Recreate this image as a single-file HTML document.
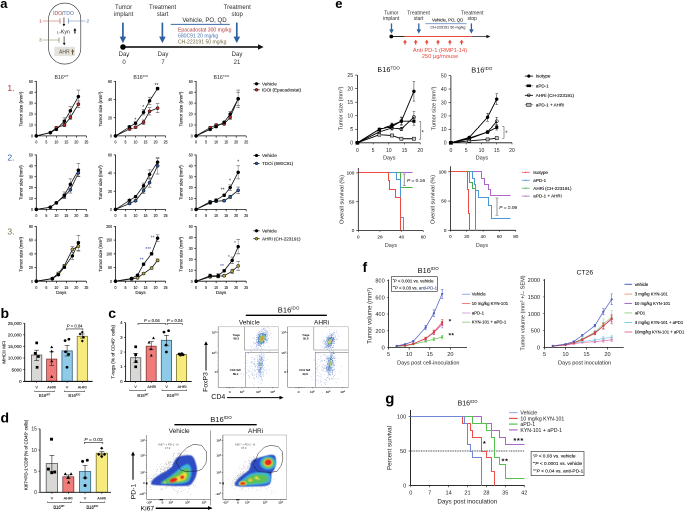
<!DOCTYPE html>
<html><head><meta charset="utf-8"><style>
html,body{margin:0;padding:0;background:#fff;}
body{width:685px;height:511px;overflow:hidden;position:relative;}
#w{position:absolute;left:0;top:0;width:1370px;height:1022px;transform:scale(0.5);transform-origin:0 0;will-change:transform;}
svg{display:block;font-family:"Liberation Sans",sans-serif;}
</style></head><body><div id="w">
<svg width="1370" height="1022" viewBox="0 0 685 511">
<text x="0.3" y="8.2" font-size="13" fill="#000" text-anchor="start" font-weight="bold" >a</text>
<text x="335.3" y="8" font-size="13" fill="#000" text-anchor="start" font-weight="bold" >e</text>
<text x="0.5" y="318" font-size="14" fill="#000" text-anchor="start" font-weight="bold" >b</text>
<text x="108.3" y="318" font-size="14" fill="#000" text-anchor="start" font-weight="bold" >c</text>
<text x="0.5" y="422.3" font-size="14" fill="#000" text-anchor="start" font-weight="bold" >d</text>
<text x="362.5" y="271.8" font-size="14" fill="#000" text-anchor="start" font-weight="bold" >f</text>
<text x="385.3" y="403.5" font-size="15" fill="#000" text-anchor="start" font-weight="bold" >g</text>
<rect x="48.6" y="3.1" width="32.2" height="61" fill="none" stroke="#222" stroke-width="0.6" rx="16" ry="16"/>
<text x="63.5" y="15.2" font-size="5" text-anchor="middle"><tspan fill="#b23a3a">IDO</tspan><tspan fill="#333">/</tspan><tspan fill="#4a6fa8">TDO</tspan></text>
<line x1="42.5" y1="21" x2="60" y2="21" stroke="#c0504d" stroke-width="0.5" />
<line x1="60" y1="18.2" x2="60" y2="23.6" stroke="#c0504d" stroke-width="0.7" />
<text x="40.4" y="22.5" font-size="4.2" fill="#c0504d" text-anchor="middle" font-weight="normal"  stroke="#c0504d" stroke-width="0.12">1</text>
<line x1="68.3" y1="21" x2="85.5" y2="21" stroke="#5b7fb5" stroke-width="0.5" />
<line x1="68.3" y1="18.2" x2="68.3" y2="23.6" stroke="#5b7fb5" stroke-width="0.7" />
<text x="87.8" y="22.5" font-size="4.2" fill="#5b7fb5" text-anchor="middle" font-weight="normal"  stroke="#5b7fb5" stroke-width="0.12">2</text>
<line x1="42.5" y1="40" x2="59" y2="40" stroke="#857a52" stroke-width="0.5" />
<line x1="59" y1="37.4" x2="59" y2="42.6" stroke="#857a52" stroke-width="0.7" />
<text x="40.4" y="41.5" font-size="4.2" fill="#857a52" text-anchor="middle" font-weight="normal"  stroke="#857a52" stroke-width="0.12">3</text>
<line x1="63.9" y1="17.4" x2="63.9" y2="24.4" stroke="#8a8a8a" stroke-width="1.3" />
<polygon points="62.5,24 65.3,24 63.9,26.5" fill="#111" stroke="none" stroke-width="1" />
<line x1="64.2" y1="36.3" x2="64.2" y2="43.3" stroke="#8a8a8a" stroke-width="1.3" />
<polygon points="62.8,42.9 65.6,42.9 64.2,45.4" fill="#111" stroke="none" stroke-width="1" />
<text x="57" y="33.4" font-size="5.2" fill="#222" text-anchor="start" font-weight="normal" ><tspan font-size="3.9">L</tspan>-Kyn</text>
<line x1="74.9" y1="30.3" x2="74.9" y2="33.6" stroke="#111" stroke-width="1.1" />
<polygon points="73.4,30.6 76.4,30.6 74.9,28" fill="#111" stroke="none" stroke-width="1" />
<rect x="54.2" y="46.8" width="20.8" height="9.3" fill="#e3e2de" stroke="none" stroke-width="1" />
<text x="59" y="53.6" font-size="5" fill="#5a5030" text-anchor="start" font-weight="normal" >AHR</text>
<line x1="72.6" y1="51.3" x2="72.6" y2="54.6" stroke="#6a5a30" stroke-width="1.1" />
<polygon points="71.1,51.6 74.1,51.6 72.6,49" fill="#6a5a30" stroke="none" stroke-width="1" />
<text x="123.6" y="9" font-size="6" fill="#2a2a2a" text-anchor="middle" font-weight="normal" >Tumor</text>
<text x="123.6" y="16.2" font-size="6" fill="#2a2a2a" text-anchor="middle" font-weight="normal" >implant</text>
<text x="162.6" y="9" font-size="6" fill="#2a2a2a" text-anchor="middle" font-weight="normal" >Treatment</text>
<text x="162.6" y="16.2" font-size="6" fill="#2a2a2a" text-anchor="middle" font-weight="normal" >start</text>
<text x="237.2" y="9" font-size="6" fill="#2a2a2a" text-anchor="middle" font-weight="normal" >Treatment</text>
<text x="237.2" y="16.2" font-size="6" fill="#2a2a2a" text-anchor="middle" font-weight="normal" >stop</text>
<line x1="122.9" y1="22.6" x2="122.9" y2="37.1" stroke="#2e61a0" stroke-width="1.7" />
<polygon points="119.6,36.6 126.2,36.6 122.9,43.1" fill="#2e61a0" stroke="none" stroke-width="1" />
<line x1="162.4" y1="22.6" x2="162.4" y2="37.1" stroke="#2e61a0" stroke-width="1.7" />
<polygon points="159.1,36.6 165.7,36.6 162.4,43.1" fill="#2e61a0" stroke="none" stroke-width="1" />
<line x1="236.8" y1="22.6" x2="236.8" y2="37.1" stroke="#2e61a0" stroke-width="1.7" />
<polygon points="233.5,36.6 240.1,36.6 236.8,43.1" fill="#2e61a0" stroke="none" stroke-width="1" />
<line x1="123" y1="47" x2="259" y2="47" stroke="#000" stroke-width="1.5" />
<polygon points="258,44.3 258,49.7 263.6,47" fill="#111" stroke="none" stroke-width="1" />
<circle cx="123" cy="47" r="2.8" fill="#000" stroke="none" stroke-width="0.5"/>
<text x="124" y="56.2" font-size="6" fill="#2a2a2a" text-anchor="middle" font-weight="normal" >Day</text>
<text x="124" y="64.1" font-size="6" fill="#2a2a2a" text-anchor="middle" font-weight="normal" >0</text>
<text x="163" y="56.2" font-size="6" fill="#2a2a2a" text-anchor="middle" font-weight="normal" >Day</text>
<text x="163" y="64.1" font-size="6" fill="#2a2a2a" text-anchor="middle" font-weight="normal" >7</text>
<text x="237" y="56.2" font-size="6" fill="#2a2a2a" text-anchor="middle" font-weight="normal" >Day</text>
<text x="237" y="64.1" font-size="6" fill="#2a2a2a" text-anchor="middle" font-weight="normal" >21</text>
<text x="204.5" y="22" font-size="6.1" fill="#2a2a2a" text-anchor="middle" font-weight="normal" >Vehicle, PO, QD</text>
<line x1="170.7" y1="24.4" x2="229.8" y2="24.4" stroke="#3d6aa5" stroke-width="1" />
<text x="178" y="31.5" font-size="5.1" fill="#b03a3a" text-anchor="start" font-weight="normal" >Epacadostat 300 mg/kg</text>
<text x="178" y="37.6" font-size="5.1" fill="#4a70b0" text-anchor="start" font-weight="normal" >680C91 20 mg/kg</text>
<text x="178" y="43.7" font-size="5.1" fill="#6e6540" text-anchor="start" font-weight="normal" >CH-223191 50 mg/kg</text>
<line x1="36.3" y1="81" x2="36.3" y2="135.9" stroke="#111" stroke-width="0.8" />
<line x1="36.3" y1="135.9" x2="86.4" y2="135.9" stroke="#111" stroke-width="0.8" />
<line x1="34.5" y1="135.9" x2="36.3" y2="135.9" stroke="#111" stroke-width="0.7" />
<text transform="translate(32.9 137.45) scale(0.82 1)" font-size="4.3" fill="#1a1a1a" text-anchor="end" stroke="#1a1a1a" stroke-width="0.12">0</text>
<line x1="34.5" y1="124.98" x2="36.3" y2="124.98" stroke="#111" stroke-width="0.7" />
<text transform="translate(32.9 126.53) scale(0.82 1)" font-size="4.3" fill="#1a1a1a" text-anchor="end" stroke="#1a1a1a" stroke-width="0.12">10</text>
<line x1="34.5" y1="114.06" x2="36.3" y2="114.06" stroke="#111" stroke-width="0.7" />
<text transform="translate(32.9 115.61) scale(0.82 1)" font-size="4.3" fill="#1a1a1a" text-anchor="end" stroke="#1a1a1a" stroke-width="0.12">20</text>
<line x1="34.5" y1="103.14" x2="36.3" y2="103.14" stroke="#111" stroke-width="0.7" />
<text transform="translate(32.9 104.69) scale(0.82 1)" font-size="4.3" fill="#1a1a1a" text-anchor="end" stroke="#1a1a1a" stroke-width="0.12">30</text>
<line x1="34.5" y1="92.22" x2="36.3" y2="92.22" stroke="#111" stroke-width="0.7" />
<text transform="translate(32.9 93.77) scale(0.82 1)" font-size="4.3" fill="#1a1a1a" text-anchor="end" stroke="#1a1a1a" stroke-width="0.12">40</text>
<line x1="34.5" y1="81.3" x2="36.3" y2="81.3" stroke="#111" stroke-width="0.7" />
<text transform="translate(32.9 82.85) scale(0.82 1)" font-size="4.3" fill="#1a1a1a" text-anchor="end" stroke="#1a1a1a" stroke-width="0.12">50</text>
<line x1="36.3" y1="135.9" x2="36.3" y2="137.8" stroke="#111" stroke-width="0.7" />
<text transform="translate(36.3 143.6) scale(0.82 1)" font-size="4.3" fill="#1a1a1a" text-anchor="middle" stroke="#1a1a1a" stroke-width="0.12">0</text>
<line x1="46.32" y1="135.9" x2="46.32" y2="137.8" stroke="#111" stroke-width="0.7" />
<text transform="translate(46.32 143.6) scale(0.82 1)" font-size="4.3" fill="#1a1a1a" text-anchor="middle" stroke="#1a1a1a" stroke-width="0.12">5</text>
<line x1="56.34" y1="135.9" x2="56.34" y2="137.8" stroke="#111" stroke-width="0.7" />
<text transform="translate(56.34 143.6) scale(0.82 1)" font-size="4.3" fill="#1a1a1a" text-anchor="middle" stroke="#1a1a1a" stroke-width="0.12">10</text>
<line x1="66.36" y1="135.9" x2="66.36" y2="137.8" stroke="#111" stroke-width="0.7" />
<text transform="translate(66.36 143.6) scale(0.82 1)" font-size="4.3" fill="#1a1a1a" text-anchor="middle" stroke="#1a1a1a" stroke-width="0.12">15</text>
<line x1="76.38" y1="135.9" x2="76.38" y2="137.8" stroke="#111" stroke-width="0.7" />
<text transform="translate(76.38 143.6) scale(0.82 1)" font-size="4.3" fill="#1a1a1a" text-anchor="middle" stroke="#1a1a1a" stroke-width="0.12">20</text>
<line x1="86.4" y1="135.9" x2="86.4" y2="137.8" stroke="#111" stroke-width="0.7" />
<text transform="translate(86.4 143.6) scale(0.82 1)" font-size="4.3" fill="#1a1a1a" text-anchor="middle" stroke="#1a1a1a" stroke-width="0.12">25</text>
<text transform="translate(22.7 109.1) rotate(-90)" font-size="4.45" fill="#1a1a1a" text-anchor="middle"  stroke="#1a1a1a" stroke-width="0.12">Tumor size (mm<tspan font-size="2.6" dy="-1.4">3</tspan><tspan dy="1.4">)</tspan></text>
<text x="61.6" y="78.8" font-size="5.2" fill="#222" text-anchor="middle" font-weight="normal" >B16<tspan font-size="3.12" dy="-1.82">WT</tspan></text>
<polyline points="36.3,135.9 50.33,132.62 56.34,129.35 64.36,121.16 70.37,110.78 78.38,96.59" stroke="#111" stroke-width="0.8" fill="none" />
<polyline points="36.3,135.9 50.33,132.62 56.34,127.71 64.36,124.98 70.37,117.34 78.38,104.23" stroke="#111" stroke-width="0.8" fill="none" />
<line x1="50.33" y1="131.97" x2="50.33" y2="133.28" stroke="#8a8a8a" stroke-width="0.6" />
<line x1="48.53" y1="131.97" x2="52.13" y2="131.97" stroke="#555" stroke-width="0.6" />
<line x1="48.53" y1="133.28" x2="52.13" y2="133.28" stroke="#555" stroke-width="0.6" />
<line x1="56.34" y1="128.26" x2="56.34" y2="130.44" stroke="#8a8a8a" stroke-width="0.6" />
<line x1="54.54" y1="128.26" x2="58.14" y2="128.26" stroke="#555" stroke-width="0.6" />
<line x1="54.54" y1="130.44" x2="58.14" y2="130.44" stroke="#555" stroke-width="0.6" />
<line x1="64.36" y1="117.88" x2="64.36" y2="124.43" stroke="#8a8a8a" stroke-width="0.6" />
<line x1="62.56" y1="117.88" x2="66.16" y2="117.88" stroke="#555" stroke-width="0.6" />
<line x1="62.56" y1="124.43" x2="66.16" y2="124.43" stroke="#555" stroke-width="0.6" />
<line x1="70.37" y1="106.42" x2="70.37" y2="115.15" stroke="#8a8a8a" stroke-width="0.6" />
<line x1="68.57" y1="106.42" x2="72.17" y2="106.42" stroke="#555" stroke-width="0.6" />
<line x1="68.57" y1="115.15" x2="72.17" y2="115.15" stroke="#555" stroke-width="0.6" />
<line x1="78.38" y1="90.04" x2="78.38" y2="103.14" stroke="#8a8a8a" stroke-width="0.6" />
<line x1="76.58" y1="90.04" x2="80.18" y2="90.04" stroke="#555" stroke-width="0.6" />
<line x1="76.58" y1="103.14" x2="80.18" y2="103.14" stroke="#555" stroke-width="0.6" />
<line x1="50.33" y1="131.97" x2="50.33" y2="133.28" stroke="#8a8a8a" stroke-width="0.6" />
<line x1="48.53" y1="131.97" x2="52.13" y2="131.97" stroke="#555" stroke-width="0.6" />
<line x1="48.53" y1="133.28" x2="52.13" y2="133.28" stroke="#555" stroke-width="0.6" />
<line x1="56.34" y1="126.62" x2="56.34" y2="128.8" stroke="#8a8a8a" stroke-width="0.6" />
<line x1="54.54" y1="126.62" x2="58.14" y2="126.62" stroke="#555" stroke-width="0.6" />
<line x1="54.54" y1="128.8" x2="58.14" y2="128.8" stroke="#555" stroke-width="0.6" />
<line x1="64.36" y1="123.34" x2="64.36" y2="126.62" stroke="#8a8a8a" stroke-width="0.6" />
<line x1="62.56" y1="123.34" x2="66.16" y2="123.34" stroke="#555" stroke-width="0.6" />
<line x1="62.56" y1="126.62" x2="66.16" y2="126.62" stroke="#555" stroke-width="0.6" />
<line x1="70.37" y1="115.15" x2="70.37" y2="119.52" stroke="#8a8a8a" stroke-width="0.6" />
<line x1="68.57" y1="115.15" x2="72.17" y2="115.15" stroke="#555" stroke-width="0.6" />
<line x1="68.57" y1="119.52" x2="72.17" y2="119.52" stroke="#555" stroke-width="0.6" />
<line x1="78.38" y1="100.96" x2="78.38" y2="107.51" stroke="#8a8a8a" stroke-width="0.6" />
<line x1="76.58" y1="100.96" x2="80.18" y2="100.96" stroke="#555" stroke-width="0.6" />
<line x1="76.58" y1="107.51" x2="80.18" y2="107.51" stroke="#555" stroke-width="0.6" />
<circle cx="36.3" cy="135.9" r="1.55" fill="#c1272d" stroke="#000" stroke-width="0.5"/>
<circle cx="50.33" cy="132.62" r="1.55" fill="#c1272d" stroke="#000" stroke-width="0.5"/>
<circle cx="56.34" cy="127.71" r="1.55" fill="#c1272d" stroke="#000" stroke-width="0.5"/>
<circle cx="64.36" cy="124.98" r="1.55" fill="#c1272d" stroke="#000" stroke-width="0.5"/>
<circle cx="70.37" cy="117.34" r="1.55" fill="#c1272d" stroke="#000" stroke-width="0.5"/>
<circle cx="78.38" cy="104.23" r="1.55" fill="#c1272d" stroke="#000" stroke-width="0.5"/>
<circle cx="36.3" cy="135.9" r="1.55" fill="#000" stroke="#000" stroke-width="0.5"/>
<circle cx="50.33" cy="132.62" r="1.55" fill="#000" stroke="#000" stroke-width="0.5"/>
<circle cx="56.34" cy="129.35" r="1.55" fill="#000" stroke="#000" stroke-width="0.5"/>
<circle cx="64.36" cy="121.16" r="1.55" fill="#000" stroke="#000" stroke-width="0.5"/>
<circle cx="70.37" cy="110.78" r="1.55" fill="#000" stroke="#000" stroke-width="0.5"/>
<circle cx="78.38" cy="96.59" r="1.55" fill="#000" stroke="#000" stroke-width="0.5"/>
<line x1="115.5" y1="81" x2="115.5" y2="135.9" stroke="#111" stroke-width="0.8" />
<line x1="115.5" y1="135.9" x2="165.6" y2="135.9" stroke="#111" stroke-width="0.8" />
<line x1="113.7" y1="135.9" x2="115.5" y2="135.9" stroke="#111" stroke-width="0.7" />
<text transform="translate(112.1 137.45) scale(0.82 1)" font-size="4.3" fill="#1a1a1a" text-anchor="end" stroke="#1a1a1a" stroke-width="0.12">0</text>
<line x1="113.7" y1="117.7" x2="115.5" y2="117.7" stroke="#111" stroke-width="0.7" />
<text transform="translate(112.1 119.25) scale(0.82 1)" font-size="4.3" fill="#1a1a1a" text-anchor="end" stroke="#1a1a1a" stroke-width="0.12">20</text>
<line x1="113.7" y1="99.5" x2="115.5" y2="99.5" stroke="#111" stroke-width="0.7" />
<text transform="translate(112.1 101.05) scale(0.82 1)" font-size="4.3" fill="#1a1a1a" text-anchor="end" stroke="#1a1a1a" stroke-width="0.12">40</text>
<line x1="113.7" y1="81.3" x2="115.5" y2="81.3" stroke="#111" stroke-width="0.7" />
<text transform="translate(112.1 82.85) scale(0.82 1)" font-size="4.3" fill="#1a1a1a" text-anchor="end" stroke="#1a1a1a" stroke-width="0.12">60</text>
<line x1="115.5" y1="135.9" x2="115.5" y2="137.8" stroke="#111" stroke-width="0.7" />
<text transform="translate(115.5 143.6) scale(0.82 1)" font-size="4.3" fill="#1a1a1a" text-anchor="middle" stroke="#1a1a1a" stroke-width="0.12">0</text>
<line x1="125.52" y1="135.9" x2="125.52" y2="137.8" stroke="#111" stroke-width="0.7" />
<text transform="translate(125.52 143.6) scale(0.82 1)" font-size="4.3" fill="#1a1a1a" text-anchor="middle" stroke="#1a1a1a" stroke-width="0.12">5</text>
<line x1="135.54" y1="135.9" x2="135.54" y2="137.8" stroke="#111" stroke-width="0.7" />
<text transform="translate(135.54 143.6) scale(0.82 1)" font-size="4.3" fill="#1a1a1a" text-anchor="middle" stroke="#1a1a1a" stroke-width="0.12">10</text>
<line x1="145.56" y1="135.9" x2="145.56" y2="137.8" stroke="#111" stroke-width="0.7" />
<text transform="translate(145.56 143.6) scale(0.82 1)" font-size="4.3" fill="#1a1a1a" text-anchor="middle" stroke="#1a1a1a" stroke-width="0.12">15</text>
<line x1="155.58" y1="135.9" x2="155.58" y2="137.8" stroke="#111" stroke-width="0.7" />
<text transform="translate(155.58 143.6) scale(0.82 1)" font-size="4.3" fill="#1a1a1a" text-anchor="middle" stroke="#1a1a1a" stroke-width="0.12">20</text>
<line x1="165.6" y1="135.9" x2="165.6" y2="137.8" stroke="#111" stroke-width="0.7" />
<text transform="translate(165.6 143.6) scale(0.82 1)" font-size="4.3" fill="#1a1a1a" text-anchor="middle" stroke="#1a1a1a" stroke-width="0.12">25</text>
<text transform="translate(101.9 109.1) rotate(-90)" font-size="4.45" fill="#1a1a1a" text-anchor="middle"  stroke="#1a1a1a" stroke-width="0.12">Tumor size (mm<tspan font-size="2.6" dy="-1.4">3</tspan><tspan dy="1.4">)</tspan></text>
<text x="140.8" y="78.8" font-size="5.2" fill="#222" text-anchor="middle" font-weight="normal" >B16<tspan font-size="3.12" dy="-1.82">IDO</tspan></text>
<polyline points="115.5,135.9 129.53,126.8 135.54,123.16 143.56,112.24 149.57,100.87 157.58,88.58" stroke="#111" stroke-width="0.8" fill="none" />
<polyline points="115.5,135.9 129.53,129.08 135.54,127.26 143.56,122.25 149.57,111.33 157.58,108.15" stroke="#111" stroke-width="0.8" fill="none" />
<line x1="129.53" y1="125.89" x2="129.53" y2="127.71" stroke="#8a8a8a" stroke-width="0.6" />
<line x1="127.73" y1="125.89" x2="131.33" y2="125.89" stroke="#555" stroke-width="0.6" />
<line x1="127.73" y1="127.71" x2="131.33" y2="127.71" stroke="#555" stroke-width="0.6" />
<line x1="135.54" y1="121.8" x2="135.54" y2="124.52" stroke="#8a8a8a" stroke-width="0.6" />
<line x1="133.74" y1="121.8" x2="137.34" y2="121.8" stroke="#555" stroke-width="0.6" />
<line x1="133.74" y1="124.52" x2="137.34" y2="124.52" stroke="#555" stroke-width="0.6" />
<line x1="143.56" y1="109.51" x2="143.56" y2="114.97" stroke="#8a8a8a" stroke-width="0.6" />
<line x1="141.76" y1="109.51" x2="145.36" y2="109.51" stroke="#555" stroke-width="0.6" />
<line x1="141.76" y1="114.97" x2="145.36" y2="114.97" stroke="#555" stroke-width="0.6" />
<line x1="149.57" y1="97.23" x2="149.57" y2="104.51" stroke="#8a8a8a" stroke-width="0.6" />
<line x1="147.77" y1="97.23" x2="151.37" y2="97.23" stroke="#555" stroke-width="0.6" />
<line x1="147.77" y1="104.51" x2="151.37" y2="104.51" stroke="#555" stroke-width="0.6" />
<line x1="157.58" y1="87.22" x2="157.58" y2="89.94" stroke="#8a8a8a" stroke-width="0.6" />
<line x1="155.78" y1="87.22" x2="159.38" y2="87.22" stroke="#555" stroke-width="0.6" />
<line x1="155.78" y1="89.94" x2="159.38" y2="89.94" stroke="#555" stroke-width="0.6" />
<line x1="129.53" y1="128.17" x2="129.53" y2="129.99" stroke="#8a8a8a" stroke-width="0.6" />
<line x1="127.73" y1="128.17" x2="131.33" y2="128.17" stroke="#555" stroke-width="0.6" />
<line x1="127.73" y1="129.99" x2="131.33" y2="129.99" stroke="#555" stroke-width="0.6" />
<line x1="135.54" y1="126.35" x2="135.54" y2="128.17" stroke="#8a8a8a" stroke-width="0.6" />
<line x1="133.74" y1="126.35" x2="137.34" y2="126.35" stroke="#555" stroke-width="0.6" />
<line x1="133.74" y1="128.17" x2="137.34" y2="128.17" stroke="#555" stroke-width="0.6" />
<line x1="143.56" y1="119.97" x2="143.56" y2="124.53" stroke="#8a8a8a" stroke-width="0.6" />
<line x1="141.76" y1="119.97" x2="145.36" y2="119.97" stroke="#555" stroke-width="0.6" />
<line x1="141.76" y1="124.53" x2="145.36" y2="124.53" stroke="#555" stroke-width="0.6" />
<line x1="149.57" y1="107.69" x2="149.57" y2="114.97" stroke="#8a8a8a" stroke-width="0.6" />
<line x1="147.77" y1="107.69" x2="151.37" y2="107.69" stroke="#555" stroke-width="0.6" />
<line x1="147.77" y1="114.97" x2="151.37" y2="114.97" stroke="#555" stroke-width="0.6" />
<line x1="157.58" y1="103.6" x2="157.58" y2="112.7" stroke="#8a8a8a" stroke-width="0.6" />
<line x1="155.78" y1="103.6" x2="159.38" y2="103.6" stroke="#555" stroke-width="0.6" />
<line x1="155.78" y1="112.7" x2="159.38" y2="112.7" stroke="#555" stroke-width="0.6" />
<circle cx="115.5" cy="135.9" r="1.55" fill="#c1272d" stroke="#000" stroke-width="0.5"/>
<circle cx="129.53" cy="129.08" r="1.55" fill="#c1272d" stroke="#000" stroke-width="0.5"/>
<circle cx="135.54" cy="127.26" r="1.55" fill="#c1272d" stroke="#000" stroke-width="0.5"/>
<circle cx="143.56" cy="122.25" r="1.55" fill="#c1272d" stroke="#000" stroke-width="0.5"/>
<circle cx="149.57" cy="111.33" r="1.55" fill="#c1272d" stroke="#000" stroke-width="0.5"/>
<circle cx="157.58" cy="108.15" r="1.55" fill="#c1272d" stroke="#000" stroke-width="0.5"/>
<circle cx="115.5" cy="135.9" r="1.55" fill="#000" stroke="#000" stroke-width="0.5"/>
<circle cx="129.53" cy="126.8" r="1.55" fill="#000" stroke="#000" stroke-width="0.5"/>
<circle cx="135.54" cy="123.16" r="1.55" fill="#000" stroke="#000" stroke-width="0.5"/>
<circle cx="143.56" cy="112.24" r="1.55" fill="#000" stroke="#000" stroke-width="0.5"/>
<circle cx="149.57" cy="100.87" r="1.55" fill="#000" stroke="#000" stroke-width="0.5"/>
<circle cx="157.58" cy="88.58" r="1.55" fill="#000" stroke="#000" stroke-width="0.5"/>
<text x="135.4" y="121.7" font-size="5" fill="#222" text-anchor="middle" font-weight="normal" >*</text>
<text x="143.2" y="109.2" font-size="5" fill="#222" text-anchor="middle" font-weight="normal" >*</text>
<text x="156.5" y="86.9" font-size="5" fill="#222" text-anchor="middle" font-weight="normal" >**</text>
<line x1="196.1" y1="81" x2="196.1" y2="135.9" stroke="#111" stroke-width="0.8" />
<line x1="196.1" y1="135.9" x2="246.2" y2="135.9" stroke="#111" stroke-width="0.8" />
<line x1="194.3" y1="135.9" x2="196.1" y2="135.9" stroke="#111" stroke-width="0.7" />
<text transform="translate(192.7 137.45) scale(0.82 1)" font-size="4.3" fill="#1a1a1a" text-anchor="end" stroke="#1a1a1a" stroke-width="0.12">0</text>
<line x1="194.3" y1="124.98" x2="196.1" y2="124.98" stroke="#111" stroke-width="0.7" />
<text transform="translate(192.7 126.53) scale(0.82 1)" font-size="4.3" fill="#1a1a1a" text-anchor="end" stroke="#1a1a1a" stroke-width="0.12">10</text>
<line x1="194.3" y1="114.06" x2="196.1" y2="114.06" stroke="#111" stroke-width="0.7" />
<text transform="translate(192.7 115.61) scale(0.82 1)" font-size="4.3" fill="#1a1a1a" text-anchor="end" stroke="#1a1a1a" stroke-width="0.12">20</text>
<line x1="194.3" y1="103.14" x2="196.1" y2="103.14" stroke="#111" stroke-width="0.7" />
<text transform="translate(192.7 104.69) scale(0.82 1)" font-size="4.3" fill="#1a1a1a" text-anchor="end" stroke="#1a1a1a" stroke-width="0.12">30</text>
<line x1="194.3" y1="92.22" x2="196.1" y2="92.22" stroke="#111" stroke-width="0.7" />
<text transform="translate(192.7 93.77) scale(0.82 1)" font-size="4.3" fill="#1a1a1a" text-anchor="end" stroke="#1a1a1a" stroke-width="0.12">40</text>
<line x1="194.3" y1="81.3" x2="196.1" y2="81.3" stroke="#111" stroke-width="0.7" />
<text transform="translate(192.7 82.85) scale(0.82 1)" font-size="4.3" fill="#1a1a1a" text-anchor="end" stroke="#1a1a1a" stroke-width="0.12">50</text>
<line x1="196.1" y1="135.9" x2="196.1" y2="137.8" stroke="#111" stroke-width="0.7" />
<text transform="translate(196.1 143.6) scale(0.82 1)" font-size="4.3" fill="#1a1a1a" text-anchor="middle" stroke="#1a1a1a" stroke-width="0.12">0</text>
<line x1="206.12" y1="135.9" x2="206.12" y2="137.8" stroke="#111" stroke-width="0.7" />
<text transform="translate(206.12 143.6) scale(0.82 1)" font-size="4.3" fill="#1a1a1a" text-anchor="middle" stroke="#1a1a1a" stroke-width="0.12">5</text>
<line x1="216.14" y1="135.9" x2="216.14" y2="137.8" stroke="#111" stroke-width="0.7" />
<text transform="translate(216.14 143.6) scale(0.82 1)" font-size="4.3" fill="#1a1a1a" text-anchor="middle" stroke="#1a1a1a" stroke-width="0.12">10</text>
<line x1="226.16" y1="135.9" x2="226.16" y2="137.8" stroke="#111" stroke-width="0.7" />
<text transform="translate(226.16 143.6) scale(0.82 1)" font-size="4.3" fill="#1a1a1a" text-anchor="middle" stroke="#1a1a1a" stroke-width="0.12">15</text>
<line x1="236.18" y1="135.9" x2="236.18" y2="137.8" stroke="#111" stroke-width="0.7" />
<text transform="translate(236.18 143.6) scale(0.82 1)" font-size="4.3" fill="#1a1a1a" text-anchor="middle" stroke="#1a1a1a" stroke-width="0.12">20</text>
<line x1="246.2" y1="135.9" x2="246.2" y2="137.8" stroke="#111" stroke-width="0.7" />
<text transform="translate(246.2 143.6) scale(0.82 1)" font-size="4.3" fill="#1a1a1a" text-anchor="middle" stroke="#1a1a1a" stroke-width="0.12">25</text>
<text transform="translate(182.5 109.1) rotate(-90)" font-size="4.45" fill="#1a1a1a" text-anchor="middle"  stroke="#1a1a1a" stroke-width="0.12">Tumor size (mm<tspan font-size="2.6" dy="-1.4">3</tspan><tspan dy="1.4">)</tspan></text>
<text x="221.4" y="78.8" font-size="5.2" fill="#222" text-anchor="middle" font-weight="normal" >B16<tspan font-size="3.12" dy="-1.82">TDO</tspan></text>
<polyline points="196.1,135.9 210.13,129.35 216.14,126.62 224.16,122.25 230.17,114.06 238.18,98.77" stroke="#111" stroke-width="0.8" fill="none" />
<polyline points="196.1,135.9 210.13,127.71 216.14,124.98 224.16,123.89 230.17,117.34 238.18,98.77" stroke="#111" stroke-width="0.8" fill="none" />
<line x1="210.13" y1="128.26" x2="210.13" y2="130.44" stroke="#8a8a8a" stroke-width="0.6" />
<line x1="208.33" y1="128.26" x2="211.93" y2="128.26" stroke="#555" stroke-width="0.6" />
<line x1="208.33" y1="130.44" x2="211.93" y2="130.44" stroke="#555" stroke-width="0.6" />
<line x1="216.14" y1="125.53" x2="216.14" y2="127.71" stroke="#8a8a8a" stroke-width="0.6" />
<line x1="214.34" y1="125.53" x2="217.94" y2="125.53" stroke="#555" stroke-width="0.6" />
<line x1="214.34" y1="127.71" x2="217.94" y2="127.71" stroke="#555" stroke-width="0.6" />
<line x1="224.16" y1="121.16" x2="224.16" y2="123.34" stroke="#8a8a8a" stroke-width="0.6" />
<line x1="222.36" y1="121.16" x2="225.96" y2="121.16" stroke="#555" stroke-width="0.6" />
<line x1="222.36" y1="123.34" x2="225.96" y2="123.34" stroke="#555" stroke-width="0.6" />
<line x1="230.17" y1="111.33" x2="230.17" y2="116.79" stroke="#8a8a8a" stroke-width="0.6" />
<line x1="228.37" y1="111.33" x2="231.97" y2="111.33" stroke="#555" stroke-width="0.6" />
<line x1="228.37" y1="116.79" x2="231.97" y2="116.79" stroke="#555" stroke-width="0.6" />
<line x1="238.18" y1="90.04" x2="238.18" y2="107.51" stroke="#8a8a8a" stroke-width="0.6" />
<line x1="236.38" y1="90.04" x2="239.98" y2="90.04" stroke="#555" stroke-width="0.6" />
<line x1="236.38" y1="107.51" x2="239.98" y2="107.51" stroke="#555" stroke-width="0.6" />
<line x1="210.13" y1="126.62" x2="210.13" y2="128.8" stroke="#8a8a8a" stroke-width="0.6" />
<line x1="208.33" y1="126.62" x2="211.93" y2="126.62" stroke="#555" stroke-width="0.6" />
<line x1="208.33" y1="128.8" x2="211.93" y2="128.8" stroke="#555" stroke-width="0.6" />
<line x1="216.14" y1="123.89" x2="216.14" y2="126.07" stroke="#8a8a8a" stroke-width="0.6" />
<line x1="214.34" y1="123.89" x2="217.94" y2="123.89" stroke="#555" stroke-width="0.6" />
<line x1="214.34" y1="126.07" x2="217.94" y2="126.07" stroke="#555" stroke-width="0.6" />
<line x1="224.16" y1="122.8" x2="224.16" y2="124.98" stroke="#8a8a8a" stroke-width="0.6" />
<line x1="222.36" y1="122.8" x2="225.96" y2="122.8" stroke="#555" stroke-width="0.6" />
<line x1="222.36" y1="124.98" x2="225.96" y2="124.98" stroke="#555" stroke-width="0.6" />
<line x1="230.17" y1="115.15" x2="230.17" y2="119.52" stroke="#8a8a8a" stroke-width="0.6" />
<line x1="228.37" y1="115.15" x2="231.97" y2="115.15" stroke="#555" stroke-width="0.6" />
<line x1="228.37" y1="119.52" x2="231.97" y2="119.52" stroke="#555" stroke-width="0.6" />
<line x1="238.18" y1="92.22" x2="238.18" y2="105.32" stroke="#8a8a8a" stroke-width="0.6" />
<line x1="236.38" y1="92.22" x2="239.98" y2="92.22" stroke="#555" stroke-width="0.6" />
<line x1="236.38" y1="105.32" x2="239.98" y2="105.32" stroke="#555" stroke-width="0.6" />
<circle cx="196.1" cy="135.9" r="1.55" fill="#c1272d" stroke="#000" stroke-width="0.5"/>
<circle cx="210.13" cy="127.71" r="1.55" fill="#c1272d" stroke="#000" stroke-width="0.5"/>
<circle cx="216.14" cy="124.98" r="1.55" fill="#c1272d" stroke="#000" stroke-width="0.5"/>
<circle cx="224.16" cy="123.89" r="1.55" fill="#c1272d" stroke="#000" stroke-width="0.5"/>
<circle cx="230.17" cy="117.34" r="1.55" fill="#c1272d" stroke="#000" stroke-width="0.5"/>
<circle cx="238.18" cy="98.77" r="1.55" fill="#c1272d" stroke="#000" stroke-width="0.5"/>
<circle cx="196.1" cy="135.9" r="1.55" fill="#000" stroke="#000" stroke-width="0.5"/>
<circle cx="210.13" cy="129.35" r="1.55" fill="#000" stroke="#000" stroke-width="0.5"/>
<circle cx="216.14" cy="126.62" r="1.55" fill="#000" stroke="#000" stroke-width="0.5"/>
<circle cx="224.16" cy="122.25" r="1.55" fill="#000" stroke="#000" stroke-width="0.5"/>
<circle cx="230.17" cy="114.06" r="1.55" fill="#000" stroke="#000" stroke-width="0.5"/>
<circle cx="238.18" cy="98.77" r="1.55" fill="#000" stroke="#000" stroke-width="0.5"/>
<line x1="36.3" y1="154.6" x2="36.3" y2="209.4" stroke="#111" stroke-width="0.8" />
<line x1="36.3" y1="209.4" x2="86.4" y2="209.4" stroke="#111" stroke-width="0.8" />
<line x1="34.5" y1="209.4" x2="36.3" y2="209.4" stroke="#111" stroke-width="0.7" />
<text transform="translate(32.9 210.95) scale(0.82 1)" font-size="4.3" fill="#1a1a1a" text-anchor="end" stroke="#1a1a1a" stroke-width="0.12">0</text>
<line x1="34.5" y1="198.5" x2="36.3" y2="198.5" stroke="#111" stroke-width="0.7" />
<text transform="translate(32.9 200.05) scale(0.82 1)" font-size="4.3" fill="#1a1a1a" text-anchor="end" stroke="#1a1a1a" stroke-width="0.12">10</text>
<line x1="34.5" y1="187.6" x2="36.3" y2="187.6" stroke="#111" stroke-width="0.7" />
<text transform="translate(32.9 189.15) scale(0.82 1)" font-size="4.3" fill="#1a1a1a" text-anchor="end" stroke="#1a1a1a" stroke-width="0.12">20</text>
<line x1="34.5" y1="176.7" x2="36.3" y2="176.7" stroke="#111" stroke-width="0.7" />
<text transform="translate(32.9 178.25) scale(0.82 1)" font-size="4.3" fill="#1a1a1a" text-anchor="end" stroke="#1a1a1a" stroke-width="0.12">30</text>
<line x1="34.5" y1="165.8" x2="36.3" y2="165.8" stroke="#111" stroke-width="0.7" />
<text transform="translate(32.9 167.35) scale(0.82 1)" font-size="4.3" fill="#1a1a1a" text-anchor="end" stroke="#1a1a1a" stroke-width="0.12">40</text>
<line x1="34.5" y1="154.9" x2="36.3" y2="154.9" stroke="#111" stroke-width="0.7" />
<text transform="translate(32.9 156.45) scale(0.82 1)" font-size="4.3" fill="#1a1a1a" text-anchor="end" stroke="#1a1a1a" stroke-width="0.12">50</text>
<line x1="36.3" y1="209.4" x2="36.3" y2="211.3" stroke="#111" stroke-width="0.7" />
<text transform="translate(36.3 217.1) scale(0.82 1)" font-size="4.3" fill="#1a1a1a" text-anchor="middle" stroke="#1a1a1a" stroke-width="0.12">0</text>
<line x1="46.32" y1="209.4" x2="46.32" y2="211.3" stroke="#111" stroke-width="0.7" />
<text transform="translate(46.32 217.1) scale(0.82 1)" font-size="4.3" fill="#1a1a1a" text-anchor="middle" stroke="#1a1a1a" stroke-width="0.12">5</text>
<line x1="56.34" y1="209.4" x2="56.34" y2="211.3" stroke="#111" stroke-width="0.7" />
<text transform="translate(56.34 217.1) scale(0.82 1)" font-size="4.3" fill="#1a1a1a" text-anchor="middle" stroke="#1a1a1a" stroke-width="0.12">10</text>
<line x1="66.36" y1="209.4" x2="66.36" y2="211.3" stroke="#111" stroke-width="0.7" />
<text transform="translate(66.36 217.1) scale(0.82 1)" font-size="4.3" fill="#1a1a1a" text-anchor="middle" stroke="#1a1a1a" stroke-width="0.12">15</text>
<line x1="76.38" y1="209.4" x2="76.38" y2="211.3" stroke="#111" stroke-width="0.7" />
<text transform="translate(76.38 217.1) scale(0.82 1)" font-size="4.3" fill="#1a1a1a" text-anchor="middle" stroke="#1a1a1a" stroke-width="0.12">20</text>
<line x1="86.4" y1="209.4" x2="86.4" y2="211.3" stroke="#111" stroke-width="0.7" />
<text transform="translate(86.4 217.1) scale(0.82 1)" font-size="4.3" fill="#1a1a1a" text-anchor="middle" stroke="#1a1a1a" stroke-width="0.12">25</text>
<text transform="translate(22.7 182.65) rotate(-90)" font-size="4.45" fill="#1a1a1a" text-anchor="middle"  stroke="#1a1a1a" stroke-width="0.12">Tumor size (mm<tspan font-size="2.6" dy="-1.4">3</tspan><tspan dy="1.4">)</tspan></text>
<polyline points="36.3,209.4 50.33,207.22 56.34,202.86 64.36,195.23 70.37,184.33 78.38,170.16" stroke="#111" stroke-width="0.8" fill="none" />
<polyline points="36.3,209.4 50.33,207.22 56.34,202.86 64.36,196.32 70.37,189.78 78.38,172.88" stroke="#111" stroke-width="0.8" fill="none" />
<line x1="50.33" y1="206.57" x2="50.33" y2="207.87" stroke="#8a8a8a" stroke-width="0.6" />
<line x1="48.53" y1="206.57" x2="52.13" y2="206.57" stroke="#555" stroke-width="0.6" />
<line x1="48.53" y1="207.87" x2="52.13" y2="207.87" stroke="#555" stroke-width="0.6" />
<line x1="56.34" y1="201.77" x2="56.34" y2="203.95" stroke="#8a8a8a" stroke-width="0.6" />
<line x1="54.54" y1="201.77" x2="58.14" y2="201.77" stroke="#555" stroke-width="0.6" />
<line x1="54.54" y1="203.95" x2="58.14" y2="203.95" stroke="#555" stroke-width="0.6" />
<line x1="64.36" y1="191.96" x2="64.36" y2="198.5" stroke="#8a8a8a" stroke-width="0.6" />
<line x1="62.56" y1="191.96" x2="66.16" y2="191.96" stroke="#555" stroke-width="0.6" />
<line x1="62.56" y1="198.5" x2="66.16" y2="198.5" stroke="#555" stroke-width="0.6" />
<line x1="70.37" y1="178.88" x2="70.37" y2="189.78" stroke="#8a8a8a" stroke-width="0.6" />
<line x1="68.57" y1="178.88" x2="72.17" y2="178.88" stroke="#555" stroke-width="0.6" />
<line x1="68.57" y1="189.78" x2="72.17" y2="189.78" stroke="#555" stroke-width="0.6" />
<line x1="78.38" y1="163.62" x2="78.38" y2="176.7" stroke="#8a8a8a" stroke-width="0.6" />
<line x1="76.58" y1="163.62" x2="80.18" y2="163.62" stroke="#555" stroke-width="0.6" />
<line x1="76.58" y1="176.7" x2="80.18" y2="176.7" stroke="#555" stroke-width="0.6" />
<line x1="50.33" y1="206.57" x2="50.33" y2="207.87" stroke="#8a8a8a" stroke-width="0.6" />
<line x1="48.53" y1="206.57" x2="52.13" y2="206.57" stroke="#555" stroke-width="0.6" />
<line x1="48.53" y1="207.87" x2="52.13" y2="207.87" stroke="#555" stroke-width="0.6" />
<line x1="56.34" y1="201.77" x2="56.34" y2="203.95" stroke="#8a8a8a" stroke-width="0.6" />
<line x1="54.54" y1="201.77" x2="58.14" y2="201.77" stroke="#555" stroke-width="0.6" />
<line x1="54.54" y1="203.95" x2="58.14" y2="203.95" stroke="#555" stroke-width="0.6" />
<line x1="64.36" y1="194.14" x2="64.36" y2="198.5" stroke="#8a8a8a" stroke-width="0.6" />
<line x1="62.56" y1="194.14" x2="66.16" y2="194.14" stroke="#555" stroke-width="0.6" />
<line x1="62.56" y1="198.5" x2="66.16" y2="198.5" stroke="#555" stroke-width="0.6" />
<line x1="70.37" y1="186.51" x2="70.37" y2="193.05" stroke="#8a8a8a" stroke-width="0.6" />
<line x1="68.57" y1="186.51" x2="72.17" y2="186.51" stroke="#555" stroke-width="0.6" />
<line x1="68.57" y1="193.05" x2="72.17" y2="193.05" stroke="#555" stroke-width="0.6" />
<line x1="78.38" y1="169.61" x2="78.38" y2="176.16" stroke="#8a8a8a" stroke-width="0.6" />
<line x1="76.58" y1="169.61" x2="80.18" y2="169.61" stroke="#555" stroke-width="0.6" />
<line x1="76.58" y1="176.16" x2="80.18" y2="176.16" stroke="#555" stroke-width="0.6" />
<circle cx="36.3" cy="209.4" r="1.55" fill="#2f5da6" stroke="#000" stroke-width="0.5"/>
<circle cx="50.33" cy="207.22" r="1.55" fill="#2f5da6" stroke="#000" stroke-width="0.5"/>
<circle cx="56.34" cy="202.86" r="1.55" fill="#2f5da6" stroke="#000" stroke-width="0.5"/>
<circle cx="64.36" cy="196.32" r="1.55" fill="#2f5da6" stroke="#000" stroke-width="0.5"/>
<circle cx="70.37" cy="189.78" r="1.55" fill="#2f5da6" stroke="#000" stroke-width="0.5"/>
<circle cx="78.38" cy="172.88" r="1.55" fill="#2f5da6" stroke="#000" stroke-width="0.5"/>
<circle cx="36.3" cy="209.4" r="1.55" fill="#000" stroke="#000" stroke-width="0.5"/>
<circle cx="50.33" cy="207.22" r="1.55" fill="#000" stroke="#000" stroke-width="0.5"/>
<circle cx="56.34" cy="202.86" r="1.55" fill="#000" stroke="#000" stroke-width="0.5"/>
<circle cx="64.36" cy="195.23" r="1.55" fill="#000" stroke="#000" stroke-width="0.5"/>
<circle cx="70.37" cy="184.33" r="1.55" fill="#000" stroke="#000" stroke-width="0.5"/>
<circle cx="78.38" cy="170.16" r="1.55" fill="#000" stroke="#000" stroke-width="0.5"/>
<line x1="115.5" y1="154.6" x2="115.5" y2="209.4" stroke="#111" stroke-width="0.8" />
<line x1="115.5" y1="209.4" x2="165.6" y2="209.4" stroke="#111" stroke-width="0.8" />
<line x1="113.7" y1="209.4" x2="115.5" y2="209.4" stroke="#111" stroke-width="0.7" />
<text transform="translate(112.1 210.95) scale(0.82 1)" font-size="4.3" fill="#1a1a1a" text-anchor="end" stroke="#1a1a1a" stroke-width="0.12">0</text>
<line x1="113.7" y1="191.23" x2="115.5" y2="191.23" stroke="#111" stroke-width="0.7" />
<text transform="translate(112.1 192.78) scale(0.82 1)" font-size="4.3" fill="#1a1a1a" text-anchor="end" stroke="#1a1a1a" stroke-width="0.12">20</text>
<line x1="113.7" y1="173.07" x2="115.5" y2="173.07" stroke="#111" stroke-width="0.7" />
<text transform="translate(112.1 174.62) scale(0.82 1)" font-size="4.3" fill="#1a1a1a" text-anchor="end" stroke="#1a1a1a" stroke-width="0.12">40</text>
<line x1="113.7" y1="154.9" x2="115.5" y2="154.9" stroke="#111" stroke-width="0.7" />
<text transform="translate(112.1 156.45) scale(0.82 1)" font-size="4.3" fill="#1a1a1a" text-anchor="end" stroke="#1a1a1a" stroke-width="0.12">60</text>
<line x1="115.5" y1="209.4" x2="115.5" y2="211.3" stroke="#111" stroke-width="0.7" />
<text transform="translate(115.5 217.1) scale(0.82 1)" font-size="4.3" fill="#1a1a1a" text-anchor="middle" stroke="#1a1a1a" stroke-width="0.12">0</text>
<line x1="125.52" y1="209.4" x2="125.52" y2="211.3" stroke="#111" stroke-width="0.7" />
<text transform="translate(125.52 217.1) scale(0.82 1)" font-size="4.3" fill="#1a1a1a" text-anchor="middle" stroke="#1a1a1a" stroke-width="0.12">5</text>
<line x1="135.54" y1="209.4" x2="135.54" y2="211.3" stroke="#111" stroke-width="0.7" />
<text transform="translate(135.54 217.1) scale(0.82 1)" font-size="4.3" fill="#1a1a1a" text-anchor="middle" stroke="#1a1a1a" stroke-width="0.12">10</text>
<line x1="145.56" y1="209.4" x2="145.56" y2="211.3" stroke="#111" stroke-width="0.7" />
<text transform="translate(145.56 217.1) scale(0.82 1)" font-size="4.3" fill="#1a1a1a" text-anchor="middle" stroke="#1a1a1a" stroke-width="0.12">15</text>
<line x1="155.58" y1="209.4" x2="155.58" y2="211.3" stroke="#111" stroke-width="0.7" />
<text transform="translate(155.58 217.1) scale(0.82 1)" font-size="4.3" fill="#1a1a1a" text-anchor="middle" stroke="#1a1a1a" stroke-width="0.12">20</text>
<line x1="165.6" y1="209.4" x2="165.6" y2="211.3" stroke="#111" stroke-width="0.7" />
<text transform="translate(165.6 217.1) scale(0.82 1)" font-size="4.3" fill="#1a1a1a" text-anchor="middle" stroke="#1a1a1a" stroke-width="0.12">25</text>
<text transform="translate(101.9 182.65) rotate(-90)" font-size="4.45" fill="#1a1a1a" text-anchor="middle"  stroke="#1a1a1a" stroke-width="0.12">Tumor size (mm<tspan font-size="2.6" dy="-1.4">3</tspan><tspan dy="1.4">)</tspan></text>
<polyline points="115.5,209.4 129.53,200.32 135.54,196.68 143.56,185.78 149.57,174.43 157.58,162.17" stroke="#111" stroke-width="0.8" fill="none" />
<polyline points="115.5,209.4 129.53,203.5 135.54,200.77 143.56,190.78 149.57,182.6 157.58,165.8" stroke="#111" stroke-width="0.8" fill="none" />
<line x1="129.53" y1="199.41" x2="129.53" y2="201.22" stroke="#8a8a8a" stroke-width="0.6" />
<line x1="127.73" y1="199.41" x2="131.33" y2="199.41" stroke="#555" stroke-width="0.6" />
<line x1="127.73" y1="201.22" x2="131.33" y2="201.22" stroke="#555" stroke-width="0.6" />
<line x1="135.54" y1="195.78" x2="135.54" y2="197.59" stroke="#8a8a8a" stroke-width="0.6" />
<line x1="133.74" y1="195.78" x2="137.34" y2="195.78" stroke="#555" stroke-width="0.6" />
<line x1="133.74" y1="197.59" x2="137.34" y2="197.59" stroke="#555" stroke-width="0.6" />
<line x1="143.56" y1="183.06" x2="143.56" y2="188.51" stroke="#8a8a8a" stroke-width="0.6" />
<line x1="141.76" y1="183.06" x2="145.36" y2="183.06" stroke="#555" stroke-width="0.6" />
<line x1="141.76" y1="188.51" x2="145.36" y2="188.51" stroke="#555" stroke-width="0.6" />
<line x1="149.57" y1="169.89" x2="149.57" y2="178.97" stroke="#8a8a8a" stroke-width="0.6" />
<line x1="147.77" y1="169.89" x2="151.37" y2="169.89" stroke="#555" stroke-width="0.6" />
<line x1="147.77" y1="178.97" x2="151.37" y2="178.97" stroke="#555" stroke-width="0.6" />
<line x1="157.58" y1="158.53" x2="157.58" y2="165.8" stroke="#8a8a8a" stroke-width="0.6" />
<line x1="155.78" y1="158.53" x2="159.38" y2="158.53" stroke="#555" stroke-width="0.6" />
<line x1="155.78" y1="165.8" x2="159.38" y2="165.8" stroke="#555" stroke-width="0.6" />
<line x1="129.53" y1="202.59" x2="129.53" y2="204.4" stroke="#8a8a8a" stroke-width="0.6" />
<line x1="127.73" y1="202.59" x2="131.33" y2="202.59" stroke="#555" stroke-width="0.6" />
<line x1="127.73" y1="204.4" x2="131.33" y2="204.4" stroke="#555" stroke-width="0.6" />
<line x1="135.54" y1="199.86" x2="135.54" y2="201.68" stroke="#8a8a8a" stroke-width="0.6" />
<line x1="133.74" y1="199.86" x2="137.34" y2="199.86" stroke="#555" stroke-width="0.6" />
<line x1="133.74" y1="201.68" x2="137.34" y2="201.68" stroke="#555" stroke-width="0.6" />
<line x1="143.56" y1="188.05" x2="143.56" y2="193.5" stroke="#8a8a8a" stroke-width="0.6" />
<line x1="141.76" y1="188.05" x2="145.36" y2="188.05" stroke="#555" stroke-width="0.6" />
<line x1="141.76" y1="193.5" x2="145.36" y2="193.5" stroke="#555" stroke-width="0.6" />
<line x1="149.57" y1="178.06" x2="149.57" y2="187.15" stroke="#8a8a8a" stroke-width="0.6" />
<line x1="147.77" y1="178.06" x2="151.37" y2="178.06" stroke="#555" stroke-width="0.6" />
<line x1="147.77" y1="187.15" x2="151.37" y2="187.15" stroke="#555" stroke-width="0.6" />
<line x1="157.58" y1="157.62" x2="157.58" y2="173.98" stroke="#8a8a8a" stroke-width="0.6" />
<line x1="155.78" y1="157.62" x2="159.38" y2="157.62" stroke="#555" stroke-width="0.6" />
<line x1="155.78" y1="173.98" x2="159.38" y2="173.98" stroke="#555" stroke-width="0.6" />
<circle cx="115.5" cy="209.4" r="1.55" fill="#2f5da6" stroke="#000" stroke-width="0.5"/>
<circle cx="129.53" cy="203.5" r="1.55" fill="#2f5da6" stroke="#000" stroke-width="0.5"/>
<circle cx="135.54" cy="200.77" r="1.55" fill="#2f5da6" stroke="#000" stroke-width="0.5"/>
<circle cx="143.56" cy="190.78" r="1.55" fill="#2f5da6" stroke="#000" stroke-width="0.5"/>
<circle cx="149.57" cy="182.6" r="1.55" fill="#2f5da6" stroke="#000" stroke-width="0.5"/>
<circle cx="157.58" cy="165.8" r="1.55" fill="#2f5da6" stroke="#000" stroke-width="0.5"/>
<circle cx="115.5" cy="209.4" r="1.55" fill="#000" stroke="#000" stroke-width="0.5"/>
<circle cx="129.53" cy="200.32" r="1.55" fill="#000" stroke="#000" stroke-width="0.5"/>
<circle cx="135.54" cy="196.68" r="1.55" fill="#000" stroke="#000" stroke-width="0.5"/>
<circle cx="143.56" cy="185.78" r="1.55" fill="#000" stroke="#000" stroke-width="0.5"/>
<circle cx="149.57" cy="174.43" r="1.55" fill="#000" stroke="#000" stroke-width="0.5"/>
<circle cx="157.58" cy="162.17" r="1.55" fill="#000" stroke="#000" stroke-width="0.5"/>
<line x1="196.1" y1="154.6" x2="196.1" y2="209.4" stroke="#111" stroke-width="0.8" />
<line x1="196.1" y1="209.4" x2="246.2" y2="209.4" stroke="#111" stroke-width="0.8" />
<line x1="194.3" y1="209.4" x2="196.1" y2="209.4" stroke="#111" stroke-width="0.7" />
<text transform="translate(192.7 210.95) scale(0.82 1)" font-size="4.3" fill="#1a1a1a" text-anchor="end" stroke="#1a1a1a" stroke-width="0.12">0</text>
<line x1="194.3" y1="198.5" x2="196.1" y2="198.5" stroke="#111" stroke-width="0.7" />
<text transform="translate(192.7 200.05) scale(0.82 1)" font-size="4.3" fill="#1a1a1a" text-anchor="end" stroke="#1a1a1a" stroke-width="0.12">10</text>
<line x1="194.3" y1="187.6" x2="196.1" y2="187.6" stroke="#111" stroke-width="0.7" />
<text transform="translate(192.7 189.15) scale(0.82 1)" font-size="4.3" fill="#1a1a1a" text-anchor="end" stroke="#1a1a1a" stroke-width="0.12">20</text>
<line x1="194.3" y1="176.7" x2="196.1" y2="176.7" stroke="#111" stroke-width="0.7" />
<text transform="translate(192.7 178.25) scale(0.82 1)" font-size="4.3" fill="#1a1a1a" text-anchor="end" stroke="#1a1a1a" stroke-width="0.12">30</text>
<line x1="194.3" y1="165.8" x2="196.1" y2="165.8" stroke="#111" stroke-width="0.7" />
<text transform="translate(192.7 167.35) scale(0.82 1)" font-size="4.3" fill="#1a1a1a" text-anchor="end" stroke="#1a1a1a" stroke-width="0.12">40</text>
<line x1="194.3" y1="154.9" x2="196.1" y2="154.9" stroke="#111" stroke-width="0.7" />
<text transform="translate(192.7 156.45) scale(0.82 1)" font-size="4.3" fill="#1a1a1a" text-anchor="end" stroke="#1a1a1a" stroke-width="0.12">50</text>
<line x1="196.1" y1="209.4" x2="196.1" y2="211.3" stroke="#111" stroke-width="0.7" />
<text transform="translate(196.1 217.1) scale(0.82 1)" font-size="4.3" fill="#1a1a1a" text-anchor="middle" stroke="#1a1a1a" stroke-width="0.12">0</text>
<line x1="206.12" y1="209.4" x2="206.12" y2="211.3" stroke="#111" stroke-width="0.7" />
<text transform="translate(206.12 217.1) scale(0.82 1)" font-size="4.3" fill="#1a1a1a" text-anchor="middle" stroke="#1a1a1a" stroke-width="0.12">5</text>
<line x1="216.14" y1="209.4" x2="216.14" y2="211.3" stroke="#111" stroke-width="0.7" />
<text transform="translate(216.14 217.1) scale(0.82 1)" font-size="4.3" fill="#1a1a1a" text-anchor="middle" stroke="#1a1a1a" stroke-width="0.12">10</text>
<line x1="226.16" y1="209.4" x2="226.16" y2="211.3" stroke="#111" stroke-width="0.7" />
<text transform="translate(226.16 217.1) scale(0.82 1)" font-size="4.3" fill="#1a1a1a" text-anchor="middle" stroke="#1a1a1a" stroke-width="0.12">15</text>
<line x1="236.18" y1="209.4" x2="236.18" y2="211.3" stroke="#111" stroke-width="0.7" />
<text transform="translate(236.18 217.1) scale(0.82 1)" font-size="4.3" fill="#1a1a1a" text-anchor="middle" stroke="#1a1a1a" stroke-width="0.12">20</text>
<line x1="246.2" y1="209.4" x2="246.2" y2="211.3" stroke="#111" stroke-width="0.7" />
<text transform="translate(246.2 217.1) scale(0.82 1)" font-size="4.3" fill="#1a1a1a" text-anchor="middle" stroke="#1a1a1a" stroke-width="0.12">25</text>
<text transform="translate(182.5 182.65) rotate(-90)" font-size="4.45" fill="#1a1a1a" text-anchor="middle"  stroke="#1a1a1a" stroke-width="0.12">Tumor size (mm<tspan font-size="2.6" dy="-1.4">3</tspan><tspan dy="1.4">)</tspan></text>
<polyline points="196.1,209.4 210.13,202.86 216.14,200.13 224.16,195.23 230.17,187.6 238.18,172.34" stroke="#111" stroke-width="0.8" fill="none" />
<polyline points="196.1,209.4 210.13,201.77 216.14,201.22 224.16,200.68 230.17,196.87 238.18,190.33" stroke="#111" stroke-width="0.8" fill="none" />
<line x1="210.13" y1="201.77" x2="210.13" y2="203.95" stroke="#8a8a8a" stroke-width="0.6" />
<line x1="208.33" y1="201.77" x2="211.93" y2="201.77" stroke="#555" stroke-width="0.6" />
<line x1="208.33" y1="203.95" x2="211.93" y2="203.95" stroke="#555" stroke-width="0.6" />
<line x1="216.14" y1="199.04" x2="216.14" y2="201.22" stroke="#8a8a8a" stroke-width="0.6" />
<line x1="214.34" y1="199.04" x2="217.94" y2="199.04" stroke="#555" stroke-width="0.6" />
<line x1="214.34" y1="201.22" x2="217.94" y2="201.22" stroke="#555" stroke-width="0.6" />
<line x1="224.16" y1="194.14" x2="224.16" y2="196.32" stroke="#8a8a8a" stroke-width="0.6" />
<line x1="222.36" y1="194.14" x2="225.96" y2="194.14" stroke="#555" stroke-width="0.6" />
<line x1="222.36" y1="196.32" x2="225.96" y2="196.32" stroke="#555" stroke-width="0.6" />
<line x1="230.17" y1="184.88" x2="230.17" y2="190.32" stroke="#8a8a8a" stroke-width="0.6" />
<line x1="228.37" y1="184.88" x2="231.97" y2="184.88" stroke="#555" stroke-width="0.6" />
<line x1="228.37" y1="190.32" x2="231.97" y2="190.32" stroke="#555" stroke-width="0.6" />
<line x1="238.18" y1="165.8" x2="238.18" y2="178.88" stroke="#8a8a8a" stroke-width="0.6" />
<line x1="236.38" y1="165.8" x2="239.98" y2="165.8" stroke="#555" stroke-width="0.6" />
<line x1="236.38" y1="178.88" x2="239.98" y2="178.88" stroke="#555" stroke-width="0.6" />
<line x1="210.13" y1="200.68" x2="210.13" y2="202.86" stroke="#8a8a8a" stroke-width="0.6" />
<line x1="208.33" y1="200.68" x2="211.93" y2="200.68" stroke="#555" stroke-width="0.6" />
<line x1="208.33" y1="202.86" x2="211.93" y2="202.86" stroke="#555" stroke-width="0.6" />
<line x1="216.14" y1="200.13" x2="216.14" y2="202.31" stroke="#8a8a8a" stroke-width="0.6" />
<line x1="214.34" y1="200.13" x2="217.94" y2="200.13" stroke="#555" stroke-width="0.6" />
<line x1="214.34" y1="202.31" x2="217.94" y2="202.31" stroke="#555" stroke-width="0.6" />
<line x1="224.16" y1="199.59" x2="224.16" y2="201.77" stroke="#8a8a8a" stroke-width="0.6" />
<line x1="222.36" y1="199.59" x2="225.96" y2="199.59" stroke="#555" stroke-width="0.6" />
<line x1="222.36" y1="201.77" x2="225.96" y2="201.77" stroke="#555" stroke-width="0.6" />
<line x1="230.17" y1="195.23" x2="230.17" y2="198.5" stroke="#8a8a8a" stroke-width="0.6" />
<line x1="228.37" y1="195.23" x2="231.97" y2="195.23" stroke="#555" stroke-width="0.6" />
<line x1="228.37" y1="198.5" x2="231.97" y2="198.5" stroke="#555" stroke-width="0.6" />
<line x1="238.18" y1="187.06" x2="238.18" y2="193.6" stroke="#8a8a8a" stroke-width="0.6" />
<line x1="236.38" y1="187.06" x2="239.98" y2="187.06" stroke="#555" stroke-width="0.6" />
<line x1="236.38" y1="193.6" x2="239.98" y2="193.6" stroke="#555" stroke-width="0.6" />
<circle cx="196.1" cy="209.4" r="1.55" fill="#2f5da6" stroke="#000" stroke-width="0.5"/>
<circle cx="210.13" cy="201.77" r="1.55" fill="#2f5da6" stroke="#000" stroke-width="0.5"/>
<circle cx="216.14" cy="201.22" r="1.55" fill="#2f5da6" stroke="#000" stroke-width="0.5"/>
<circle cx="224.16" cy="200.68" r="1.55" fill="#2f5da6" stroke="#000" stroke-width="0.5"/>
<circle cx="230.17" cy="196.87" r="1.55" fill="#2f5da6" stroke="#000" stroke-width="0.5"/>
<circle cx="238.18" cy="190.33" r="1.55" fill="#2f5da6" stroke="#000" stroke-width="0.5"/>
<circle cx="196.1" cy="209.4" r="1.55" fill="#000" stroke="#000" stroke-width="0.5"/>
<circle cx="210.13" cy="202.86" r="1.55" fill="#000" stroke="#000" stroke-width="0.5"/>
<circle cx="216.14" cy="200.13" r="1.55" fill="#000" stroke="#000" stroke-width="0.5"/>
<circle cx="224.16" cy="195.23" r="1.55" fill="#000" stroke="#000" stroke-width="0.5"/>
<circle cx="230.17" cy="187.6" r="1.55" fill="#000" stroke="#000" stroke-width="0.5"/>
<circle cx="238.18" cy="172.34" r="1.55" fill="#000" stroke="#000" stroke-width="0.5"/>
<text x="222.6" y="191.7" font-size="5" fill="#222" text-anchor="middle" font-weight="normal" >**</text>
<text x="230" y="182.3" font-size="5" fill="#222" text-anchor="middle" font-weight="normal" >*</text>
<text x="238.2" y="163.5" font-size="5" fill="#222" text-anchor="middle" font-weight="normal" >*</text>
<line x1="36.3" y1="226.1" x2="36.3" y2="281.2" stroke="#111" stroke-width="0.8" />
<line x1="36.3" y1="281.2" x2="86.4" y2="281.2" stroke="#111" stroke-width="0.8" />
<line x1="34.5" y1="281.2" x2="36.3" y2="281.2" stroke="#111" stroke-width="0.7" />
<text transform="translate(32.9 282.75) scale(0.82 1)" font-size="4.3" fill="#1a1a1a" text-anchor="end" stroke="#1a1a1a" stroke-width="0.12">0</text>
<line x1="34.5" y1="267.5" x2="36.3" y2="267.5" stroke="#111" stroke-width="0.7" />
<text transform="translate(32.9 269.05) scale(0.82 1)" font-size="4.3" fill="#1a1a1a" text-anchor="end" stroke="#1a1a1a" stroke-width="0.12">20</text>
<line x1="34.5" y1="253.8" x2="36.3" y2="253.8" stroke="#111" stroke-width="0.7" />
<text transform="translate(32.9 255.35) scale(0.82 1)" font-size="4.3" fill="#1a1a1a" text-anchor="end" stroke="#1a1a1a" stroke-width="0.12">40</text>
<line x1="34.5" y1="240.1" x2="36.3" y2="240.1" stroke="#111" stroke-width="0.7" />
<text transform="translate(32.9 241.65) scale(0.82 1)" font-size="4.3" fill="#1a1a1a" text-anchor="end" stroke="#1a1a1a" stroke-width="0.12">60</text>
<line x1="34.5" y1="226.4" x2="36.3" y2="226.4" stroke="#111" stroke-width="0.7" />
<text transform="translate(32.9 227.95) scale(0.82 1)" font-size="4.3" fill="#1a1a1a" text-anchor="end" stroke="#1a1a1a" stroke-width="0.12">80</text>
<line x1="36.3" y1="281.2" x2="36.3" y2="283.1" stroke="#111" stroke-width="0.7" />
<text transform="translate(36.3 288.9) scale(0.82 1)" font-size="4.3" fill="#1a1a1a" text-anchor="middle" stroke="#1a1a1a" stroke-width="0.12">0</text>
<line x1="46.32" y1="281.2" x2="46.32" y2="283.1" stroke="#111" stroke-width="0.7" />
<text transform="translate(46.32 288.9) scale(0.82 1)" font-size="4.3" fill="#1a1a1a" text-anchor="middle" stroke="#1a1a1a" stroke-width="0.12">5</text>
<line x1="56.34" y1="281.2" x2="56.34" y2="283.1" stroke="#111" stroke-width="0.7" />
<text transform="translate(56.34 288.9) scale(0.82 1)" font-size="4.3" fill="#1a1a1a" text-anchor="middle" stroke="#1a1a1a" stroke-width="0.12">10</text>
<line x1="66.36" y1="281.2" x2="66.36" y2="283.1" stroke="#111" stroke-width="0.7" />
<text transform="translate(66.36 288.9) scale(0.82 1)" font-size="4.3" fill="#1a1a1a" text-anchor="middle" stroke="#1a1a1a" stroke-width="0.12">15</text>
<line x1="76.38" y1="281.2" x2="76.38" y2="283.1" stroke="#111" stroke-width="0.7" />
<text transform="translate(76.38 288.9) scale(0.82 1)" font-size="4.3" fill="#1a1a1a" text-anchor="middle" stroke="#1a1a1a" stroke-width="0.12">20</text>
<line x1="86.4" y1="281.2" x2="86.4" y2="283.1" stroke="#111" stroke-width="0.7" />
<text transform="translate(86.4 288.9) scale(0.82 1)" font-size="4.3" fill="#1a1a1a" text-anchor="middle" stroke="#1a1a1a" stroke-width="0.12">25</text>
<text transform="translate(22.7 254.3) rotate(-90)" font-size="4.45" fill="#1a1a1a" text-anchor="middle"  stroke="#1a1a1a" stroke-width="0.12">Tumor size (mm<tspan font-size="2.6" dy="-1.4">3</tspan><tspan dy="1.4">)</tspan></text>
<text x="61.3" y="294" font-size="4.5" fill="#222" text-anchor="middle" font-weight="normal"  stroke="#222" stroke-width="0.12">Days</text>
<polyline points="36.3,281.2 52.33,278.8 58.34,274.69 64.36,267.16 72.37,255.85 78.38,242.84" stroke="#111" stroke-width="0.8" fill="none" />
<polyline points="36.3,281.2 52.33,278.46 58.34,273.32 64.36,265.79 72.37,249.35 78.38,246.26" stroke="#111" stroke-width="0.8" fill="none" />
<line x1="52.33" y1="278.12" x2="52.33" y2="279.49" stroke="#8a8a8a" stroke-width="0.6" />
<line x1="50.53" y1="278.12" x2="54.13" y2="278.12" stroke="#555" stroke-width="0.6" />
<line x1="50.53" y1="279.49" x2="54.13" y2="279.49" stroke="#555" stroke-width="0.6" />
<line x1="58.34" y1="273.67" x2="58.34" y2="275.72" stroke="#8a8a8a" stroke-width="0.6" />
<line x1="56.54" y1="273.67" x2="60.14" y2="273.67" stroke="#555" stroke-width="0.6" />
<line x1="56.54" y1="275.72" x2="60.14" y2="275.72" stroke="#555" stroke-width="0.6" />
<line x1="64.36" y1="265.79" x2="64.36" y2="268.53" stroke="#8a8a8a" stroke-width="0.6" />
<line x1="62.56" y1="265.79" x2="66.16" y2="265.79" stroke="#555" stroke-width="0.6" />
<line x1="62.56" y1="268.53" x2="66.16" y2="268.53" stroke="#555" stroke-width="0.6" />
<line x1="72.37" y1="252.43" x2="72.37" y2="259.28" stroke="#8a8a8a" stroke-width="0.6" />
<line x1="70.57" y1="252.43" x2="74.17" y2="252.43" stroke="#555" stroke-width="0.6" />
<line x1="70.57" y1="259.28" x2="74.17" y2="259.28" stroke="#555" stroke-width="0.6" />
<line x1="78.38" y1="235.31" x2="78.38" y2="250.38" stroke="#8a8a8a" stroke-width="0.6" />
<line x1="76.58" y1="235.31" x2="80.18" y2="235.31" stroke="#555" stroke-width="0.6" />
<line x1="76.58" y1="250.38" x2="80.18" y2="250.38" stroke="#555" stroke-width="0.6" />
<line x1="52.33" y1="277.77" x2="52.33" y2="279.14" stroke="#8a8a8a" stroke-width="0.6" />
<line x1="50.53" y1="277.77" x2="54.13" y2="277.77" stroke="#555" stroke-width="0.6" />
<line x1="50.53" y1="279.14" x2="54.13" y2="279.14" stroke="#555" stroke-width="0.6" />
<line x1="58.34" y1="272.3" x2="58.34" y2="274.35" stroke="#8a8a8a" stroke-width="0.6" />
<line x1="56.54" y1="272.3" x2="60.14" y2="272.3" stroke="#555" stroke-width="0.6" />
<line x1="56.54" y1="274.35" x2="60.14" y2="274.35" stroke="#555" stroke-width="0.6" />
<line x1="64.36" y1="264.42" x2="64.36" y2="267.16" stroke="#8a8a8a" stroke-width="0.6" />
<line x1="62.56" y1="264.42" x2="66.16" y2="264.42" stroke="#555" stroke-width="0.6" />
<line x1="62.56" y1="267.16" x2="66.16" y2="267.16" stroke="#555" stroke-width="0.6" />
<line x1="72.37" y1="246.61" x2="72.37" y2="252.09" stroke="#8a8a8a" stroke-width="0.6" />
<line x1="70.57" y1="246.61" x2="74.17" y2="246.61" stroke="#555" stroke-width="0.6" />
<line x1="70.57" y1="252.09" x2="74.17" y2="252.09" stroke="#555" stroke-width="0.6" />
<line x1="78.38" y1="241.47" x2="78.38" y2="251.06" stroke="#8a8a8a" stroke-width="0.6" />
<line x1="76.58" y1="241.47" x2="80.18" y2="241.47" stroke="#555" stroke-width="0.6" />
<line x1="76.58" y1="251.06" x2="80.18" y2="251.06" stroke="#555" stroke-width="0.6" />
<circle cx="36.3" cy="281.2" r="1.55" fill="#b0a83a" stroke="#000" stroke-width="0.5"/>
<circle cx="52.33" cy="278.46" r="1.55" fill="#b0a83a" stroke="#000" stroke-width="0.5"/>
<circle cx="58.34" cy="273.32" r="1.55" fill="#b0a83a" stroke="#000" stroke-width="0.5"/>
<circle cx="64.36" cy="265.79" r="1.55" fill="#b0a83a" stroke="#000" stroke-width="0.5"/>
<circle cx="72.37" cy="249.35" r="1.55" fill="#b0a83a" stroke="#000" stroke-width="0.5"/>
<circle cx="78.38" cy="246.26" r="1.55" fill="#b0a83a" stroke="#000" stroke-width="0.5"/>
<circle cx="36.3" cy="281.2" r="1.55" fill="#000" stroke="#000" stroke-width="0.5"/>
<circle cx="52.33" cy="278.8" r="1.55" fill="#000" stroke="#000" stroke-width="0.5"/>
<circle cx="58.34" cy="274.69" r="1.55" fill="#000" stroke="#000" stroke-width="0.5"/>
<circle cx="64.36" cy="267.16" r="1.55" fill="#000" stroke="#000" stroke-width="0.5"/>
<circle cx="72.37" cy="255.85" r="1.55" fill="#000" stroke="#000" stroke-width="0.5"/>
<circle cx="78.38" cy="242.84" r="1.55" fill="#000" stroke="#000" stroke-width="0.5"/>
<line x1="115.5" y1="226.1" x2="115.5" y2="281.2" stroke="#111" stroke-width="0.8" />
<line x1="115.5" y1="281.2" x2="165.6" y2="281.2" stroke="#111" stroke-width="0.8" />
<line x1="113.7" y1="281.2" x2="115.5" y2="281.2" stroke="#111" stroke-width="0.7" />
<text transform="translate(112.1 282.75) scale(0.82 1)" font-size="4.3" fill="#1a1a1a" text-anchor="end" stroke="#1a1a1a" stroke-width="0.12">0</text>
<line x1="113.7" y1="267.5" x2="115.5" y2="267.5" stroke="#111" stroke-width="0.7" />
<text transform="translate(112.1 269.05) scale(0.82 1)" font-size="4.3" fill="#1a1a1a" text-anchor="end" stroke="#1a1a1a" stroke-width="0.12">50</text>
<line x1="113.7" y1="253.8" x2="115.5" y2="253.8" stroke="#111" stroke-width="0.7" />
<text transform="translate(112.1 255.35) scale(0.82 1)" font-size="4.3" fill="#1a1a1a" text-anchor="end" stroke="#1a1a1a" stroke-width="0.12">100</text>
<line x1="113.7" y1="240.1" x2="115.5" y2="240.1" stroke="#111" stroke-width="0.7" />
<text transform="translate(112.1 241.65) scale(0.82 1)" font-size="4.3" fill="#1a1a1a" text-anchor="end" stroke="#1a1a1a" stroke-width="0.12">150</text>
<line x1="113.7" y1="226.4" x2="115.5" y2="226.4" stroke="#111" stroke-width="0.7" />
<text transform="translate(112.1 227.95) scale(0.82 1)" font-size="4.3" fill="#1a1a1a" text-anchor="end" stroke="#1a1a1a" stroke-width="0.12">200</text>
<line x1="115.5" y1="281.2" x2="115.5" y2="283.1" stroke="#111" stroke-width="0.7" />
<text transform="translate(115.5 288.9) scale(0.82 1)" font-size="4.3" fill="#1a1a1a" text-anchor="middle" stroke="#1a1a1a" stroke-width="0.12">0</text>
<line x1="125.52" y1="281.2" x2="125.52" y2="283.1" stroke="#111" stroke-width="0.7" />
<text transform="translate(125.52 288.9) scale(0.82 1)" font-size="4.3" fill="#1a1a1a" text-anchor="middle" stroke="#1a1a1a" stroke-width="0.12">5</text>
<line x1="135.54" y1="281.2" x2="135.54" y2="283.1" stroke="#111" stroke-width="0.7" />
<text transform="translate(135.54 288.9) scale(0.82 1)" font-size="4.3" fill="#1a1a1a" text-anchor="middle" stroke="#1a1a1a" stroke-width="0.12">10</text>
<line x1="145.56" y1="281.2" x2="145.56" y2="283.1" stroke="#111" stroke-width="0.7" />
<text transform="translate(145.56 288.9) scale(0.82 1)" font-size="4.3" fill="#1a1a1a" text-anchor="middle" stroke="#1a1a1a" stroke-width="0.12">15</text>
<line x1="155.58" y1="281.2" x2="155.58" y2="283.1" stroke="#111" stroke-width="0.7" />
<text transform="translate(155.58 288.9) scale(0.82 1)" font-size="4.3" fill="#1a1a1a" text-anchor="middle" stroke="#1a1a1a" stroke-width="0.12">20</text>
<line x1="165.6" y1="281.2" x2="165.6" y2="283.1" stroke="#111" stroke-width="0.7" />
<text transform="translate(165.6 288.9) scale(0.82 1)" font-size="4.3" fill="#1a1a1a" text-anchor="middle" stroke="#1a1a1a" stroke-width="0.12">25</text>
<text transform="translate(101.9 254.3) rotate(-90)" font-size="4.45" fill="#1a1a1a" text-anchor="middle"  stroke="#1a1a1a" stroke-width="0.12">Tumor size (mm<tspan font-size="2.6" dy="-1.4">3</tspan><tspan dy="1.4">)</tspan></text>
<text x="140.5" y="294" font-size="4.5" fill="#222" text-anchor="middle" font-weight="normal"  stroke="#222" stroke-width="0.12">Days</text>
<polyline points="115.5,281.2 131.53,278.46 137.54,275.17 143.56,264.21 151.57,253.8 157.58,238.18" stroke="#111" stroke-width="0.8" fill="none" />
<polyline points="115.5,281.2 131.53,279.01 137.54,277.91 143.56,273.53 151.57,268.05 157.58,260.38" stroke="#111" stroke-width="0.8" fill="none" />
<line x1="131.53" y1="277.91" x2="131.53" y2="279.01" stroke="#8a8a8a" stroke-width="0.6" />
<line x1="129.73" y1="277.91" x2="133.33" y2="277.91" stroke="#555" stroke-width="0.6" />
<line x1="129.73" y1="279.01" x2="133.33" y2="279.01" stroke="#555" stroke-width="0.6" />
<line x1="137.54" y1="274.35" x2="137.54" y2="275.99" stroke="#8a8a8a" stroke-width="0.6" />
<line x1="135.74" y1="274.35" x2="139.34" y2="274.35" stroke="#555" stroke-width="0.6" />
<line x1="135.74" y1="275.99" x2="139.34" y2="275.99" stroke="#555" stroke-width="0.6" />
<line x1="143.56" y1="263.12" x2="143.56" y2="265.31" stroke="#8a8a8a" stroke-width="0.6" />
<line x1="141.76" y1="263.12" x2="145.36" y2="263.12" stroke="#555" stroke-width="0.6" />
<line x1="141.76" y1="265.31" x2="145.36" y2="265.31" stroke="#555" stroke-width="0.6" />
<line x1="151.57" y1="252.43" x2="151.57" y2="255.17" stroke="#8a8a8a" stroke-width="0.6" />
<line x1="149.77" y1="252.43" x2="153.37" y2="252.43" stroke="#555" stroke-width="0.6" />
<line x1="149.77" y1="255.17" x2="153.37" y2="255.17" stroke="#555" stroke-width="0.6" />
<line x1="157.58" y1="234.89" x2="157.58" y2="241.47" stroke="#8a8a8a" stroke-width="0.6" />
<line x1="155.78" y1="234.89" x2="159.38" y2="234.89" stroke="#555" stroke-width="0.6" />
<line x1="155.78" y1="241.47" x2="159.38" y2="241.47" stroke="#555" stroke-width="0.6" />
<line x1="131.53" y1="278.46" x2="131.53" y2="279.56" stroke="#8a8a8a" stroke-width="0.6" />
<line x1="129.73" y1="278.46" x2="133.33" y2="278.46" stroke="#555" stroke-width="0.6" />
<line x1="129.73" y1="279.56" x2="133.33" y2="279.56" stroke="#555" stroke-width="0.6" />
<line x1="137.54" y1="277.36" x2="137.54" y2="278.46" stroke="#8a8a8a" stroke-width="0.6" />
<line x1="135.74" y1="277.36" x2="139.34" y2="277.36" stroke="#555" stroke-width="0.6" />
<line x1="135.74" y1="278.46" x2="139.34" y2="278.46" stroke="#555" stroke-width="0.6" />
<line x1="143.56" y1="272.71" x2="143.56" y2="274.35" stroke="#8a8a8a" stroke-width="0.6" />
<line x1="141.76" y1="272.71" x2="145.36" y2="272.71" stroke="#555" stroke-width="0.6" />
<line x1="141.76" y1="274.35" x2="145.36" y2="274.35" stroke="#555" stroke-width="0.6" />
<line x1="151.57" y1="266.95" x2="151.57" y2="269.14" stroke="#8a8a8a" stroke-width="0.6" />
<line x1="149.77" y1="266.95" x2="153.37" y2="266.95" stroke="#555" stroke-width="0.6" />
<line x1="149.77" y1="269.14" x2="153.37" y2="269.14" stroke="#555" stroke-width="0.6" />
<line x1="157.58" y1="259.01" x2="157.58" y2="261.75" stroke="#8a8a8a" stroke-width="0.6" />
<line x1="155.78" y1="259.01" x2="159.38" y2="259.01" stroke="#555" stroke-width="0.6" />
<line x1="155.78" y1="261.75" x2="159.38" y2="261.75" stroke="#555" stroke-width="0.6" />
<circle cx="115.5" cy="281.2" r="1.55" fill="#b0a83a" stroke="#000" stroke-width="0.5"/>
<circle cx="131.53" cy="279.01" r="1.55" fill="#b0a83a" stroke="#000" stroke-width="0.5"/>
<circle cx="137.54" cy="277.91" r="1.55" fill="#b0a83a" stroke="#000" stroke-width="0.5"/>
<circle cx="143.56" cy="273.53" r="1.55" fill="#b0a83a" stroke="#000" stroke-width="0.5"/>
<circle cx="151.57" cy="268.05" r="1.55" fill="#b0a83a" stroke="#000" stroke-width="0.5"/>
<circle cx="157.58" cy="260.38" r="1.55" fill="#b0a83a" stroke="#000" stroke-width="0.5"/>
<circle cx="115.5" cy="281.2" r="1.55" fill="#000" stroke="#000" stroke-width="0.5"/>
<circle cx="131.53" cy="278.46" r="1.55" fill="#000" stroke="#000" stroke-width="0.5"/>
<circle cx="137.54" cy="275.17" r="1.55" fill="#000" stroke="#000" stroke-width="0.5"/>
<circle cx="143.56" cy="264.21" r="1.55" fill="#000" stroke="#000" stroke-width="0.5"/>
<circle cx="151.57" cy="253.8" r="1.55" fill="#000" stroke="#000" stroke-width="0.5"/>
<circle cx="157.58" cy="238.18" r="1.55" fill="#000" stroke="#000" stroke-width="0.5"/>
<text x="141.6" y="261.4" font-size="5" fill="#3a4fa0" text-anchor="middle" font-weight="normal" >**</text>
<text x="148.2" y="251.2" font-size="5" fill="#3a4fa0" text-anchor="middle" font-weight="normal" >***</text>
<text x="152.6" y="239.3" font-size="5" fill="#3a4fa0" text-anchor="middle" font-weight="normal" >**</text>
<line x1="196.1" y1="226.1" x2="196.1" y2="281.2" stroke="#111" stroke-width="0.8" />
<line x1="196.1" y1="281.2" x2="246.2" y2="281.2" stroke="#111" stroke-width="0.8" />
<line x1="194.3" y1="281.2" x2="196.1" y2="281.2" stroke="#111" stroke-width="0.7" />
<text transform="translate(192.7 282.75) scale(0.82 1)" font-size="4.3" fill="#1a1a1a" text-anchor="end" stroke="#1a1a1a" stroke-width="0.12">0</text>
<line x1="194.3" y1="270.24" x2="196.1" y2="270.24" stroke="#111" stroke-width="0.7" />
<text transform="translate(192.7 271.79) scale(0.82 1)" font-size="4.3" fill="#1a1a1a" text-anchor="end" stroke="#1a1a1a" stroke-width="0.12">10</text>
<line x1="194.3" y1="259.28" x2="196.1" y2="259.28" stroke="#111" stroke-width="0.7" />
<text transform="translate(192.7 260.83) scale(0.82 1)" font-size="4.3" fill="#1a1a1a" text-anchor="end" stroke="#1a1a1a" stroke-width="0.12">20</text>
<line x1="194.3" y1="248.32" x2="196.1" y2="248.32" stroke="#111" stroke-width="0.7" />
<text transform="translate(192.7 249.87) scale(0.82 1)" font-size="4.3" fill="#1a1a1a" text-anchor="end" stroke="#1a1a1a" stroke-width="0.12">30</text>
<line x1="194.3" y1="237.36" x2="196.1" y2="237.36" stroke="#111" stroke-width="0.7" />
<text transform="translate(192.7 238.91) scale(0.82 1)" font-size="4.3" fill="#1a1a1a" text-anchor="end" stroke="#1a1a1a" stroke-width="0.12">40</text>
<line x1="194.3" y1="226.4" x2="196.1" y2="226.4" stroke="#111" stroke-width="0.7" />
<text transform="translate(192.7 227.95) scale(0.82 1)" font-size="4.3" fill="#1a1a1a" text-anchor="end" stroke="#1a1a1a" stroke-width="0.12">50</text>
<line x1="196.1" y1="281.2" x2="196.1" y2="283.1" stroke="#111" stroke-width="0.7" />
<text transform="translate(196.1 288.9) scale(0.82 1)" font-size="4.3" fill="#1a1a1a" text-anchor="middle" stroke="#1a1a1a" stroke-width="0.12">0</text>
<line x1="206.12" y1="281.2" x2="206.12" y2="283.1" stroke="#111" stroke-width="0.7" />
<text transform="translate(206.12 288.9) scale(0.82 1)" font-size="4.3" fill="#1a1a1a" text-anchor="middle" stroke="#1a1a1a" stroke-width="0.12">5</text>
<line x1="216.14" y1="281.2" x2="216.14" y2="283.1" stroke="#111" stroke-width="0.7" />
<text transform="translate(216.14 288.9) scale(0.82 1)" font-size="4.3" fill="#1a1a1a" text-anchor="middle" stroke="#1a1a1a" stroke-width="0.12">10</text>
<line x1="226.16" y1="281.2" x2="226.16" y2="283.1" stroke="#111" stroke-width="0.7" />
<text transform="translate(226.16 288.9) scale(0.82 1)" font-size="4.3" fill="#1a1a1a" text-anchor="middle" stroke="#1a1a1a" stroke-width="0.12">15</text>
<line x1="236.18" y1="281.2" x2="236.18" y2="283.1" stroke="#111" stroke-width="0.7" />
<text transform="translate(236.18 288.9) scale(0.82 1)" font-size="4.3" fill="#1a1a1a" text-anchor="middle" stroke="#1a1a1a" stroke-width="0.12">20</text>
<line x1="246.2" y1="281.2" x2="246.2" y2="283.1" stroke="#111" stroke-width="0.7" />
<text transform="translate(246.2 288.9) scale(0.82 1)" font-size="4.3" fill="#1a1a1a" text-anchor="middle" stroke="#1a1a1a" stroke-width="0.12">25</text>
<text transform="translate(182.5 254.3) rotate(-90)" font-size="4.45" fill="#1a1a1a" text-anchor="middle"  stroke="#1a1a1a" stroke-width="0.12">Tumor size (mm<tspan font-size="2.6" dy="-1.4">3</tspan><tspan dy="1.4">)</tspan></text>
<text x="221.1" y="294" font-size="4.5" fill="#222" text-anchor="middle" font-weight="normal"  stroke="#222" stroke-width="0.12">Days</text>
<polyline points="196.1,281.2 210.13,275.72 218.14,275.72 224.16,270.79 232.17,260.38 238.18,246.68" stroke="#111" stroke-width="0.8" fill="none" />
<polyline points="196.1,281.2 210.13,276.82 218.14,276.27 224.16,275.72 232.17,271.34 238.18,265.86" stroke="#111" stroke-width="0.8" fill="none" />
<line x1="210.13" y1="274.08" x2="210.13" y2="277.36" stroke="#8a8a8a" stroke-width="0.6" />
<line x1="208.33" y1="274.08" x2="211.93" y2="274.08" stroke="#555" stroke-width="0.6" />
<line x1="208.33" y1="277.36" x2="211.93" y2="277.36" stroke="#555" stroke-width="0.6" />
<line x1="218.14" y1="273.53" x2="218.14" y2="277.91" stroke="#8a8a8a" stroke-width="0.6" />
<line x1="216.34" y1="273.53" x2="219.94" y2="273.53" stroke="#555" stroke-width="0.6" />
<line x1="216.34" y1="277.91" x2="219.94" y2="277.91" stroke="#555" stroke-width="0.6" />
<line x1="224.16" y1="269.69" x2="224.16" y2="271.88" stroke="#8a8a8a" stroke-width="0.6" />
<line x1="222.36" y1="269.69" x2="225.96" y2="269.69" stroke="#555" stroke-width="0.6" />
<line x1="222.36" y1="271.88" x2="225.96" y2="271.88" stroke="#555" stroke-width="0.6" />
<line x1="232.17" y1="257.09" x2="232.17" y2="263.66" stroke="#8a8a8a" stroke-width="0.6" />
<line x1="230.37" y1="257.09" x2="233.97" y2="257.09" stroke="#555" stroke-width="0.6" />
<line x1="230.37" y1="263.66" x2="233.97" y2="263.66" stroke="#555" stroke-width="0.6" />
<line x1="238.18" y1="239.55" x2="238.18" y2="253.8" stroke="#8a8a8a" stroke-width="0.6" />
<line x1="236.38" y1="239.55" x2="239.98" y2="239.55" stroke="#555" stroke-width="0.6" />
<line x1="236.38" y1="253.8" x2="239.98" y2="253.8" stroke="#555" stroke-width="0.6" />
<line x1="210.13" y1="275.72" x2="210.13" y2="277.91" stroke="#8a8a8a" stroke-width="0.6" />
<line x1="208.33" y1="275.72" x2="211.93" y2="275.72" stroke="#555" stroke-width="0.6" />
<line x1="208.33" y1="277.91" x2="211.93" y2="277.91" stroke="#555" stroke-width="0.6" />
<line x1="218.14" y1="275.17" x2="218.14" y2="277.36" stroke="#8a8a8a" stroke-width="0.6" />
<line x1="216.34" y1="275.17" x2="219.94" y2="275.17" stroke="#555" stroke-width="0.6" />
<line x1="216.34" y1="277.36" x2="219.94" y2="277.36" stroke="#555" stroke-width="0.6" />
<line x1="224.16" y1="274.62" x2="224.16" y2="276.82" stroke="#8a8a8a" stroke-width="0.6" />
<line x1="222.36" y1="274.62" x2="225.96" y2="274.62" stroke="#555" stroke-width="0.6" />
<line x1="222.36" y1="276.82" x2="225.96" y2="276.82" stroke="#555" stroke-width="0.6" />
<line x1="232.17" y1="269.14" x2="232.17" y2="273.53" stroke="#8a8a8a" stroke-width="0.6" />
<line x1="230.37" y1="269.14" x2="233.97" y2="269.14" stroke="#555" stroke-width="0.6" />
<line x1="230.37" y1="273.53" x2="233.97" y2="273.53" stroke="#555" stroke-width="0.6" />
<line x1="238.18" y1="261.47" x2="238.18" y2="270.24" stroke="#8a8a8a" stroke-width="0.6" />
<line x1="236.38" y1="261.47" x2="239.98" y2="261.47" stroke="#555" stroke-width="0.6" />
<line x1="236.38" y1="270.24" x2="239.98" y2="270.24" stroke="#555" stroke-width="0.6" />
<circle cx="196.1" cy="281.2" r="1.55" fill="#b0a83a" stroke="#000" stroke-width="0.5"/>
<circle cx="210.13" cy="276.82" r="1.55" fill="#b0a83a" stroke="#000" stroke-width="0.5"/>
<circle cx="218.14" cy="276.27" r="1.55" fill="#b0a83a" stroke="#000" stroke-width="0.5"/>
<circle cx="224.16" cy="275.72" r="1.55" fill="#b0a83a" stroke="#000" stroke-width="0.5"/>
<circle cx="232.17" cy="271.34" r="1.55" fill="#b0a83a" stroke="#000" stroke-width="0.5"/>
<circle cx="238.18" cy="265.86" r="1.55" fill="#b0a83a" stroke="#000" stroke-width="0.5"/>
<circle cx="196.1" cy="281.2" r="1.55" fill="#000" stroke="#000" stroke-width="0.5"/>
<circle cx="210.13" cy="275.72" r="1.55" fill="#000" stroke="#000" stroke-width="0.5"/>
<circle cx="218.14" cy="275.72" r="1.55" fill="#000" stroke="#000" stroke-width="0.5"/>
<circle cx="224.16" cy="270.79" r="1.55" fill="#000" stroke="#000" stroke-width="0.5"/>
<circle cx="232.17" cy="260.38" r="1.55" fill="#000" stroke="#000" stroke-width="0.5"/>
<circle cx="238.18" cy="246.68" r="1.55" fill="#000" stroke="#000" stroke-width="0.5"/>
<text x="222" y="267.9" font-size="5" fill="#3a4fa0" text-anchor="middle" font-weight="normal" >**</text>
<text x="228.8" y="258.8" font-size="5" fill="#3a4fa0" text-anchor="middle" font-weight="normal" >*</text>
<text x="235" y="245.2" font-size="5" fill="#3a4fa0" text-anchor="middle" font-weight="normal" >*</text>
<text x="7.4" y="90.8" font-size="8.6" fill="#a63a3a" text-anchor="start" font-weight="normal" >1.</text>
<text x="7.4" y="160.4" font-size="8.6" fill="#3c62a6" text-anchor="start" font-weight="normal" >2.</text>
<text x="7.4" y="234.3" font-size="8.6" fill="#7b6e45" text-anchor="start" font-weight="normal" >3.</text>
<line x1="253.4" y1="83.8" x2="259.6" y2="83.8" stroke="#111" stroke-width="0.8" />
<circle cx="256.5" cy="83.8" r="1.4" fill="#000" stroke="#000" stroke-width="0.5"/>
<text x="262" y="85.4" font-size="4.6" fill="#222" text-anchor="start" font-weight="normal"  stroke="#222" stroke-width="0.11">Vehicle</text>
<line x1="253.4" y1="89.8" x2="259.6" y2="89.8" stroke="#111" stroke-width="0.8" />
<circle cx="256.5" cy="89.8" r="1.4" fill="#c1272d" stroke="#000" stroke-width="0.5"/>
<text x="262" y="91.4" font-size="4.6" fill="#222" text-anchor="start" font-weight="normal"  stroke="#222" stroke-width="0.11">IDOi (Epacadostat)</text>
<line x1="253.4" y1="155.5" x2="259.6" y2="155.5" stroke="#111" stroke-width="0.8" />
<circle cx="256.5" cy="155.5" r="1.4" fill="#000" stroke="#000" stroke-width="0.5"/>
<text x="262" y="157.1" font-size="4.6" fill="#222" text-anchor="start" font-weight="normal"  stroke="#222" stroke-width="0.11">Vehicle</text>
<line x1="253.4" y1="163.4" x2="259.6" y2="163.4" stroke="#111" stroke-width="0.8" />
<circle cx="256.5" cy="163.4" r="1.4" fill="#2f5da6" stroke="#000" stroke-width="0.5"/>
<text x="262" y="165" font-size="4.6" fill="#222" text-anchor="start" font-weight="normal"  stroke="#222" stroke-width="0.11">TDOi (680C91)</text>
<line x1="253.4" y1="230.8" x2="259.6" y2="230.8" stroke="#111" stroke-width="0.8" />
<circle cx="256.5" cy="230.8" r="1.4" fill="#000" stroke="#000" stroke-width="0.5"/>
<text x="262" y="232.4" font-size="4.6" fill="#222" text-anchor="start" font-weight="normal"  stroke="#222" stroke-width="0.11">Vehicle</text>
<line x1="253.4" y1="238.7" x2="259.6" y2="238.7" stroke="#111" stroke-width="0.8" />
<circle cx="256.5" cy="238.7" r="1.4" fill="#b0a83a" stroke="#000" stroke-width="0.5"/>
<text x="262" y="240.3" font-size="4.6" fill="#222" text-anchor="start" font-weight="normal"  stroke="#222" stroke-width="0.11">AHRi (CH-223191)</text>
<rect x="31.4" y="355" width="10.4" height="26.3" fill="#d8d8d6" stroke="#5a5a5a" stroke-width="0.8" />
<rect x="46.6" y="359.1" width="10.2" height="22.2" fill="#f07c79" stroke="#823838" stroke-width="0.8" />
<rect x="61.9" y="350.9" width="10.4" height="30.4" fill="#8ecbe8" stroke="#35627f" stroke-width="0.8" />
<rect x="77.2" y="336.3" width="10.2" height="45" fill="#f8eb7e" stroke="#7a7236" stroke-width="0.8" />
<line x1="24.7" y1="323.2" x2="24.7" y2="381.3" stroke="#111" stroke-width="0.9" />
<line x1="24.7" y1="381.3" x2="92.6" y2="381.3" stroke="#111" stroke-width="0.9" />
<line x1="23.1" y1="381.3" x2="24.7" y2="381.3" stroke="#111" stroke-width="0.6" />
<text x="21.6" y="382.92" font-size="4.5" fill="#1a1a1a" text-anchor="end" font-weight="normal"  stroke="#1a1a1a" stroke-width="0.12">0</text>
<line x1="23.1" y1="369.68" x2="24.7" y2="369.68" stroke="#111" stroke-width="0.6" />
<text x="21.6" y="371.3" font-size="4.5" fill="#1a1a1a" text-anchor="end" font-weight="normal"  stroke="#1a1a1a" stroke-width="0.12">5000</text>
<line x1="23.1" y1="358.06" x2="24.7" y2="358.06" stroke="#111" stroke-width="0.6" />
<text x="21.6" y="359.68" font-size="4.5" fill="#1a1a1a" text-anchor="end" font-weight="normal"  stroke="#1a1a1a" stroke-width="0.12">10,000</text>
<line x1="23.1" y1="346.44" x2="24.7" y2="346.44" stroke="#111" stroke-width="0.6" />
<text x="21.6" y="348.06" font-size="4.5" fill="#1a1a1a" text-anchor="end" font-weight="normal"  stroke="#1a1a1a" stroke-width="0.12">15,000</text>
<line x1="23.1" y1="334.82" x2="24.7" y2="334.82" stroke="#111" stroke-width="0.6" />
<text x="21.6" y="336.44" font-size="4.5" fill="#1a1a1a" text-anchor="end" font-weight="normal"  stroke="#1a1a1a" stroke-width="0.12">20,000</text>
<line x1="23.1" y1="323.2" x2="24.7" y2="323.2" stroke="#111" stroke-width="0.6" />
<text x="21.6" y="324.82" font-size="4.5" fill="#1a1a1a" text-anchor="end" font-weight="normal"  stroke="#1a1a1a" stroke-width="0.12">25,000</text>
<line x1="36.6" y1="350.2" x2="36.6" y2="360.5" stroke="#222" stroke-width="0.6" />
<line x1="34.2" y1="350.2" x2="39" y2="350.2" stroke="#222" stroke-width="0.6" />
<line x1="34.2" y1="360.5" x2="39" y2="360.5" stroke="#222" stroke-width="0.6" />
<rect x="35.35" y="341.55" width="2.7" height="2.7" fill="#000" stroke="none" stroke-width="1" />
<rect x="33.85" y="351.95" width="2.7" height="2.7" fill="#000" stroke="none" stroke-width="1" />
<rect x="37.05" y="355.15" width="2.7" height="2.7" fill="#000" stroke="none" stroke-width="1" />
<rect x="35.75" y="365.95" width="2.7" height="2.7" fill="#000" stroke="none" stroke-width="1" />
<line x1="36.6" y1="381.3" x2="36.6" y2="382.9" stroke="#111" stroke-width="0.6" />
<line x1="51.7" y1="351.8" x2="51.7" y2="365.4" stroke="#222" stroke-width="0.6" />
<line x1="49.3" y1="351.8" x2="54.1" y2="351.8" stroke="#222" stroke-width="0.6" />
<line x1="49.3" y1="365.4" x2="54.1" y2="365.4" stroke="#222" stroke-width="0.6" />
<polygon points="50.22,348.15 53.19,348.15 51.7,345.45" fill="#000" stroke="none" stroke-width="1" />
<polygon points="50.22,352.35 53.19,352.35 51.7,349.65" fill="#000" stroke="none" stroke-width="1" />
<polygon points="50.22,362.25 53.19,362.25 51.7,359.55" fill="#000" stroke="none" stroke-width="1" />
<polygon points="50.22,377.75 53.19,377.75 51.7,375.05" fill="#000" stroke="none" stroke-width="1" />
<line x1="51.7" y1="381.3" x2="51.7" y2="382.9" stroke="#111" stroke-width="0.6" />
<line x1="67.1" y1="345.5" x2="67.1" y2="356" stroke="#222" stroke-width="0.6" />
<line x1="64.7" y1="345.5" x2="69.5" y2="345.5" stroke="#222" stroke-width="0.6" />
<line x1="64.7" y1="356" x2="69.5" y2="356" stroke="#222" stroke-width="0.6" />
<circle cx="65.1" cy="340.6" r="1.38" fill="#000" stroke="none" stroke-width="0.5"/>
<circle cx="68.9" cy="339.3" r="1.38" fill="#000" stroke="none" stroke-width="0.5"/>
<circle cx="65.5" cy="351.8" r="1.38" fill="#000" stroke="none" stroke-width="0.5"/>
<circle cx="68.7" cy="354.4" r="1.38" fill="#000" stroke="none" stroke-width="0.5"/>
<circle cx="67" cy="367.3" r="1.38" fill="#000" stroke="none" stroke-width="0.5"/>
<line x1="67.1" y1="381.3" x2="67.1" y2="382.9" stroke="#111" stroke-width="0.6" />
<line x1="82.3" y1="334" x2="82.3" y2="338.1" stroke="#222" stroke-width="0.6" />
<line x1="79.9" y1="334" x2="84.7" y2="334" stroke="#222" stroke-width="0.6" />
<line x1="79.9" y1="338.1" x2="84.7" y2="338.1" stroke="#222" stroke-width="0.6" />
<polygon points="80.81,332.1 82.3,330.62 83.78,332.1 82.3,333.59" fill="#000" stroke="none" stroke-width="1" />
<polygon points="78.61,334 80.1,332.51 81.58,334 80.1,335.49" fill="#000" stroke="none" stroke-width="1" />
<polygon points="82.02,337.2 83.5,335.71 84.98,337.2 83.5,338.69" fill="#000" stroke="none" stroke-width="1" />
<polygon points="80.81,341 82.3,339.51 83.78,341 82.3,342.49" fill="#000" stroke="none" stroke-width="1" />
<line x1="82.3" y1="381.3" x2="82.3" y2="382.9" stroke="#111" stroke-width="0.6" />
<line x1="66.4" y1="328.9" x2="82.9" y2="328.9" stroke="#222" stroke-width="0.6" />
<line x1="66.4" y1="328.6" x2="66.4" y2="330.3" stroke="#222" stroke-width="0.6" />
<line x1="82.9" y1="328.6" x2="82.9" y2="330.3" stroke="#222" stroke-width="0.6" />
<text x="74.65" y="327.3" font-size="4.2" fill="#222" text-anchor="middle" font-weight="normal"  stroke="#222" stroke-width="0.12"><tspan font-style="italic">P</tspan> = 0.04</text>
<text transform="translate(5.3 352.2) rotate(-90)" font-size="4.8" fill="#1a1a1a" text-anchor="middle"  stroke="#1a1a1a" stroke-width="0.11">MHCII MFI</text>
<text x="36.6" y="388.3" font-size="3.8" fill="#222" text-anchor="middle" font-weight="normal"  stroke="#222" stroke-width="0.12">V</text>
<text x="51.7" y="388.3" font-size="3.8" fill="#222" text-anchor="middle" font-weight="normal"  stroke="#222" stroke-width="0.12">AHRi</text>
<text x="67" y="388.3" font-size="3.8" fill="#222" text-anchor="middle" font-weight="normal"  stroke="#222" stroke-width="0.12">V</text>
<text x="82.2" y="388.3" font-size="3.8" fill="#222" text-anchor="middle" font-weight="normal"  stroke="#222" stroke-width="0.12">AHRi</text>
<line x1="34.4" y1="391.5" x2="54.8" y2="391.5" stroke="#111" stroke-width="0.6" />
<line x1="34.7" y1="390.5" x2="34.7" y2="391.5" stroke="#111" stroke-width="0.5" />
<line x1="54.5" y1="390.5" x2="54.5" y2="391.5" stroke="#111" stroke-width="0.5" />
<line x1="64.1" y1="391.5" x2="84.9" y2="391.5" stroke="#111" stroke-width="0.6" />
<line x1="64.4" y1="390.5" x2="64.4" y2="391.5" stroke="#111" stroke-width="0.5" />
<line x1="84.6" y1="390.5" x2="84.6" y2="391.5" stroke="#111" stroke-width="0.5" />
<text x="44.5" y="397.2" font-size="4.2" fill="#222" text-anchor="middle" font-weight="normal"  stroke="#222" stroke-width="0.12">B16<tspan font-size="2.52" dy="-1.47">WT</tspan></text>
<text x="74.3" y="397.2" font-size="4.2" fill="#222" text-anchor="middle" font-weight="normal"  stroke="#222" stroke-width="0.12">B16<tspan font-size="2.52" dy="-1.47">IDO</tspan></text>
<rect x="130.5" y="357.7" width="10.3" height="23.7" fill="#d8d8d6" stroke="#5a5a5a" stroke-width="0.8" />
<rect x="146.2" y="346.2" width="10" height="35.2" fill="#f07c79" stroke="#823838" stroke-width="0.8" />
<rect x="161.3" y="340.3" width="10.3" height="41.1" fill="#8ecbe8" stroke="#35627f" stroke-width="0.8" />
<rect x="176.4" y="354.5" width="10.2" height="26.9" fill="#f8eb7e" stroke="#7a7236" stroke-width="0.8" />
<line x1="125.6" y1="322.7" x2="125.6" y2="381.4" stroke="#111" stroke-width="0.9" />
<line x1="125.6" y1="381.4" x2="191.7" y2="381.4" stroke="#111" stroke-width="0.9" />
<line x1="124" y1="381.4" x2="125.6" y2="381.4" stroke="#111" stroke-width="0.6" />
<text x="122.5" y="382.88" font-size="4.1" fill="#1a1a1a" text-anchor="end" font-weight="normal"  stroke="#1a1a1a" stroke-width="0.12">0</text>
<line x1="124" y1="366.72" x2="125.6" y2="366.72" stroke="#111" stroke-width="0.6" />
<text x="122.5" y="368.2" font-size="4.1" fill="#1a1a1a" text-anchor="end" font-weight="normal"  stroke="#1a1a1a" stroke-width="0.12">1</text>
<line x1="124" y1="352.05" x2="125.6" y2="352.05" stroke="#111" stroke-width="0.6" />
<text x="122.5" y="353.53" font-size="4.1" fill="#1a1a1a" text-anchor="end" font-weight="normal"  stroke="#1a1a1a" stroke-width="0.12">2</text>
<line x1="124" y1="337.38" x2="125.6" y2="337.38" stroke="#111" stroke-width="0.6" />
<text x="122.5" y="338.85" font-size="4.1" fill="#1a1a1a" text-anchor="end" font-weight="normal"  stroke="#1a1a1a" stroke-width="0.12">3</text>
<line x1="124" y1="322.7" x2="125.6" y2="322.7" stroke="#111" stroke-width="0.6" />
<text x="122.5" y="324.18" font-size="4.1" fill="#1a1a1a" text-anchor="end" font-weight="normal"  stroke="#1a1a1a" stroke-width="0.12">4</text>
<line x1="135.65" y1="353.4" x2="135.65" y2="362.3" stroke="#222" stroke-width="0.6" />
<line x1="133.25" y1="353.4" x2="138.05" y2="353.4" stroke="#222" stroke-width="0.6" />
<line x1="133.25" y1="362.3" x2="138.05" y2="362.3" stroke="#222" stroke-width="0.6" />
<rect x="134.35" y="345.45" width="2.7" height="2.7" fill="#000" stroke="none" stroke-width="1" />
<rect x="134.35" y="353.35" width="2.7" height="2.7" fill="#000" stroke="none" stroke-width="1" />
<rect x="134.65" y="360.25" width="2.7" height="2.7" fill="#000" stroke="none" stroke-width="1" />
<rect x="134.35" y="365.45" width="2.7" height="2.7" fill="#000" stroke="none" stroke-width="1" />
<line x1="135.65" y1="381.4" x2="135.65" y2="383" stroke="#111" stroke-width="0.6" />
<line x1="151.2" y1="341.7" x2="151.2" y2="349.2" stroke="#222" stroke-width="0.6" />
<line x1="148.8" y1="341.7" x2="153.6" y2="341.7" stroke="#222" stroke-width="0.6" />
<line x1="148.8" y1="349.2" x2="153.6" y2="349.2" stroke="#222" stroke-width="0.6" />
<polygon points="152.01,339.15 154.99,339.15 153.5,336.45" fill="#000" stroke="none" stroke-width="1" />
<polygon points="147.51,343.55 150.49,343.55 149,340.85" fill="#000" stroke="none" stroke-width="1" />
<polygon points="149.51,350.15 152.49,350.15 151,347.45" fill="#000" stroke="none" stroke-width="1" />
<polygon points="149.81,356.55 152.79,356.55 151.3,353.85" fill="#000" stroke="none" stroke-width="1" />
<line x1="151.2" y1="381.4" x2="151.2" y2="383" stroke="#111" stroke-width="0.6" />
<line x1="166.45" y1="335.3" x2="166.45" y2="345.8" stroke="#222" stroke-width="0.6" />
<line x1="164.05" y1="335.3" x2="168.85" y2="335.3" stroke="#222" stroke-width="0.6" />
<line x1="164.05" y1="345.8" x2="168.85" y2="345.8" stroke="#222" stroke-width="0.6" />
<circle cx="164" cy="332.1" r="1.38" fill="#000" stroke="none" stroke-width="0.5"/>
<circle cx="168.6" cy="330.8" r="1.38" fill="#000" stroke="none" stroke-width="0.5"/>
<circle cx="166.1" cy="345.1" r="1.38" fill="#000" stroke="none" stroke-width="0.5"/>
<circle cx="166.4" cy="352" r="1.38" fill="#000" stroke="none" stroke-width="0.5"/>
<line x1="166.45" y1="381.4" x2="166.45" y2="383" stroke="#111" stroke-width="0.6" />
<line x1="181.5" y1="354" x2="181.5" y2="355" stroke="#222" stroke-width="0.6" />
<line x1="179.1" y1="354" x2="183.9" y2="354" stroke="#222" stroke-width="0.6" />
<line x1="179.1" y1="355" x2="183.9" y2="355" stroke="#222" stroke-width="0.6" />
<circle cx="179.1" cy="354" r="1.38" fill="#000" stroke="none" stroke-width="0.5"/>
<circle cx="181.8" cy="353.6" r="1.38" fill="#000" stroke="none" stroke-width="0.5"/>
<circle cx="183.2" cy="354.7" r="1.38" fill="#000" stroke="none" stroke-width="0.5"/>
<circle cx="180.5" cy="355.1" r="1.38" fill="#000" stroke="none" stroke-width="0.5"/>
<line x1="181.5" y1="381.4" x2="181.5" y2="383" stroke="#111" stroke-width="0.6" />
<line x1="138" y1="323.6" x2="165.8" y2="323.6" stroke="#222" stroke-width="0.6" />
<line x1="138" y1="323.3" x2="138" y2="325" stroke="#222" stroke-width="0.6" />
<line x1="165.8" y1="323.3" x2="165.8" y2="325" stroke="#222" stroke-width="0.6" />
<text x="151.9" y="322" font-size="4.2" fill="#222" text-anchor="middle" font-weight="normal"  stroke="#222" stroke-width="0.12"><tspan font-style="italic">P</tspan> = 0.04</text>
<line x1="167.2" y1="323.6" x2="182.3" y2="323.6" stroke="#222" stroke-width="0.6" />
<line x1="167.2" y1="323.3" x2="167.2" y2="325" stroke="#222" stroke-width="0.6" />
<line x1="182.3" y1="323.3" x2="182.3" y2="325" stroke="#222" stroke-width="0.6" />
<text x="174.75" y="322" font-size="4.2" fill="#222" text-anchor="middle" font-weight="normal"  stroke="#222" stroke-width="0.12"><tspan font-style="italic">P</tspan> = 0.04</text>
<text transform="translate(114.5 351.8) rotate(-90)" font-size="4.8" fill="#1a1a1a" text-anchor="middle"  stroke="#1a1a1a" stroke-width="0.11">T-regs (% of CD45<tspan font-size="2.8" dy="-1.5">+</tspan><tspan dy="1.5"> cells)</tspan></text>
<text x="135.5" y="388.2" font-size="3.8" fill="#222" text-anchor="middle" font-weight="normal"  stroke="#222" stroke-width="0.12">V</text>
<text x="151.8" y="388.2" font-size="3.8" fill="#222" text-anchor="middle" font-weight="normal"  stroke="#222" stroke-width="0.12">AHRi</text>
<text x="166.6" y="388.2" font-size="3.8" fill="#222" text-anchor="middle" font-weight="normal"  stroke="#222" stroke-width="0.12">V</text>
<text x="182" y="388.2" font-size="3.8" fill="#222" text-anchor="middle" font-weight="normal"  stroke="#222" stroke-width="0.12">AHRi</text>
<line x1="129.5" y1="390.5" x2="146" y2="390.5" stroke="#111" stroke-width="0.6" />
<line x1="129.8" y1="389.5" x2="129.8" y2="390.5" stroke="#111" stroke-width="0.5" />
<line x1="145.7" y1="389.5" x2="145.7" y2="390.5" stroke="#111" stroke-width="0.5" />
<line x1="161.8" y1="390.5" x2="187" y2="390.5" stroke="#111" stroke-width="0.6" />
<line x1="162.1" y1="389.5" x2="162.1" y2="390.5" stroke="#111" stroke-width="0.5" />
<line x1="186.7" y1="389.5" x2="186.7" y2="390.5" stroke="#111" stroke-width="0.5" />
<text x="143" y="396.8" font-size="4.2" fill="#222" text-anchor="middle" font-weight="normal"  stroke="#222" stroke-width="0.12">B16<tspan font-size="2.52" dy="-1.47">WT</tspan></text>
<text x="172.8" y="396.8" font-size="4.2" fill="#222" text-anchor="middle" font-weight="normal"  stroke="#222" stroke-width="0.12">B16<tspan font-size="2.52" dy="-1.47">IDO</tspan></text>
<rect x="46.2" y="463.5" width="11.4" height="28.8" fill="#d8d8d6" stroke="#5a5a5a" stroke-width="0.8" />
<rect x="62.8" y="476.8" width="11" height="15.5" fill="#f07c79" stroke="#823838" stroke-width="0.8" />
<rect x="79.4" y="471.5" width="11.3" height="20.8" fill="#8ecbe8" stroke="#35627f" stroke-width="0.8" />
<rect x="96.2" y="453.2" width="11.3" height="39.1" fill="#f8eb7e" stroke="#7a7236" stroke-width="0.8" />
<line x1="40" y1="428.9" x2="40" y2="492.3" stroke="#111" stroke-width="0.9" />
<line x1="40" y1="492.3" x2="111" y2="492.3" stroke="#111" stroke-width="0.9" />
<line x1="38.4" y1="492.3" x2="40" y2="492.3" stroke="#111" stroke-width="0.6" />
<text x="36.9" y="494.1" font-size="5" fill="#1a1a1a" text-anchor="end" font-weight="normal" >0</text>
<line x1="38.4" y1="471.17" x2="40" y2="471.17" stroke="#111" stroke-width="0.6" />
<text x="36.9" y="472.97" font-size="5" fill="#1a1a1a" text-anchor="end" font-weight="normal" >5</text>
<line x1="38.4" y1="450.03" x2="40" y2="450.03" stroke="#111" stroke-width="0.6" />
<text x="36.9" y="451.83" font-size="5" fill="#1a1a1a" text-anchor="end" font-weight="normal" >10</text>
<line x1="38.4" y1="428.9" x2="40" y2="428.9" stroke="#111" stroke-width="0.6" />
<text x="36.9" y="430.7" font-size="5" fill="#1a1a1a" text-anchor="end" font-weight="normal" >15</text>
<line x1="51.9" y1="455.4" x2="51.9" y2="471.6" stroke="#222" stroke-width="0.6" />
<line x1="49.5" y1="455.4" x2="54.3" y2="455.4" stroke="#222" stroke-width="0.6" />
<line x1="49.5" y1="471.6" x2="54.3" y2="471.6" stroke="#222" stroke-width="0.6" />
<rect x="50.05" y="437.75" width="2.9" height="2.9" fill="#000" stroke="none" stroke-width="1" />
<rect x="46.95" y="467.65" width="2.9" height="2.9" fill="#000" stroke="none" stroke-width="1" />
<rect x="50.25" y="471.25" width="2.9" height="2.9" fill="#000" stroke="none" stroke-width="1" />
<rect x="53.25" y="470.55" width="2.9" height="2.9" fill="#000" stroke="none" stroke-width="1" />
<line x1="51.9" y1="492.3" x2="51.9" y2="493.9" stroke="#111" stroke-width="0.6" />
<line x1="68.3" y1="474.9" x2="68.3" y2="478.7" stroke="#222" stroke-width="0.6" />
<line x1="65.9" y1="474.9" x2="70.7" y2="474.9" stroke="#222" stroke-width="0.6" />
<line x1="65.9" y1="478.7" x2="70.7" y2="478.7" stroke="#222" stroke-width="0.6" />
<polygon points="63.7,475.13 66.89,475.13 65.3,472.23" fill="#000" stroke="none" stroke-width="1" />
<polygon points="69.5,475.13 72.69,475.13 71.1,472.23" fill="#000" stroke="none" stroke-width="1" />
<polygon points="66.61,478.33 69.8,478.33 68.2,475.43" fill="#000" stroke="none" stroke-width="1" />
<polygon points="67,483.53 70.19,483.53 68.6,480.63" fill="#000" stroke="none" stroke-width="1" />
<line x1="68.3" y1="492.3" x2="68.3" y2="493.9" stroke="#111" stroke-width="0.6" />
<line x1="85.05" y1="465.4" x2="85.05" y2="477.9" stroke="#222" stroke-width="0.6" />
<line x1="82.65" y1="465.4" x2="87.45" y2="465.4" stroke="#222" stroke-width="0.6" />
<line x1="82.65" y1="477.9" x2="87.45" y2="477.9" stroke="#222" stroke-width="0.6" />
<circle cx="82.6" cy="461.4" r="1.48" fill="#000" stroke="none" stroke-width="0.5"/>
<circle cx="87.3" cy="460.2" r="1.48" fill="#000" stroke="none" stroke-width="0.5"/>
<circle cx="85.1" cy="477.9" r="1.48" fill="#000" stroke="none" stroke-width="0.5"/>
<circle cx="85.1" cy="485.5" r="1.48" fill="#000" stroke="none" stroke-width="0.5"/>
<line x1="85.05" y1="492.3" x2="85.05" y2="493.9" stroke="#111" stroke-width="0.6" />
<line x1="101.85" y1="451.4" x2="101.85" y2="455" stroke="#222" stroke-width="0.6" />
<line x1="99.45" y1="451.4" x2="104.25" y2="451.4" stroke="#222" stroke-width="0.6" />
<line x1="99.45" y1="455" x2="104.25" y2="455" stroke="#222" stroke-width="0.6" />
<polygon points="100.11,448.2 101.7,446.6 103.3,448.2 101.7,449.8" fill="#000" stroke="none" stroke-width="1" />
<polygon points="97.11,454.4 98.7,452.8 100.3,454.4 98.7,456" fill="#000" stroke="none" stroke-width="1" />
<polygon points="103,454.4 104.6,452.8 106.19,454.4 104.6,456" fill="#000" stroke="none" stroke-width="1" />
<polygon points="100.11,456.6 101.7,455 103.3,456.6 101.7,458.2" fill="#000" stroke="none" stroke-width="1" />
<line x1="101.85" y1="492.3" x2="101.85" y2="493.9" stroke="#111" stroke-width="0.6" />
<line x1="84.3" y1="442.6" x2="102.8" y2="442.6" stroke="#222" stroke-width="0.6" />
<line x1="84.3" y1="442.3" x2="84.3" y2="444" stroke="#222" stroke-width="0.6" />
<line x1="102.8" y1="442.3" x2="102.8" y2="444" stroke="#222" stroke-width="0.6" />
<text x="93.55" y="441" font-size="4.9" fill="#222" text-anchor="middle" font-weight="normal"  stroke="#222" stroke-width="0.1"><tspan font-style="italic">P</tspan> = 0.03</text>
<text transform="translate(27.6 455) rotate(-90)" font-size="4.5" fill="#1a1a1a" text-anchor="middle"  stroke="#1a1a1a" stroke-width="0.12">Ki67+PD-1<tspan font-size="2.6" dy="-1.4">+</tspan><tspan dy="1.4">CD8</tspan><tspan font-size="2.6" dy="-1.4">+</tspan><tspan dy="1.4">(% of CD45</tspan><tspan font-size="2.6" dy="-1.4">+</tspan><tspan dy="1.4"> cells)</tspan></text>
<text x="51.9" y="499.6" font-size="3.8" fill="#222" text-anchor="middle" font-weight="normal"  stroke="#222" stroke-width="0.12">V</text>
<text x="68" y="499.6" font-size="3.8" fill="#222" text-anchor="middle" font-weight="normal"  stroke="#222" stroke-width="0.12">AHRi</text>
<text x="85" y="499.6" font-size="3.8" fill="#222" text-anchor="middle" font-weight="normal"  stroke="#222" stroke-width="0.12">V</text>
<text x="101.7" y="499.6" font-size="3.8" fill="#222" text-anchor="middle" font-weight="normal"  stroke="#222" stroke-width="0.12">AHRi</text>
<line x1="47.3" y1="502.5" x2="71.6" y2="502.5" stroke="#111" stroke-width="0.6" />
<line x1="47.6" y1="501.5" x2="47.6" y2="502.5" stroke="#111" stroke-width="0.5" />
<line x1="71.3" y1="501.5" x2="71.3" y2="502.5" stroke="#111" stroke-width="0.5" />
<line x1="79.9" y1="502.5" x2="104.8" y2="502.5" stroke="#111" stroke-width="0.6" />
<line x1="80.2" y1="501.5" x2="80.2" y2="502.5" stroke="#111" stroke-width="0.5" />
<line x1="104.5" y1="501.5" x2="104.5" y2="502.5" stroke="#111" stroke-width="0.5" />
<text x="59" y="508.6" font-size="4.2" fill="#222" text-anchor="middle" font-weight="normal"  stroke="#222" stroke-width="0.12">B16<tspan font-size="2.52" dy="-1.47">WT</tspan></text>
<text x="92.3" y="508.6" font-size="4.2" fill="#222" text-anchor="middle" font-weight="normal"  stroke="#222" stroke-width="0.12">B16<tspan font-size="2.52" dy="-1.47">IDO</tspan></text>
<rect x="218.2" y="326.8" width="60.2" height="60.5" fill="none" stroke="#a0a0a0" stroke-width="0.5" />
<line x1="218.2" y1="326.8" x2="218.2" y2="387.3" stroke="#666" stroke-width="0.5" />
<line x1="218.2" y1="387.3" x2="278.4" y2="387.3" stroke="#666" stroke-width="0.5" />
<polyline points="244.4,326.8 244.4,350 278.4,350" stroke="#808080" stroke-width="0.6" fill="none" />
<polyline points="245.6,387.3 245.6,352.3 278.4,352.3" stroke="#808080" stroke-width="0.6" fill="none" />
<line x1="216.9" y1="332.5" x2="218.2" y2="332.5" stroke="#444" stroke-width="0.5" />
<text x="216.4" y="333.5" font-size="3" fill="#222" text-anchor="end" font-weight="normal"  stroke="#222" stroke-width="0.12">10<tspan font-size="2.1" dy="-1.1">3</tspan></text>
<line x1="216.9" y1="353.1" x2="218.2" y2="353.1" stroke="#444" stroke-width="0.5" />
<text x="216.4" y="354.1" font-size="3" fill="#222" text-anchor="end" font-weight="normal"  stroke="#222" stroke-width="0.12">10<tspan font-size="2.1" dy="-1.1">2</tspan></text>
<line x1="216.9" y1="371.8" x2="218.2" y2="371.8" stroke="#444" stroke-width="0.5" />
<text x="216.4" y="372.8" font-size="3" fill="#222" text-anchor="end" font-weight="normal"  stroke="#222" stroke-width="0.12">0</text>
<line x1="217.4" y1="369.5" x2="218.2" y2="369.5" stroke="#222" stroke-width="0.4" />
<line x1="217.4" y1="371" x2="218.2" y2="371" stroke="#222" stroke-width="0.4" />
<line x1="217.4" y1="372.5" x2="218.2" y2="372.5" stroke="#222" stroke-width="0.4" />
<line x1="217.4" y1="336" x2="218.2" y2="336" stroke="#777" stroke-width="0.3" />
<line x1="217.4" y1="339.5" x2="218.2" y2="339.5" stroke="#777" stroke-width="0.3" />
<line x1="217.4" y1="342" x2="218.2" y2="342" stroke="#777" stroke-width="0.3" />
<line x1="217.4" y1="344" x2="218.2" y2="344" stroke="#777" stroke-width="0.3" />
<line x1="217.4" y1="345.5" x2="218.2" y2="345.5" stroke="#777" stroke-width="0.3" />
<line x1="217.4" y1="357" x2="218.2" y2="357" stroke="#777" stroke-width="0.3" />
<line x1="217.4" y1="360.5" x2="218.2" y2="360.5" stroke="#777" stroke-width="0.3" />
<line x1="217.4" y1="363" x2="218.2" y2="363" stroke="#777" stroke-width="0.3" />
<line x1="217.4" y1="365" x2="218.2" y2="365" stroke="#777" stroke-width="0.3" />
<line x1="217.4" y1="366.5" x2="218.2" y2="366.5" stroke="#777" stroke-width="0.3" />
<text x="229.7" y="393" font-size="3" fill="#222" text-anchor="middle" font-weight="normal"  stroke="#222" stroke-width="0.12">0</text>
<line x1="229.7" y1="387.3" x2="229.7" y2="388.3" stroke="#444" stroke-width="0.4" />
<text x="242" y="393" font-size="3" fill="#222" text-anchor="middle" font-weight="normal"  stroke="#222" stroke-width="0.12">10<tspan font-size="2.1" dy="-1.1">2</tspan></text>
<line x1="242" y1="387.3" x2="242" y2="388.3" stroke="#444" stroke-width="0.4" />
<text x="258.4" y="393" font-size="3" fill="#222" text-anchor="middle" font-weight="normal"  stroke="#222" stroke-width="0.12">10<tspan font-size="2.1" dy="-1.1">3</tspan></text>
<line x1="258.4" y1="387.3" x2="258.4" y2="388.3" stroke="#444" stroke-width="0.4" />
<text x="272.5" y="393" font-size="3" fill="#222" text-anchor="middle" font-weight="normal"  stroke="#222" stroke-width="0.12">10<tspan font-size="2.1" dy="-1.1">4</tspan></text>
<line x1="272.5" y1="387.3" x2="272.5" y2="388.3" stroke="#444" stroke-width="0.4" />
<line x1="226.2" y1="387.3" x2="226.2" y2="388.1" stroke="#444" stroke-width="0.3" />
<line x1="227.4" y1="387.3" x2="227.4" y2="388.1" stroke="#444" stroke-width="0.3" />
<line x1="228.6" y1="387.3" x2="228.6" y2="388.1" stroke="#444" stroke-width="0.3" />
<line x1="229.8" y1="387.3" x2="229.8" y2="388.1" stroke="#444" stroke-width="0.3" />
<line x1="231" y1="387.3" x2="231" y2="388.1" stroke="#444" stroke-width="0.3" />
<line x1="232.2" y1="387.3" x2="232.2" y2="388.1" stroke="#444" stroke-width="0.3" />
<line x1="233.4" y1="387.3" x2="233.4" y2="388.1" stroke="#444" stroke-width="0.3" />
<line x1="234.6" y1="387.3" x2="234.6" y2="388.1" stroke="#444" stroke-width="0.3" />
<text x="236.2" y="336.2" font-size="2.8" fill="#222" text-anchor="middle" font-weight="normal"  stroke="#222" stroke-width="0.12">Tregs</text>
<text x="236.2" y="339.6" font-size="2.8" fill="#222" text-anchor="middle" font-weight="normal"  stroke="#222" stroke-width="0.12">88.3</text>
<text x="235.2" y="371" font-size="2.8" fill="#222" text-anchor="middle" font-weight="normal"  stroke="#222" stroke-width="0.12">CD4 Teff</text>
<text x="235.6" y="374.9" font-size="2.8" fill="#222" text-anchor="middle" font-weight="normal"  stroke="#222" stroke-width="0.12">89.2</text>
<text x="249.3" y="324.7" font-size="6.5" fill="#111" text-anchor="middle" font-weight="normal" >Vehicle</text>
<path d="M254.44 378.25h0.6v0.6h-0.6zM248.55 375.33h0.6v0.6h-0.6zM253.69 364.5h0.6v0.6h-0.6zM266.2 369.55h0.6v0.6h-0.6zM254.09 373.51h0.6v0.6h-0.6zM261.76 367.4h0.6v0.6h-0.6zM259.39 358.63h0.6v0.6h-0.6zM253.2 362.86h0.6v0.6h-0.6zM248.4 352.69h0.6v0.6h-0.6zM245.5 363.89h0.6v0.6h-0.6zM254.26 364.03h0.6v0.6h-0.6zM256.61 355.08h0.6v0.6h-0.6zM254.31 369.08h0.6v0.6h-0.6zM260.24 359.87h0.6v0.6h-0.6zM254.42 348.71h0.6v0.6h-0.6zM253.97 347.03h0.6v0.6h-0.6zM245.54 376.01h0.6v0.6h-0.6zM241.14 372.83h0.6v0.6h-0.6zM257.24 364.4h0.6v0.6h-0.6zM257.27 372h0.6v0.6h-0.6zM261.45 365.56h0.6v0.6h-0.6zM252.01 361.23h0.6v0.6h-0.6zM249.15 366.01h0.6v0.6h-0.6zM249.35 376.1h0.6v0.6h-0.6zM244.82 356.09h0.6v0.6h-0.6zM251.19 347.69h0.6v0.6h-0.6zM268.52 346.57h0.6v0.6h-0.6zM253.78 362.13h0.6v0.6h-0.6zM266.67 350.21h0.6v0.6h-0.6zM262.06 361.09h0.6v0.6h-0.6zM254.68 360.9h0.6v0.6h-0.6zM259.85 357.2h0.6v0.6h-0.6zM254.21 370.12h0.6v0.6h-0.6zM268.15 346.56h0.6v0.6h-0.6zM263.25 376.4h0.6v0.6h-0.6zM251.84 369.44h0.6v0.6h-0.6zM250.74 381.47h0.6v0.6h-0.6zM256.44 365.2h0.6v0.6h-0.6zM253.82 365.07h0.6v0.6h-0.6zM254.74 359.02h0.6v0.6h-0.6zM269.01 351.12h0.6v0.6h-0.6zM233.58 363.74h0.6v0.6h-0.6zM253.79 370.25h0.6v0.6h-0.6zM253.91 365.55h0.6v0.6h-0.6zM256.11 375.87h0.6v0.6h-0.6zM252.66 363.39h0.6v0.6h-0.6zM266.11 372.91h0.6v0.6h-0.6zM247.03 387.22h0.6v0.6h-0.6zM260.16 362.19h0.6v0.6h-0.6zM247.72 368.97h0.6v0.6h-0.6zM250.98 357.03h0.6v0.6h-0.6zM247.72 361.69h0.6v0.6h-0.6zM262 363.78h0.6v0.6h-0.6zM245.75 372.12h0.6v0.6h-0.6zM254.63 374.6h0.6v0.6h-0.6zM262.33 366.21h0.6v0.6h-0.6zM254.18 366.51h0.6v0.6h-0.6zM247.63 372.31h0.6v0.6h-0.6zM263.04 369.38h0.6v0.6h-0.6zM253.82 364.53h0.6v0.6h-0.6zM251.06 359.33h0.6v0.6h-0.6zM253.36 359.22h0.6v0.6h-0.6zM253.81 352.61h0.6v0.6h-0.6zM257.05 367.65h0.6v0.6h-0.6zM250.18 345.73h0.6v0.6h-0.6zM253.96 376.88h0.6v0.6h-0.6zM251.05 362.24h0.6v0.6h-0.6zM251.02 372.51h0.6v0.6h-0.6zM248.65 375.28h0.6v0.6h-0.6zM252.36 375.1h0.6v0.6h-0.6zM255.4 364.95h0.6v0.6h-0.6zM246.79 359.96h0.6v0.6h-0.6zM252.85 372.75h0.6v0.6h-0.6zM257.09 360.91h0.6v0.6h-0.6zM256.56 376.09h0.6v0.6h-0.6zM254.51 362.98h0.6v0.6h-0.6zM251.92 374.02h0.6v0.6h-0.6zM259.05 359h0.6v0.6h-0.6zM257.67 362.93h0.6v0.6h-0.6zM249.4 377.65h0.6v0.6h-0.6zM260.55 361h0.6v0.6h-0.6zM255.02 371.54h0.6v0.6h-0.6zM251.29 365.54h0.6v0.6h-0.6zM260.59 351.38h0.6v0.6h-0.6zM256.29 373.81h0.6v0.6h-0.6zM259.22 355.29h0.6v0.6h-0.6zM257.68 359.46h0.6v0.6h-0.6zM257.86 372.76h0.6v0.6h-0.6zM256.98 360.28h0.6v0.6h-0.6zM250.7 374.29h0.6v0.6h-0.6zM249.19 370.9h0.6v0.6h-0.6zM258.3 364.81h0.6v0.6h-0.6zM269.23 369.06h0.6v0.6h-0.6zM269.63 350.23h0.6v0.6h-0.6zM240.72 374.45h0.6v0.6h-0.6zM259.08 364.58h0.6v0.6h-0.6zM256.39 349.93h0.6v0.6h-0.6zM252.17 357.37h0.6v0.6h-0.6zM252.88 374.8h0.6v0.6h-0.6zM254.98 370.36h0.6v0.6h-0.6zM251.22 362.69h0.6v0.6h-0.6zM255.92 364.54h0.6v0.6h-0.6zM263.34 359.92h0.6v0.6h-0.6zM267.17 359.35h0.6v0.6h-0.6zM262.02 360.71h0.6v0.6h-0.6zM264.72 369.21h0.6v0.6h-0.6zM256.71 373.91h0.6v0.6h-0.6zM252.15 357.29h0.6v0.6h-0.6zM241.81 376.71h0.6v0.6h-0.6zM251.38 361.28h0.6v0.6h-0.6zM253.03 384.79h0.6v0.6h-0.6zM244.46 368.2h0.6v0.6h-0.6zM252.16 371.53h0.6v0.6h-0.6zM244.62 362.36h0.6v0.6h-0.6zM258.62 381.47h0.6v0.6h-0.6zM265.3 360.3h0.6v0.6h-0.6zM255.43 366.05h0.6v0.6h-0.6zM248.08 353.28h0.6v0.6h-0.6zM259.3 369.65h0.6v0.6h-0.6zM253.06 377.8h0.6v0.6h-0.6zM248.55 371.11h0.6v0.6h-0.6zM255.11 366.47h0.6v0.6h-0.6zM257.77 368.87h0.6v0.6h-0.6zM256.35 369.54h0.6v0.6h-0.6zM266.85 365.38h0.6v0.6h-0.6zM260.5 373.05h0.6v0.6h-0.6zM252.2 373.92h0.6v0.6h-0.6zM248.84 376.88h0.6v0.6h-0.6zM250.61 362.13h0.6v0.6h-0.6zM256.18 374.65h0.6v0.6h-0.6zM259.62 375.54h0.6v0.6h-0.6zM254.62 358.31h0.6v0.6h-0.6zM258.01 370.03h0.6v0.6h-0.6zM248.44 375.15h0.6v0.6h-0.6zM257.05 358.54h0.6v0.6h-0.6zM258.82 355.4h0.6v0.6h-0.6zM249.4 370.08h0.6v0.6h-0.6zM245.67 366.4h0.6v0.6h-0.6zM246.27 372.79h0.6v0.6h-0.6zM250.49 368.2h0.6v0.6h-0.6zM246.34 363.02h0.6v0.6h-0.6zM260.24 371.66h0.6v0.6h-0.6zM243.19 374.18h0.6v0.6h-0.6zM260.66 364.17h0.6v0.6h-0.6zM264.41 358.36h0.6v0.6h-0.6zM253.49 376.92h0.6v0.6h-0.6zM261.67 379.25h0.6v0.6h-0.6zM250.07 350.4h0.6v0.6h-0.6zM258.62 354.41h0.6v0.6h-0.6zM255.37 355.45h0.6v0.6h-0.6zM260.61 374.83h0.6v0.6h-0.6zM258.31 367.49h0.6v0.6h-0.6zM255.54 364.36h0.6v0.6h-0.6zM257.06 369.46h0.6v0.6h-0.6zM258.13 363.44h0.6v0.6h-0.6zM266.08 370.66h0.6v0.6h-0.6zM262.13 379.75h0.6v0.6h-0.6zM251.27 351.37h0.6v0.6h-0.6zM262.85 364.28h0.6v0.6h-0.6zM255.72 364.73h0.6v0.6h-0.6z" fill="#9ab0dc"/>
<path d="M265.63 329.77h0.6v0.6h-0.6zM258.83 333.6h0.6v0.6h-0.6zM262.89 331.87h0.6v0.6h-0.6zM263.17 343.14h0.6v0.6h-0.6zM257.14 338.52h0.6v0.6h-0.6zM263.52 328.87h0.6v0.6h-0.6zM257.95 343.1h0.6v0.6h-0.6zM255.91 339.97h0.6v0.6h-0.6zM257.13 342.93h0.6v0.6h-0.6zM261.86 349.06h0.6v0.6h-0.6zM256.59 337.46h0.6v0.6h-0.6zM257.56 337.08h0.6v0.6h-0.6zM265.38 328.81h0.6v0.6h-0.6zM259.2 344.07h0.6v0.6h-0.6zM262.85 328.8h0.6v0.6h-0.6zM260.5 344.07h0.6v0.6h-0.6zM267.66 333.73h0.6v0.6h-0.6zM257.97 345.33h0.6v0.6h-0.6zM263.49 343.74h0.6v0.6h-0.6zM259.79 334.1h0.6v0.6h-0.6zM262.96 344.88h0.6v0.6h-0.6zM265.05 332.47h0.6v0.6h-0.6zM258.1 342.91h0.6v0.6h-0.6zM261.79 331.66h0.6v0.6h-0.6zM258.32 344.02h0.6v0.6h-0.6zM263.47 332.54h0.6v0.6h-0.6zM260.42 346.05h0.6v0.6h-0.6zM257.35 342.33h0.6v0.6h-0.6zM263.82 342.22h0.6v0.6h-0.6zM258.48 334.73h0.6v0.6h-0.6zM256.18 342.45h0.6v0.6h-0.6zM265.04 332.82h0.6v0.6h-0.6zM256.82 339.56h0.6v0.6h-0.6zM265.81 333.47h0.6v0.6h-0.6zM266.68 331.81h0.6v0.6h-0.6zM260.86 328.76h0.6v0.6h-0.6zM260.23 333.28h0.6v0.6h-0.6zM265.57 340.23h0.6v0.6h-0.6zM257.96 331.92h0.6v0.6h-0.6zM257.33 333.66h0.6v0.6h-0.6zM256.35 343.71h0.6v0.6h-0.6zM266.15 337.28h0.6v0.6h-0.6zM267.27 331.29h0.6v0.6h-0.6zM260.34 346.22h0.6v0.6h-0.6zM266.84 342.65h0.6v0.6h-0.6zM263.24 328.31h0.6v0.6h-0.6zM266.99 331.44h0.6v0.6h-0.6zM257.11 344.36h0.6v0.6h-0.6zM257.55 342.03h0.6v0.6h-0.6zM264.18 332.23h0.6v0.6h-0.6zM257.13 337.59h0.6v0.6h-0.6zM258.62 345.29h0.6v0.6h-0.6zM261.38 330.98h0.6v0.6h-0.6zM266.34 336.13h0.6v0.6h-0.6zM257.86 347.92h0.6v0.6h-0.6zM256.56 339.51h0.6v0.6h-0.6zM260.2 332.75h0.6v0.6h-0.6zM266.95 342.52h0.6v0.6h-0.6zM259.66 346.19h0.6v0.6h-0.6zM259.13 345.24h0.6v0.6h-0.6zM265.46 331.08h0.6v0.6h-0.6zM266.2 337.41h0.6v0.6h-0.6zM270.07 333.05h0.6v0.6h-0.6zM260.08 330.81h0.6v0.6h-0.6zM267.6 338.02h0.6v0.6h-0.6zM266.93 340.61h0.6v0.6h-0.6zM256.26 345.62h0.6v0.6h-0.6zM264.62 341.51h0.6v0.6h-0.6zM257.07 342.06h0.6v0.6h-0.6zM261.45 344.31h0.6v0.6h-0.6zM264.17 327.87h0.6v0.6h-0.6zM266.8 339.55h0.6v0.6h-0.6zM256.06 342.23h0.6v0.6h-0.6zM266.88 335.49h0.6v0.6h-0.6zM266.07 339.35h0.6v0.6h-0.6zM258.54 344.72h0.6v0.6h-0.6zM266.88 336.53h0.6v0.6h-0.6zM264.88 331.95h0.6v0.6h-0.6zM257.37 335.69h0.6v0.6h-0.6zM261.4 330.69h0.6v0.6h-0.6zM262.32 329.75h0.6v0.6h-0.6zM263.61 326.52h0.6v0.6h-0.6zM255.93 340.02h0.6v0.6h-0.6zM267.7 332.06h0.6v0.6h-0.6zM264.01 329.89h0.6v0.6h-0.6zM269.01 334.9h0.6v0.6h-0.6zM256.15 341.15h0.6v0.6h-0.6zM268.23 338.11h0.6v0.6h-0.6zM256.72 348.28h0.6v0.6h-0.6zM258.26 335.39h0.6v0.6h-0.6zM256.06 346.61h0.6v0.6h-0.6zM257.76 347.47h0.6v0.6h-0.6zM261.76 345.87h0.6v0.6h-0.6zM259.9 349.93h0.6v0.6h-0.6zM260.21 345.2h0.6v0.6h-0.6zM252.98 342.43h0.6v0.6h-0.6zM255.39 343.09h0.6v0.6h-0.6zM271.19 337.21h0.6v0.6h-0.6zM254.71 343.51h0.6v0.6h-0.6zM257.71 336.97h0.6v0.6h-0.6zM257.02 342.08h0.6v0.6h-0.6zM259.35 331.35h0.6v0.6h-0.6zM266.72 338.74h0.6v0.6h-0.6zM266 341.11h0.6v0.6h-0.6zM268.75 328.45h0.6v0.6h-0.6zM267.55 339.8h0.6v0.6h-0.6zM267 334.38h0.6v0.6h-0.6zM255.48 347.1h0.6v0.6h-0.6zM257.81 336.33h0.6v0.6h-0.6zM255.91 346.81h0.6v0.6h-0.6zM257.62 334.5h0.6v0.6h-0.6zM266.4 334.22h0.6v0.6h-0.6zM264.64 342.84h0.6v0.6h-0.6zM253.41 342.59h0.6v0.6h-0.6zM258.06 333.71h0.6v0.6h-0.6zM255.86 339.17h0.6v0.6h-0.6zM261.73 330.87h0.6v0.6h-0.6zM257.42 333.77h0.6v0.6h-0.6zM258.47 335.13h0.6v0.6h-0.6zM266.63 333.17h0.6v0.6h-0.6zM256.17 337.02h0.6v0.6h-0.6zM265.51 339.2h0.6v0.6h-0.6zM267.15 327.12h0.6v0.6h-0.6zM267.06 335.72h0.6v0.6h-0.6zM259.18 332.44h0.6v0.6h-0.6zM266.32 342.21h0.6v0.6h-0.6zM256.4 337.4h0.6v0.6h-0.6zM256.53 344.84h0.6v0.6h-0.6zM265.99 330.64h0.6v0.6h-0.6zM266.22 334.76h0.6v0.6h-0.6zM259.93 345.84h0.6v0.6h-0.6zM259.36 345.19h0.6v0.6h-0.6zM255.93 341.22h0.6v0.6h-0.6zM258.63 343.58h0.6v0.6h-0.6zM260.76 344.41h0.6v0.6h-0.6zM266.02 331.76h0.6v0.6h-0.6zM257.32 345.58h0.6v0.6h-0.6zM269.05 329.96h0.6v0.6h-0.6zM252.52 345.85h0.6v0.6h-0.6zM257.92 334.26h0.6v0.6h-0.6zM259.43 333.03h0.6v0.6h-0.6zM256.52 344.61h0.6v0.6h-0.6zM266.28 339.85h0.6v0.6h-0.6zM264.94 340.27h0.6v0.6h-0.6zM258.91 343.77h0.6v0.6h-0.6zM257.47 342.67h0.6v0.6h-0.6zM257.36 333.8h0.6v0.6h-0.6zM266.01 339.61h0.6v0.6h-0.6zM264.81 330.21h0.6v0.6h-0.6zM263 342.9h0.6v0.6h-0.6zM254.23 337.85h0.6v0.6h-0.6zM257.15 342.72h0.6v0.6h-0.6zM255.78 341.84h0.6v0.6h-0.6zM259.7 344.55h0.6v0.6h-0.6zM255.94 335.13h0.6v0.6h-0.6zM266.07 334.51h0.6v0.6h-0.6zM258.97 334.37h0.6v0.6h-0.6zM261.08 348.41h0.6v0.6h-0.6zM252.87 337.88h0.6v0.6h-0.6zM258.24 343.32h0.6v0.6h-0.6z" fill="#7a96d4"/>
<path d="M263.98 334.06h0.6v0.6h-0.6zM259.19 343.18h0.6v0.6h-0.6zM262.96 341.47h0.6v0.6h-0.6zM262.16 333.71h0.6v0.6h-0.6zM258 337.11h0.6v0.6h-0.6zM265.1 337.21h0.6v0.6h-0.6zM260.38 343.21h0.6v0.6h-0.6zM258.16 337.31h0.6v0.6h-0.6zM264.9 334.69h0.6v0.6h-0.6zM258.33 338.62h0.6v0.6h-0.6zM260.13 343.2h0.6v0.6h-0.6zM258.52 343.21h0.6v0.6h-0.6zM265.62 338.55h0.6v0.6h-0.6zM261.53 333.2h0.6v0.6h-0.6zM260.43 334.39h0.6v0.6h-0.6zM261.58 334.26h0.6v0.6h-0.6zM263.86 333.73h0.6v0.6h-0.6zM259 335.95h0.6v0.6h-0.6zM259.42 335.24h0.6v0.6h-0.6zM264.86 335.84h0.6v0.6h-0.6zM261.89 333.94h0.6v0.6h-0.6zM259.31 336.37h0.6v0.6h-0.6zM260.6 342.83h0.6v0.6h-0.6zM263.81 340.48h0.6v0.6h-0.6zM261.55 334.36h0.6v0.6h-0.6zM264.81 333.76h0.6v0.6h-0.6zM265.43 335.37h0.6v0.6h-0.6zM264.64 336.03h0.6v0.6h-0.6zM263.72 334.11h0.6v0.6h-0.6zM261.33 342.48h0.6v0.6h-0.6zM262.74 333.51h0.6v0.6h-0.6zM257.42 339.21h0.6v0.6h-0.6zM258.89 341.56h0.6v0.6h-0.6zM258.07 340.45h0.6v0.6h-0.6zM261.18 342.49h0.6v0.6h-0.6zM264.11 334.58h0.6v0.6h-0.6zM265.15 334.17h0.6v0.6h-0.6zM263.98 341.5h0.6v0.6h-0.6zM264.55 338.8h0.6v0.6h-0.6zM258.28 342.31h0.6v0.6h-0.6zM265.02 335.01h0.6v0.6h-0.6zM264.05 334.39h0.6v0.6h-0.6zM263.35 333.09h0.6v0.6h-0.6zM264.75 336.23h0.6v0.6h-0.6zM263.33 342.17h0.6v0.6h-0.6zM261.48 343.38h0.6v0.6h-0.6zM259.96 343.02h0.6v0.6h-0.6zM262.85 341.35h0.6v0.6h-0.6zM260.74 333.56h0.6v0.6h-0.6zM257.85 341.36h0.6v0.6h-0.6zM265.22 334.82h0.6v0.6h-0.6zM259.54 335.99h0.6v0.6h-0.6zM258.42 340.87h0.6v0.6h-0.6zM263.32 341.48h0.6v0.6h-0.6zM261.6 333.33h0.6v0.6h-0.6zM264.78 338.15h0.6v0.6h-0.6zM258.58 335.97h0.6v0.6h-0.6zM259.37 341.79h0.6v0.6h-0.6zM258.81 341.44h0.6v0.6h-0.6zM259.07 336.07h0.6v0.6h-0.6zM259.13 341.84h0.6v0.6h-0.6zM261.98 342.4h0.6v0.6h-0.6zM263.86 334.36h0.6v0.6h-0.6zM263.7 340.98h0.6v0.6h-0.6zM263.48 340.39h0.6v0.6h-0.6zM261.03 333.14h0.6v0.6h-0.6zM264.87 337.01h0.6v0.6h-0.6zM265.02 334.3h0.6v0.6h-0.6zM258.09 339.26h0.6v0.6h-0.6zM258.52 340.64h0.6v0.6h-0.6zM264.24 334.87h0.6v0.6h-0.6zM258.53 341.67h0.6v0.6h-0.6zM259.95 334.87h0.6v0.6h-0.6zM262.83 342.76h0.6v0.6h-0.6zM258.14 340.39h0.6v0.6h-0.6zM265.43 334.72h0.6v0.6h-0.6zM262.29 332.83h0.6v0.6h-0.6zM264.93 338.47h0.6v0.6h-0.6zM264.42 333.91h0.6v0.6h-0.6zM258.28 337.83h0.6v0.6h-0.6zM258.13 338.47h0.6v0.6h-0.6zM262.42 333.62h0.6v0.6h-0.6zM259.63 336.04h0.6v0.6h-0.6zM261.65 343.01h0.6v0.6h-0.6zM258.51 341.44h0.6v0.6h-0.6zM257.77 341.03h0.6v0.6h-0.6zM257.67 341.68h0.6v0.6h-0.6zM258.47 338.16h0.6v0.6h-0.6zM264.64 339.21h0.6v0.6h-0.6zM257.7 338.53h0.6v0.6h-0.6zM263.06 340.88h0.6v0.6h-0.6zM258.77 341.84h0.6v0.6h-0.6zM264.73 337.22h0.6v0.6h-0.6zM265.12 334.52h0.6v0.6h-0.6zM259.25 336.72h0.6v0.6h-0.6zM261.07 333.23h0.6v0.6h-0.6zM262.85 341.21h0.6v0.6h-0.6zM263.13 342.3h0.6v0.6h-0.6zM258.91 336.04h0.6v0.6h-0.6zM265.31 339.26h0.6v0.6h-0.6zM261.95 342.42h0.6v0.6h-0.6zM263.79 340.49h0.6v0.6h-0.6zM260.22 342.25h0.6v0.6h-0.6zM262.16 333.12h0.6v0.6h-0.6zM257.97 339.86h0.6v0.6h-0.6zM260.32 333.98h0.6v0.6h-0.6zM258.39 337.01h0.6v0.6h-0.6zM263.55 333.3h0.6v0.6h-0.6zM262.5 342.04h0.6v0.6h-0.6zM264.78 335.65h0.6v0.6h-0.6zM258.36 338.34h0.6v0.6h-0.6zM264.01 333.74h0.6v0.6h-0.6zM265.23 336.27h0.6v0.6h-0.6zM258.3 337.37h0.6v0.6h-0.6zM262.49 342.22h0.6v0.6h-0.6zM263.45 340.82h0.6v0.6h-0.6zM260.46 342.68h0.6v0.6h-0.6zM265.05 335.93h0.6v0.6h-0.6zM264.76 338.1h0.6v0.6h-0.6zM259.98 335.11h0.6v0.6h-0.6zM261.14 343.65h0.6v0.6h-0.6zM259.2 342.3h0.6v0.6h-0.6zM263.57 333.89h0.6v0.6h-0.6zM262.35 334.23h0.6v0.6h-0.6zM259.24 335.45h0.6v0.6h-0.6zM261.03 343.49h0.6v0.6h-0.6zM263.42 333.98h0.6v0.6h-0.6zM258.96 335.12h0.6v0.6h-0.6zM261.89 343.05h0.6v0.6h-0.6z" fill="#4a78c4"/>
<path d="M262.94 340.32h0.6v0.6h-0.6zM263.39 334.62h0.6v0.6h-0.6zM258.72 340.11h0.6v0.6h-0.6zM258.7 340.54h0.6v0.6h-0.6zM264.28 338.72h0.6v0.6h-0.6zM259.1 337.55h0.6v0.6h-0.6zM261.19 341.71h0.6v0.6h-0.6zM264.45 336.06h0.6v0.6h-0.6zM258.96 341.22h0.6v0.6h-0.6zM259.45 341.19h0.6v0.6h-0.6zM263.64 339.36h0.6v0.6h-0.6zM264.32 338.29h0.6v0.6h-0.6zM264.32 337.96h0.6v0.6h-0.6zM259.36 337.28h0.6v0.6h-0.6zM263.09 334.74h0.6v0.6h-0.6zM259.67 341.61h0.6v0.6h-0.6zM263.47 334.98h0.6v0.6h-0.6zM258.88 340.8h0.6v0.6h-0.6zM264.32 338.15h0.6v0.6h-0.6zM262.19 335.03h0.6v0.6h-0.6zM263.19 340.28h0.6v0.6h-0.6zM263.05 334.83h0.6v0.6h-0.6zM263.47 334.61h0.6v0.6h-0.6zM262.81 334.61h0.6v0.6h-0.6zM258.76 338.29h0.6v0.6h-0.6zM258.67 339.33h0.6v0.6h-0.6zM261.17 335.14h0.6v0.6h-0.6zM262.72 335.21h0.6v0.6h-0.6zM264.01 337.83h0.6v0.6h-0.6zM262.21 341.41h0.6v0.6h-0.6zM264.33 337.57h0.6v0.6h-0.6zM262.7 334.47h0.6v0.6h-0.6zM259.02 340.65h0.6v0.6h-0.6zM262.96 340.82h0.6v0.6h-0.6zM263.19 334.33h0.6v0.6h-0.6zM260.51 341.7h0.6v0.6h-0.6zM263.76 339.13h0.6v0.6h-0.6zM259.63 336.22h0.6v0.6h-0.6zM263.71 334.73h0.6v0.6h-0.6zM262.69 335.07h0.6v0.6h-0.6zM262.99 335.22h0.6v0.6h-0.6zM262.29 340.8h0.6v0.6h-0.6zM259.01 338.61h0.6v0.6h-0.6zM262.45 340.74h0.6v0.6h-0.6zM260.25 336.4h0.6v0.6h-0.6zM259.83 336.02h0.6v0.6h-0.6zM259.6 337.51h0.6v0.6h-0.6zM259.06 341.01h0.6v0.6h-0.6zM264.22 338.85h0.6v0.6h-0.6zM259.08 339.76h0.6v0.6h-0.6zM262.67 334.63h0.6v0.6h-0.6zM258.78 339.38h0.6v0.6h-0.6zM260.38 341.81h0.6v0.6h-0.6zM262.64 340.62h0.6v0.6h-0.6zM264.42 336.6h0.6v0.6h-0.6zM259.54 341.56h0.6v0.6h-0.6zM258.94 337.5h0.6v0.6h-0.6zM258.82 340.89h0.6v0.6h-0.6zM260.64 341.97h0.6v0.6h-0.6zM260.09 336.59h0.6v0.6h-0.6zM261.12 335.12h0.6v0.6h-0.6zM259.14 338.58h0.6v0.6h-0.6zM264.52 337.3h0.6v0.6h-0.6zM258.7 339.36h0.6v0.6h-0.6zM262.71 334.78h0.6v0.6h-0.6zM263.02 335.2h0.6v0.6h-0.6zM263.01 334.77h0.6v0.6h-0.6zM260.12 335.81h0.6v0.6h-0.6zM261.16 341.92h0.6v0.6h-0.6zM260.71 342.07h0.6v0.6h-0.6zM259.77 341.12h0.6v0.6h-0.6zM263.8 334.95h0.6v0.6h-0.6zM259.7 336.83h0.6v0.6h-0.6zM263.98 335.18h0.6v0.6h-0.6z" fill="#58a870"/>
<path d="M260.58 340.5h0.6v0.6h-0.6zM262.61 336.06h0.6v0.6h-0.6zM263.26 337.48h0.6v0.6h-0.6zM261.06 341.16h0.6v0.6h-0.6zM259.76 340.28h0.6v0.6h-0.6zM260.7 335.99h0.6v0.6h-0.6zM259.69 337.93h0.6v0.6h-0.6zM263.69 336.58h0.6v0.6h-0.6zM261.02 341.11h0.6v0.6h-0.6zM260.69 336.62h0.6v0.6h-0.6zM263.17 337.94h0.6v0.6h-0.6zM260.04 340h0.6v0.6h-0.6zM259.88 337.27h0.6v0.6h-0.6zM262.12 340.74h0.6v0.6h-0.6zM261.17 340.63h0.6v0.6h-0.6zM261.03 336.56h0.6v0.6h-0.6zM259.69 339.01h0.6v0.6h-0.6zM260.87 341.06h0.6v0.6h-0.6zM262.43 340h0.6v0.6h-0.6zM260.94 336.08h0.6v0.6h-0.6zM263.18 339.02h0.6v0.6h-0.6zM262.82 336.37h0.6v0.6h-0.6zM259.82 338.07h0.6v0.6h-0.6zM260.93 340.51h0.6v0.6h-0.6zM259.83 338.88h0.6v0.6h-0.6zM260.05 337.87h0.6v0.6h-0.6zM260.23 341.03h0.6v0.6h-0.6zM263.55 337.4h0.6v0.6h-0.6zM263.37 337.86h0.6v0.6h-0.6zM259.51 338.83h0.6v0.6h-0.6zM260.37 340.3h0.6v0.6h-0.6zM260.17 337.72h0.6v0.6h-0.6zM260.37 336.98h0.6v0.6h-0.6zM263.31 336.26h0.6v0.6h-0.6zM260.86 340.46h0.6v0.6h-0.6zM259.89 339.27h0.6v0.6h-0.6zM259.85 340.52h0.6v0.6h-0.6zM260.46 337.05h0.6v0.6h-0.6zM262.74 339.68h0.6v0.6h-0.6zM259.35 338.81h0.6v0.6h-0.6zM261.34 340.56h0.6v0.6h-0.6zM263.17 338.31h0.6v0.6h-0.6zM261.54 335.88h0.6v0.6h-0.6zM263.43 337.74h0.6v0.6h-0.6zM259.58 340.46h0.6v0.6h-0.6zM262.49 340.16h0.6v0.6h-0.6zM262.7 340.21h0.6v0.6h-0.6zM259.61 337.62h0.6v0.6h-0.6zM262.77 336h0.6v0.6h-0.6zM262.43 339.95h0.6v0.6h-0.6zM263.51 338.7h0.6v0.6h-0.6zM263.39 336.49h0.6v0.6h-0.6zM263.34 336.77h0.6v0.6h-0.6zM261.32 341.1h0.6v0.6h-0.6zM259.61 339.54h0.6v0.6h-0.6zM260.96 336.63h0.6v0.6h-0.6zM260.15 340.31h0.6v0.6h-0.6zM263.3 336.56h0.6v0.6h-0.6zM262.42 340.24h0.6v0.6h-0.6zM260.26 337.02h0.6v0.6h-0.6zM260.87 340.62h0.6v0.6h-0.6zM261.19 341.04h0.6v0.6h-0.6zM260.5 336.35h0.6v0.6h-0.6zM262.24 335.57h0.6v0.6h-0.6zM262.08 335.54h0.6v0.6h-0.6zM260.02 337.73h0.6v0.6h-0.6zM259.38 338.52h0.6v0.6h-0.6zM263.32 338.37h0.6v0.6h-0.6zM260.94 340.88h0.6v0.6h-0.6zM262.85 335.63h0.6v0.6h-0.6zM263.47 335.87h0.6v0.6h-0.6zM263.54 337.72h0.6v0.6h-0.6zM262.49 336.11h0.6v0.6h-0.6zM261.12 336.37h0.6v0.6h-0.6zM261.07 335.71h0.6v0.6h-0.6z" fill="#90c050"/>
<path d="M262.17 336.41h0.6v0.6h-0.6zM262.2 336.62h0.6v0.6h-0.6zM260.71 337.15h0.6v0.6h-0.6zM262.91 337.75h0.6v0.6h-0.6zM260.67 337.26h0.6v0.6h-0.6zM261.67 336.35h0.6v0.6h-0.6zM262.03 339.68h0.6v0.6h-0.6zM263.17 337.46h0.6v0.6h-0.6zM261 339.69h0.6v0.6h-0.6zM262.05 336.17h0.6v0.6h-0.6zM262.57 339.04h0.6v0.6h-0.6zM261.92 336.98h0.6v0.6h-0.6zM261.04 339.87h0.6v0.6h-0.6zM261.75 339.29h0.6v0.6h-0.6zM260.38 339.24h0.6v0.6h-0.6zM262.46 338.98h0.6v0.6h-0.6zM262.79 338.15h0.6v0.6h-0.6zM261.84 336.51h0.6v0.6h-0.6zM262.89 338.25h0.6v0.6h-0.6zM260.93 336.97h0.6v0.6h-0.6zM261.09 339.36h0.6v0.6h-0.6zM261.38 339.72h0.6v0.6h-0.6zM262.88 336.89h0.6v0.6h-0.6zM260.25 338.27h0.6v0.6h-0.6zM262.16 336.71h0.6v0.6h-0.6zM260.4 338.41h0.6v0.6h-0.6zM261.3 339.89h0.6v0.6h-0.6zM260.43 338.58h0.6v0.6h-0.6zM260.68 340.15h0.6v0.6h-0.6zM260.45 339.95h0.6v0.6h-0.6zM261.22 339.74h0.6v0.6h-0.6zM261.06 337.54h0.6v0.6h-0.6zM261.64 339.38h0.6v0.6h-0.6zM262.51 337.65h0.6v0.6h-0.6zM260.22 338.96h0.6v0.6h-0.6zM260.46 339.96h0.6v0.6h-0.6zM261.63 340.04h0.6v0.6h-0.6zM261.28 339.45h0.6v0.6h-0.6zM263.02 337.31h0.6v0.6h-0.6zM262.47 336.67h0.6v0.6h-0.6zM260.57 339.96h0.6v0.6h-0.6zM261.26 336.43h0.6v0.6h-0.6zM261.92 336.3h0.6v0.6h-0.6zM260.32 338.36h0.6v0.6h-0.6zM261.25 339.53h0.6v0.6h-0.6zM263.03 338.03h0.6v0.6h-0.6zM262.52 337.32h0.6v0.6h-0.6zM260.28 339.38h0.6v0.6h-0.6zM260.65 338.27h0.6v0.6h-0.6zM261.16 339.87h0.6v0.6h-0.6zM260.99 336.93h0.6v0.6h-0.6zM261.44 339.9h0.6v0.6h-0.6zM260.52 338.67h0.6v0.6h-0.6zM263 338.08h0.6v0.6h-0.6zM260.7 338.65h0.6v0.6h-0.6zM263.18 337.36h0.6v0.6h-0.6zM262.54 338.74h0.6v0.6h-0.6zM262.81 338.41h0.6v0.6h-0.6z" fill="#c8b838"/>
<path d="M261.33 339.01h0.6v0.6h-0.6zM262.44 337.67h0.6v0.6h-0.6zM262.14 337.38h0.6v0.6h-0.6zM261.81 339.13h0.6v0.6h-0.6zM261.93 338.71h0.6v0.6h-0.6zM261.51 337.95h0.6v0.6h-0.6zM261.49 339.21h0.6v0.6h-0.6zM262.34 338.13h0.6v0.6h-0.6zM261.84 337.39h0.6v0.6h-0.6zM261.43 337.77h0.6v0.6h-0.6zM261.95 337.78h0.6v0.6h-0.6zM262.28 338.37h0.6v0.6h-0.6zM261.49 338.81h0.6v0.6h-0.6zM261.53 338.89h0.6v0.6h-0.6zM261.44 337.4h0.6v0.6h-0.6zM261.86 337.91h0.6v0.6h-0.6zM261.08 338.8h0.6v0.6h-0.6zM261.07 339.01h0.6v0.6h-0.6zM261.87 338.87h0.6v0.6h-0.6zM261.26 338.47h0.6v0.6h-0.6zM261.8 338.54h0.6v0.6h-0.6zM260.74 338.74h0.6v0.6h-0.6zM261.66 337.96h0.6v0.6h-0.6zM261.49 339.15h0.6v0.6h-0.6z" fill="#e07030"/>
<path d="M258.59 360.97h0.6v0.6h-0.6zM261.24 355.58h0.6v0.6h-0.6zM259.55 355.18h0.6v0.6h-0.6zM262.87 374.62h0.6v0.6h-0.6zM258.5 360.02h0.6v0.6h-0.6zM254.13 384.51h0.6v0.6h-0.6zM263.09 365.55h0.6v0.6h-0.6zM263.84 354.1h0.6v0.6h-0.6zM262.62 368.31h0.6v0.6h-0.6zM261.41 372.38h0.6v0.6h-0.6zM263.47 374.83h0.6v0.6h-0.6zM264.36 370.25h0.6v0.6h-0.6zM260.92 356.41h0.6v0.6h-0.6zM262.4 369.56h0.6v0.6h-0.6zM260.44 356.28h0.6v0.6h-0.6zM258.43 375.65h0.6v0.6h-0.6zM259.32 355.52h0.6v0.6h-0.6zM258.56 359.97h0.6v0.6h-0.6zM262.51 359.13h0.6v0.6h-0.6zM262.9 368.05h0.6v0.6h-0.6zM260.38 374.06h0.6v0.6h-0.6zM259.19 356.09h0.6v0.6h-0.6zM262.15 372.41h0.6v0.6h-0.6zM259.28 356.08h0.6v0.6h-0.6zM263.43 357.28h0.6v0.6h-0.6zM260.66 345.98h0.6v0.6h-0.6zM261.57 374.37h0.6v0.6h-0.6zM257.46 355.23h0.6v0.6h-0.6zM258.3 378.15h0.6v0.6h-0.6zM264.49 367.3h0.6v0.6h-0.6zM262.92 372.74h0.6v0.6h-0.6zM258.27 362.47h0.6v0.6h-0.6zM258.26 377.62h0.6v0.6h-0.6zM263.42 360.51h0.6v0.6h-0.6zM261.74 380.37h0.6v0.6h-0.6zM264.29 356.59h0.6v0.6h-0.6zM257.96 381.28h0.6v0.6h-0.6zM260.34 380.13h0.6v0.6h-0.6zM258.54 374.49h0.6v0.6h-0.6zM262.56 374.51h0.6v0.6h-0.6zM259.56 357.17h0.6v0.6h-0.6zM257.11 365.78h0.6v0.6h-0.6zM257.1 369.32h0.6v0.6h-0.6zM261.02 377.01h0.6v0.6h-0.6zM256.95 363.4h0.6v0.6h-0.6zM257.35 366.68h0.6v0.6h-0.6zM260.82 383.29h0.6v0.6h-0.6zM262.26 374.45h0.6v0.6h-0.6zM260.86 376.19h0.6v0.6h-0.6zM257.25 361.36h0.6v0.6h-0.6zM263.32 353.38h0.6v0.6h-0.6zM261.18 352.56h0.6v0.6h-0.6zM263 365.15h0.6v0.6h-0.6zM262.4 358.91h0.6v0.6h-0.6zM263.03 372.4h0.6v0.6h-0.6zM260.13 375.79h0.6v0.6h-0.6zM260.36 353.88h0.6v0.6h-0.6zM258.72 356.68h0.6v0.6h-0.6zM260.45 373.14h0.6v0.6h-0.6zM257.77 363.36h0.6v0.6h-0.6zM261.51 373.68h0.6v0.6h-0.6zM262.45 351.94h0.6v0.6h-0.6zM261.23 378.03h0.6v0.6h-0.6zM257.66 363.39h0.6v0.6h-0.6zM261.58 353.01h0.6v0.6h-0.6zM263.31 360.28h0.6v0.6h-0.6zM258.25 372.5h0.6v0.6h-0.6zM256.41 377.49h0.6v0.6h-0.6zM259.64 356.89h0.6v0.6h-0.6zM258.4 361.38h0.6v0.6h-0.6zM260.37 381.76h0.6v0.6h-0.6zM257.87 367.33h0.6v0.6h-0.6zM258.85 374.88h0.6v0.6h-0.6zM262.1 355.48h0.6v0.6h-0.6zM258.87 374.36h0.6v0.6h-0.6zM262.2 358.58h0.6v0.6h-0.6zM262.3 357.72h0.6v0.6h-0.6zM259.63 375.98h0.6v0.6h-0.6zM263.24 355.35h0.6v0.6h-0.6zM257.41 369.5h0.6v0.6h-0.6zM263.63 370.9h0.6v0.6h-0.6zM263.65 351.61h0.6v0.6h-0.6zM260.25 355.76h0.6v0.6h-0.6zM260.75 376.42h0.6v0.6h-0.6zM262.23 371.69h0.6v0.6h-0.6zM256.68 373.44h0.6v0.6h-0.6zM261.32 354.4h0.6v0.6h-0.6zM257.53 369.27h0.6v0.6h-0.6zM263.07 357.29h0.6v0.6h-0.6zM263.17 360.54h0.6v0.6h-0.6zM261.3 352.18h0.6v0.6h-0.6zM260.41 373.6h0.6v0.6h-0.6zM255.54 367.52h0.6v0.6h-0.6zM262.58 358.99h0.6v0.6h-0.6zM263.71 354.74h0.6v0.6h-0.6zM261.11 376.4h0.6v0.6h-0.6zM264.53 346.71h0.6v0.6h-0.6zM260.22 374.83h0.6v0.6h-0.6zM260.12 376.45h0.6v0.6h-0.6zM257.78 358.89h0.6v0.6h-0.6zM262.95 359.36h0.6v0.6h-0.6zM258.14 371.06h0.6v0.6h-0.6zM257.62 368.76h0.6v0.6h-0.6zM264.15 363.45h0.6v0.6h-0.6zM260.45 375.7h0.6v0.6h-0.6zM262.18 355.97h0.6v0.6h-0.6zM260.08 375.9h0.6v0.6h-0.6zM259.27 355.49h0.6v0.6h-0.6zM256.98 357.42h0.6v0.6h-0.6zM259.61 357.23h0.6v0.6h-0.6zM261.72 355.65h0.6v0.6h-0.6zM263.67 359.99h0.6v0.6h-0.6zM257.18 366.75h0.6v0.6h-0.6zM258.21 370.5h0.6v0.6h-0.6zM261.23 376.86h0.6v0.6h-0.6zM261.51 353.28h0.6v0.6h-0.6zM262.66 371.68h0.6v0.6h-0.6zM262.55 365.87h0.6v0.6h-0.6z" fill="#a0b2e2"/>
<path d="M261.54 357.93h0.6v0.6h-0.6zM259.94 359.55h0.6v0.6h-0.6zM260.01 372.59h0.6v0.6h-0.6zM261.3 358.94h0.6v0.6h-0.6zM259.96 372.2h0.6v0.6h-0.6zM261.31 368.55h0.6v0.6h-0.6zM259.35 361.58h0.6v0.6h-0.6zM259.21 362.6h0.6v0.6h-0.6zM258.51 363.85h0.6v0.6h-0.6zM261.52 357.15h0.6v0.6h-0.6zM261.36 370.82h0.6v0.6h-0.6zM258.9 365.56h0.6v0.6h-0.6zM262.22 361.84h0.6v0.6h-0.6zM262.28 365.74h0.6v0.6h-0.6zM259.02 372.38h0.6v0.6h-0.6zM259.37 370.62h0.6v0.6h-0.6zM261.22 356.76h0.6v0.6h-0.6zM259.91 357.5h0.6v0.6h-0.6zM262.24 361.87h0.6v0.6h-0.6zM258.35 369.82h0.6v0.6h-0.6zM259.56 372.88h0.6v0.6h-0.6zM259.7 371.55h0.6v0.6h-0.6zM262.44 363.03h0.6v0.6h-0.6zM260.29 371.09h0.6v0.6h-0.6zM261.39 366.95h0.6v0.6h-0.6zM258.93 364.84h0.6v0.6h-0.6zM258.78 371.17h0.6v0.6h-0.6zM260.84 358.37h0.6v0.6h-0.6zM260.52 359.48h0.6v0.6h-0.6zM260.15 369.95h0.6v0.6h-0.6zM258.49 365.79h0.6v0.6h-0.6zM258.4 364.7h0.6v0.6h-0.6zM260.32 371.7h0.6v0.6h-0.6zM262.23 360.99h0.6v0.6h-0.6zM261.72 358.66h0.6v0.6h-0.6zM258.97 371.85h0.6v0.6h-0.6zM261.72 362.77h0.6v0.6h-0.6zM259.07 371.23h0.6v0.6h-0.6zM261.81 364.26h0.6v0.6h-0.6zM259.95 369.94h0.6v0.6h-0.6zM261.65 363.17h0.6v0.6h-0.6zM261.91 361.45h0.6v0.6h-0.6zM258.19 369.81h0.6v0.6h-0.6zM261.71 362h0.6v0.6h-0.6zM258.67 368.71h0.6v0.6h-0.6zM261.81 360.46h0.6v0.6h-0.6zM260.64 370.51h0.6v0.6h-0.6zM261.16 369.09h0.6v0.6h-0.6zM258.69 362.95h0.6v0.6h-0.6zM259.15 369.93h0.6v0.6h-0.6zM258.48 365.75h0.6v0.6h-0.6zM258.72 369.57h0.6v0.6h-0.6zM258.51 362.63h0.6v0.6h-0.6zM258.32 365.04h0.6v0.6h-0.6zM260.98 357.36h0.6v0.6h-0.6zM261.4 360.1h0.6v0.6h-0.6zM262.23 367.12h0.6v0.6h-0.6zM261.91 358.87h0.6v0.6h-0.6zM259.64 369.98h0.6v0.6h-0.6zM258.44 367.5h0.6v0.6h-0.6zM259.17 370.69h0.6v0.6h-0.6zM259.1 360.91h0.6v0.6h-0.6zM262.29 363.25h0.6v0.6h-0.6zM259.63 358.66h0.6v0.6h-0.6zM259.19 359.38h0.6v0.6h-0.6zM258.33 363.66h0.6v0.6h-0.6zM261.09 359.3h0.6v0.6h-0.6zM258.31 365.56h0.6v0.6h-0.6zM262.23 365.22h0.6v0.6h-0.6zM261.17 359.11h0.6v0.6h-0.6zM258.82 360.7h0.6v0.6h-0.6zM258.86 362.71h0.6v0.6h-0.6zM258.8 363.4h0.6v0.6h-0.6zM260.71 359.97h0.6v0.6h-0.6zM259.58 370.12h0.6v0.6h-0.6zM261.77 364.25h0.6v0.6h-0.6zM259.6 371.65h0.6v0.6h-0.6zM258.45 371.41h0.6v0.6h-0.6zM258.77 369.68h0.6v0.6h-0.6zM259.59 361.61h0.6v0.6h-0.6zM259.59 358.43h0.6v0.6h-0.6zM260.97 358.06h0.6v0.6h-0.6zM258.98 369.57h0.6v0.6h-0.6zM258.89 364.28h0.6v0.6h-0.6zM260.83 359.38h0.6v0.6h-0.6zM258.66 363.88h0.6v0.6h-0.6zM258.96 360.83h0.6v0.6h-0.6zM259.21 361.85h0.6v0.6h-0.6zM259 364.03h0.6v0.6h-0.6z" fill="#7896d4"/>
<path d="M259.36 368.86h0.6v0.6h-0.6zM259.88 367.33h0.6v0.6h-0.6zM259.33 366.29h0.6v0.6h-0.6zM261.39 365.07h0.6v0.6h-0.6zM260.35 367.74h0.6v0.6h-0.6zM259.96 362.84h0.6v0.6h-0.6zM260.01 369.42h0.6v0.6h-0.6zM261.02 367.6h0.6v0.6h-0.6zM261.5 362.75h0.6v0.6h-0.6zM261.21 362.96h0.6v0.6h-0.6zM260.76 368.91h0.6v0.6h-0.6zM259.52 369.56h0.6v0.6h-0.6zM260.79 362.6h0.6v0.6h-0.6zM259.92 369.71h0.6v0.6h-0.6zM259.56 363.7h0.6v0.6h-0.6zM260.01 368.59h0.6v0.6h-0.6zM259.37 365.31h0.6v0.6h-0.6zM260.03 367.81h0.6v0.6h-0.6zM259.5 367.24h0.6v0.6h-0.6zM260.81 366.65h0.6v0.6h-0.6zM261.6 363.24h0.6v0.6h-0.6zM261.61 364.18h0.6v0.6h-0.6zM259.65 363.04h0.6v0.6h-0.6zM259.89 367.6h0.6v0.6h-0.6zM260.22 368.15h0.6v0.6h-0.6zM261.19 361.07h0.6v0.6h-0.6zM260.88 362.83h0.6v0.6h-0.6zM260.38 360.42h0.6v0.6h-0.6zM259.93 368.71h0.6v0.6h-0.6zM261.42 365.1h0.6v0.6h-0.6zM259.77 367.09h0.6v0.6h-0.6zM260.53 367.63h0.6v0.6h-0.6zM260.02 363.1h0.6v0.6h-0.6zM261.3 365.02h0.6v0.6h-0.6zM259.56 363.03h0.6v0.6h-0.6zM259.72 368.34h0.6v0.6h-0.6zM261.2 364.7h0.6v0.6h-0.6zM259.82 362.49h0.6v0.6h-0.6z" fill="#5a8cc8"/>
<path d="M260.69 365.28h0.6v0.6h-0.6zM260.51 364.83h0.6v0.6h-0.6zM260.03 363.97h0.6v0.6h-0.6zM259.67 366.01h0.6v0.6h-0.6zM260 364.26h0.6v0.6h-0.6zM260.06 365.75h0.6v0.6h-0.6zM260.91 364.75h0.6v0.6h-0.6zM260.19 363.55h0.6v0.6h-0.6zM260.29 363.87h0.6v0.6h-0.6zM259.75 365.1h0.6v0.6h-0.6zM260.79 365.12h0.6v0.6h-0.6zM260.73 363.32h0.6v0.6h-0.6zM260.32 364.94h0.6v0.6h-0.6zM260.69 363.62h0.6v0.6h-0.6zM259.66 365.14h0.6v0.6h-0.6z" fill="#80b878"/>
<rect x="287.7" y="326.8" width="60.7" height="60.5" fill="none" stroke="#a0a0a0" stroke-width="0.5" />
<line x1="287.7" y1="326.8" x2="287.7" y2="387.3" stroke="#666" stroke-width="0.5" />
<line x1="287.7" y1="387.3" x2="348.4" y2="387.3" stroke="#666" stroke-width="0.5" />
<polyline points="313.8,326.8 313.8,350 348.4,350" stroke="#808080" stroke-width="0.6" fill="none" />
<polyline points="315.3,387.3 315.3,352.3 348.4,352.3" stroke="#808080" stroke-width="0.6" fill="none" />
<line x1="286.4" y1="332.5" x2="287.7" y2="332.5" stroke="#444" stroke-width="0.5" />
<text x="285.9" y="333.5" font-size="3" fill="#222" text-anchor="end" font-weight="normal"  stroke="#222" stroke-width="0.12">10<tspan font-size="2.1" dy="-1.1">3</tspan></text>
<line x1="286.4" y1="353.1" x2="287.7" y2="353.1" stroke="#444" stroke-width="0.5" />
<text x="285.9" y="354.1" font-size="3" fill="#222" text-anchor="end" font-weight="normal"  stroke="#222" stroke-width="0.12">10<tspan font-size="2.1" dy="-1.1">2</tspan></text>
<line x1="286.4" y1="371.8" x2="287.7" y2="371.8" stroke="#444" stroke-width="0.5" />
<text x="285.9" y="372.8" font-size="3" fill="#222" text-anchor="end" font-weight="normal"  stroke="#222" stroke-width="0.12">0</text>
<line x1="286.9" y1="369.5" x2="287.7" y2="369.5" stroke="#222" stroke-width="0.4" />
<line x1="286.9" y1="371" x2="287.7" y2="371" stroke="#222" stroke-width="0.4" />
<line x1="286.9" y1="372.5" x2="287.7" y2="372.5" stroke="#222" stroke-width="0.4" />
<line x1="286.9" y1="336" x2="287.7" y2="336" stroke="#777" stroke-width="0.3" />
<line x1="286.9" y1="339.5" x2="287.7" y2="339.5" stroke="#777" stroke-width="0.3" />
<line x1="286.9" y1="342" x2="287.7" y2="342" stroke="#777" stroke-width="0.3" />
<line x1="286.9" y1="344" x2="287.7" y2="344" stroke="#777" stroke-width="0.3" />
<line x1="286.9" y1="345.5" x2="287.7" y2="345.5" stroke="#777" stroke-width="0.3" />
<line x1="286.9" y1="357" x2="287.7" y2="357" stroke="#777" stroke-width="0.3" />
<line x1="286.9" y1="360.5" x2="287.7" y2="360.5" stroke="#777" stroke-width="0.3" />
<line x1="286.9" y1="363" x2="287.7" y2="363" stroke="#777" stroke-width="0.3" />
<line x1="286.9" y1="365" x2="287.7" y2="365" stroke="#777" stroke-width="0.3" />
<line x1="286.9" y1="366.5" x2="287.7" y2="366.5" stroke="#777" stroke-width="0.3" />
<text x="298.6" y="393" font-size="3" fill="#222" text-anchor="middle" font-weight="normal"  stroke="#222" stroke-width="0.12">0</text>
<line x1="298.6" y1="387.3" x2="298.6" y2="388.3" stroke="#444" stroke-width="0.4" />
<text x="312.3" y="393" font-size="3" fill="#222" text-anchor="middle" font-weight="normal"  stroke="#222" stroke-width="0.12">10<tspan font-size="2.1" dy="-1.1">2</tspan></text>
<line x1="312.3" y1="387.3" x2="312.3" y2="388.3" stroke="#444" stroke-width="0.4" />
<text x="328" y="393" font-size="3" fill="#222" text-anchor="middle" font-weight="normal"  stroke="#222" stroke-width="0.12">10<tspan font-size="2.1" dy="-1.1">3</tspan></text>
<line x1="328" y1="387.3" x2="328" y2="388.3" stroke="#444" stroke-width="0.4" />
<text x="342.5" y="393" font-size="3" fill="#222" text-anchor="middle" font-weight="normal"  stroke="#222" stroke-width="0.12">10<tspan font-size="2.1" dy="-1.1">4</tspan></text>
<line x1="342.5" y1="387.3" x2="342.5" y2="388.3" stroke="#444" stroke-width="0.4" />
<line x1="295.7" y1="387.3" x2="295.7" y2="388.1" stroke="#444" stroke-width="0.3" />
<line x1="296.9" y1="387.3" x2="296.9" y2="388.1" stroke="#444" stroke-width="0.3" />
<line x1="298.1" y1="387.3" x2="298.1" y2="388.1" stroke="#444" stroke-width="0.3" />
<line x1="299.3" y1="387.3" x2="299.3" y2="388.1" stroke="#444" stroke-width="0.3" />
<line x1="300.5" y1="387.3" x2="300.5" y2="388.1" stroke="#444" stroke-width="0.3" />
<line x1="301.7" y1="387.3" x2="301.7" y2="388.1" stroke="#444" stroke-width="0.3" />
<line x1="302.9" y1="387.3" x2="302.9" y2="388.1" stroke="#444" stroke-width="0.3" />
<line x1="304.1" y1="387.3" x2="304.1" y2="388.1" stroke="#444" stroke-width="0.3" />
<text x="305.7" y="336.2" font-size="2.8" fill="#222" text-anchor="middle" font-weight="normal"  stroke="#222" stroke-width="0.12">Tregs</text>
<text x="305.7" y="339.6" font-size="2.8" fill="#222" text-anchor="middle" font-weight="normal"  stroke="#222" stroke-width="0.12">50.8</text>
<text x="304.7" y="371" font-size="2.8" fill="#222" text-anchor="middle" font-weight="normal"  stroke="#222" stroke-width="0.12">CD4 Teff</text>
<text x="305.1" y="374.9" font-size="2.8" fill="#222" text-anchor="middle" font-weight="normal"  stroke="#222" stroke-width="0.12">40.9</text>
<text x="321.6" y="324.7" font-size="6.5" fill="#111" text-anchor="middle" font-weight="normal" >AHRi</text>
<path d="M313.12 373.73h0.6v0.6h-0.6zM321.86 360.15h0.6v0.6h-0.6zM327.98 358.51h0.6v0.6h-0.6zM330.37 361.02h0.6v0.6h-0.6zM337.96 378.62h0.6v0.6h-0.6zM328.82 369.37h0.6v0.6h-0.6zM325.83 361.65h0.6v0.6h-0.6zM314.12 360.01h0.6v0.6h-0.6zM320.78 361.09h0.6v0.6h-0.6zM327.24 349.34h0.6v0.6h-0.6zM318.24 359.25h0.6v0.6h-0.6zM321.49 373.96h0.6v0.6h-0.6zM341.05 366.38h0.6v0.6h-0.6zM328.94 366.46h0.6v0.6h-0.6zM325.06 381.86h0.6v0.6h-0.6zM325.59 371.31h0.6v0.6h-0.6zM325.91 360.62h0.6v0.6h-0.6zM331.66 365.26h0.6v0.6h-0.6zM334.87 357.03h0.6v0.6h-0.6zM326.27 381.43h0.6v0.6h-0.6zM321.03 368.87h0.6v0.6h-0.6zM333.52 370.88h0.6v0.6h-0.6zM320.58 362.68h0.6v0.6h-0.6zM327.48 361.05h0.6v0.6h-0.6zM322.47 367.06h0.6v0.6h-0.6zM316.17 380.3h0.6v0.6h-0.6zM321.55 365.65h0.6v0.6h-0.6zM324.44 378.9h0.6v0.6h-0.6zM320.99 384.21h0.6v0.6h-0.6zM335.5 373.83h0.6v0.6h-0.6zM318.16 353.66h0.6v0.6h-0.6zM323.35 368.55h0.6v0.6h-0.6zM327.82 377.49h0.6v0.6h-0.6zM327.78 366.99h0.6v0.6h-0.6zM329.27 348.25h0.6v0.6h-0.6zM333.38 353.29h0.6v0.6h-0.6zM314.16 358.66h0.6v0.6h-0.6zM323.62 354.93h0.6v0.6h-0.6zM323.73 366.78h0.6v0.6h-0.6zM328.46 370.01h0.6v0.6h-0.6zM321.95 366.81h0.6v0.6h-0.6zM332.91 364.61h0.6v0.6h-0.6zM326.13 347.04h0.6v0.6h-0.6zM325 384.65h0.6v0.6h-0.6zM329.73 364.62h0.6v0.6h-0.6zM331.41 378.15h0.6v0.6h-0.6zM334.25 356.59h0.6v0.6h-0.6zM317.54 371.94h0.6v0.6h-0.6zM327.86 370.63h0.6v0.6h-0.6zM315.66 372.36h0.6v0.6h-0.6zM335.54 378.05h0.6v0.6h-0.6zM340.07 371.97h0.6v0.6h-0.6zM324.25 382.59h0.6v0.6h-0.6zM333.18 346.36h0.6v0.6h-0.6zM315.65 367.67h0.6v0.6h-0.6zM320.41 382.06h0.6v0.6h-0.6zM333.42 378.7h0.6v0.6h-0.6zM323.39 364.07h0.6v0.6h-0.6zM330.14 363.67h0.6v0.6h-0.6zM328.92 369.3h0.6v0.6h-0.6zM329.66 367.72h0.6v0.6h-0.6zM323.16 339.63h0.6v0.6h-0.6zM318.35 352.29h0.6v0.6h-0.6zM330.43 353.67h0.6v0.6h-0.6zM321.15 370.19h0.6v0.6h-0.6zM328.24 375.78h0.6v0.6h-0.6zM326.37 380.37h0.6v0.6h-0.6zM320.57 376.31h0.6v0.6h-0.6zM317.32 361.57h0.6v0.6h-0.6zM327 371.97h0.6v0.6h-0.6zM324.02 360.1h0.6v0.6h-0.6zM319.73 344.84h0.6v0.6h-0.6zM311.83 379.5h0.6v0.6h-0.6zM315.61 350.75h0.6v0.6h-0.6zM315.4 362.56h0.6v0.6h-0.6zM323.92 360.46h0.6v0.6h-0.6zM317.31 363.89h0.6v0.6h-0.6zM316.16 368.12h0.6v0.6h-0.6zM334.81 358.28h0.6v0.6h-0.6zM326.73 361.52h0.6v0.6h-0.6zM323.77 353.71h0.6v0.6h-0.6zM325.42 365.8h0.6v0.6h-0.6zM330.46 388.33h0.6v0.6h-0.6zM317.49 375.41h0.6v0.6h-0.6zM320.45 360.58h0.6v0.6h-0.6zM317.46 369.62h0.6v0.6h-0.6zM332.44 365.71h0.6v0.6h-0.6zM327.01 358.75h0.6v0.6h-0.6zM324.25 353.96h0.6v0.6h-0.6zM326.34 347.54h0.6v0.6h-0.6zM337.55 378.62h0.6v0.6h-0.6zM321.88 361.21h0.6v0.6h-0.6zM322.28 366.63h0.6v0.6h-0.6zM324.65 383.09h0.6v0.6h-0.6zM323.85 348.28h0.6v0.6h-0.6zM326.13 369.8h0.6v0.6h-0.6zM319.2 372.7h0.6v0.6h-0.6zM324.51 358.57h0.6v0.6h-0.6zM325.56 354.11h0.6v0.6h-0.6zM320.94 381.05h0.6v0.6h-0.6zM331.62 372.07h0.6v0.6h-0.6zM325.43 368.51h0.6v0.6h-0.6zM317.69 366.75h0.6v0.6h-0.6zM321.16 359.92h0.6v0.6h-0.6zM335.12 360.23h0.6v0.6h-0.6zM325.26 366.75h0.6v0.6h-0.6zM331.18 364.34h0.6v0.6h-0.6zM327.61 369.73h0.6v0.6h-0.6zM324.39 360.57h0.6v0.6h-0.6zM317.77 375h0.6v0.6h-0.6zM318.74 375.91h0.6v0.6h-0.6zM335.55 361.94h0.6v0.6h-0.6zM320.11 356.36h0.6v0.6h-0.6zM320.68 377.61h0.6v0.6h-0.6zM321.26 355.93h0.6v0.6h-0.6zM314.97 365.87h0.6v0.6h-0.6zM326.3 379.85h0.6v0.6h-0.6zM326.63 365.83h0.6v0.6h-0.6zM322.15 392.09h0.6v0.6h-0.6zM333.75 375.14h0.6v0.6h-0.6zM323.19 364.15h0.6v0.6h-0.6zM324.57 365.14h0.6v0.6h-0.6zM328.58 360.13h0.6v0.6h-0.6zM337.2 358.34h0.6v0.6h-0.6zM328.27 373.28h0.6v0.6h-0.6zM329.54 378.92h0.6v0.6h-0.6zM326.73 368.17h0.6v0.6h-0.6zM332.62 378.69h0.6v0.6h-0.6zM324.3 373.92h0.6v0.6h-0.6zM317.49 369.05h0.6v0.6h-0.6zM311.49 376.02h0.6v0.6h-0.6zM320.48 374.21h0.6v0.6h-0.6zM328.4 361.19h0.6v0.6h-0.6zM328.7 381.65h0.6v0.6h-0.6zM318.19 382.78h0.6v0.6h-0.6zM328.31 358.47h0.6v0.6h-0.6zM323.27 369.45h0.6v0.6h-0.6zM330.21 359.54h0.6v0.6h-0.6zM322.49 370.47h0.6v0.6h-0.6zM325.02 384.2h0.6v0.6h-0.6zM329.34 374.85h0.6v0.6h-0.6zM320.64 357.82h0.6v0.6h-0.6zM319 365.26h0.6v0.6h-0.6zM327.42 381.9h0.6v0.6h-0.6zM331.83 359.65h0.6v0.6h-0.6zM322.88 385.74h0.6v0.6h-0.6zM325.57 371.34h0.6v0.6h-0.6zM318.28 353.19h0.6v0.6h-0.6zM322.6 363.85h0.6v0.6h-0.6zM328.52 365.66h0.6v0.6h-0.6zM312.89 387.22h0.6v0.6h-0.6zM329.08 351.75h0.6v0.6h-0.6zM334.56 375.06h0.6v0.6h-0.6zM324.21 366.7h0.6v0.6h-0.6zM330.36 346.29h0.6v0.6h-0.6zM330.99 369.53h0.6v0.6h-0.6zM329.84 361.77h0.6v0.6h-0.6zM320.14 380.37h0.6v0.6h-0.6zM304.16 375.46h0.6v0.6h-0.6zM333.69 352.81h0.6v0.6h-0.6zM324.52 360.21h0.6v0.6h-0.6zM323.06 354.83h0.6v0.6h-0.6zM317.2 366.48h0.6v0.6h-0.6zM323.09 371.46h0.6v0.6h-0.6zM330.31 362h0.6v0.6h-0.6zM336.35 382.42h0.6v0.6h-0.6zM316.15 364.19h0.6v0.6h-0.6zM322.77 370.13h0.6v0.6h-0.6zM317.93 380.17h0.6v0.6h-0.6zM321.07 385.33h0.6v0.6h-0.6z" fill="#9ab0dc"/>
<path d="M324.36 347.79h0.6v0.6h-0.6zM323.92 342.81h0.6v0.6h-0.6zM324.05 341.72h0.6v0.6h-0.6zM322.52 341.67h0.6v0.6h-0.6zM334.25 341.54h0.6v0.6h-0.6zM326.88 347.39h0.6v0.6h-0.6zM322.61 347.43h0.6v0.6h-0.6zM326.49 347.35h0.6v0.6h-0.6zM336.72 338.38h0.6v0.6h-0.6zM326.33 348.07h0.6v0.6h-0.6zM322.66 349.69h0.6v0.6h-0.6zM330.96 347.74h0.6v0.6h-0.6zM334.9 339.05h0.6v0.6h-0.6zM329.29 331.05h0.6v0.6h-0.6zM330 333.58h0.6v0.6h-0.6zM335.34 336.77h0.6v0.6h-0.6zM325.03 341.57h0.6v0.6h-0.6zM331.77 346.66h0.6v0.6h-0.6zM325.18 346.08h0.6v0.6h-0.6zM334.23 343.22h0.6v0.6h-0.6zM325.54 346.31h0.6v0.6h-0.6zM324.68 346.54h0.6v0.6h-0.6zM334.29 332.08h0.6v0.6h-0.6zM337.12 339.56h0.6v0.6h-0.6zM330.18 347.1h0.6v0.6h-0.6zM333.63 342.73h0.6v0.6h-0.6zM334.64 338.67h0.6v0.6h-0.6zM335.15 340.82h0.6v0.6h-0.6zM334.21 342.71h0.6v0.6h-0.6zM331.74 334.31h0.6v0.6h-0.6zM327.35 333.83h0.6v0.6h-0.6zM332.53 347.36h0.6v0.6h-0.6zM327.86 335.19h0.6v0.6h-0.6zM329.55 334.46h0.6v0.6h-0.6zM324.66 347.46h0.6v0.6h-0.6zM333.58 333.51h0.6v0.6h-0.6zM325.88 326.97h0.6v0.6h-0.6zM333.28 332.11h0.6v0.6h-0.6zM332.89 334.03h0.6v0.6h-0.6zM324.75 344.13h0.6v0.6h-0.6zM333.45 342.83h0.6v0.6h-0.6zM327.82 347.4h0.6v0.6h-0.6zM334.33 340.96h0.6v0.6h-0.6zM333.74 342.87h0.6v0.6h-0.6zM337.98 336.6h0.6v0.6h-0.6zM326.62 337.32h0.6v0.6h-0.6zM334.77 335.51h0.6v0.6h-0.6zM325.33 347.37h0.6v0.6h-0.6zM336.04 339.04h0.6v0.6h-0.6zM331.85 333.6h0.6v0.6h-0.6zM331.15 333.97h0.6v0.6h-0.6zM331.82 333.11h0.6v0.6h-0.6zM324.36 340.11h0.6v0.6h-0.6zM331.03 334.06h0.6v0.6h-0.6zM324.52 346.4h0.6v0.6h-0.6zM329.39 329.39h0.6v0.6h-0.6zM322.92 340.87h0.6v0.6h-0.6zM336 330.51h0.6v0.6h-0.6zM322.52 345.74h0.6v0.6h-0.6zM333.32 347.43h0.6v0.6h-0.6zM331.46 347.46h0.6v0.6h-0.6zM333.55 345.38h0.6v0.6h-0.6zM334.92 336.53h0.6v0.6h-0.6zM326.59 337.31h0.6v0.6h-0.6zM326.49 336.73h0.6v0.6h-0.6zM323.55 343.52h0.6v0.6h-0.6zM324.72 343.66h0.6v0.6h-0.6zM333.03 334.79h0.6v0.6h-0.6zM327.44 336.75h0.6v0.6h-0.6zM323.95 340.55h0.6v0.6h-0.6zM338.04 334.54h0.6v0.6h-0.6zM326.38 349.55h0.6v0.6h-0.6zM333.27 345.07h0.6v0.6h-0.6zM334.16 332.33h0.6v0.6h-0.6zM330.85 334.64h0.6v0.6h-0.6zM328.22 347.63h0.6v0.6h-0.6zM334.57 333.6h0.6v0.6h-0.6zM331.2 334.13h0.6v0.6h-0.6zM336.15 332.27h0.6v0.6h-0.6zM329.45 348.24h0.6v0.6h-0.6zM329.56 333.23h0.6v0.6h-0.6z" fill="#8aa0d8"/>
<path d="M332.84 343.27h0.6v0.6h-0.6zM330.96 344.61h0.6v0.6h-0.6zM329.69 345.99h0.6v0.6h-0.6zM326.7 346h0.6v0.6h-0.6zM326.08 340.39h0.6v0.6h-0.6zM332.84 338.19h0.6v0.6h-0.6zM330.83 345.07h0.6v0.6h-0.6zM325.51 343.74h0.6v0.6h-0.6zM332.09 342.91h0.6v0.6h-0.6zM325.41 342.02h0.6v0.6h-0.6zM325.78 340.98h0.6v0.6h-0.6zM331.65 343.75h0.6v0.6h-0.6zM326.92 345.19h0.6v0.6h-0.6zM326.6 339.32h0.6v0.6h-0.6zM331.06 344.96h0.6v0.6h-0.6zM327.34 337.46h0.6v0.6h-0.6zM328.25 345.96h0.6v0.6h-0.6zM330.67 336.14h0.6v0.6h-0.6zM333.86 339.28h0.6v0.6h-0.6zM328.78 337.5h0.6v0.6h-0.6zM327.03 344.75h0.6v0.6h-0.6zM326.08 343.34h0.6v0.6h-0.6zM328.04 336.32h0.6v0.6h-0.6zM326.11 345.35h0.6v0.6h-0.6zM325.69 343.51h0.6v0.6h-0.6zM332.46 336.93h0.6v0.6h-0.6zM329.93 335.19h0.6v0.6h-0.6zM326.22 343.69h0.6v0.6h-0.6zM329.36 335.81h0.6v0.6h-0.6zM331.28 336.68h0.6v0.6h-0.6zM333.2 340.6h0.6v0.6h-0.6zM331.4 336.34h0.6v0.6h-0.6zM328.17 346.42h0.6v0.6h-0.6zM333.84 337.55h0.6v0.6h-0.6zM328.59 346.22h0.6v0.6h-0.6zM326.45 338.91h0.6v0.6h-0.6zM327.67 338.48h0.6v0.6h-0.6zM331.32 344.37h0.6v0.6h-0.6zM333.03 336.79h0.6v0.6h-0.6zM333.32 340.99h0.6v0.6h-0.6zM333.91 339.73h0.6v0.6h-0.6zM326.51 338.32h0.6v0.6h-0.6zM327.31 345.33h0.6v0.6h-0.6zM333.33 336.89h0.6v0.6h-0.6zM333.36 338.41h0.6v0.6h-0.6zM326.56 340.51h0.6v0.6h-0.6zM329.38 345.7h0.6v0.6h-0.6zM327.09 345.28h0.6v0.6h-0.6zM330.97 334.95h0.6v0.6h-0.6zM327.63 345.63h0.6v0.6h-0.6zM326.99 338.38h0.6v0.6h-0.6zM329.05 345.61h0.6v0.6h-0.6zM328.68 337.43h0.6v0.6h-0.6zM327.17 339.5h0.6v0.6h-0.6zM328.62 345.34h0.6v0.6h-0.6zM333.39 342.47h0.6v0.6h-0.6zM333.52 339.68h0.6v0.6h-0.6zM326.71 344.83h0.6v0.6h-0.6zM328.91 346.45h0.6v0.6h-0.6zM326.03 340.99h0.6v0.6h-0.6zM328.51 336.89h0.6v0.6h-0.6zM329.86 335.13h0.6v0.6h-0.6zM326.41 344.84h0.6v0.6h-0.6zM327.84 337.45h0.6v0.6h-0.6zM328.62 346.82h0.6v0.6h-0.6zM330.35 345.15h0.6v0.6h-0.6zM325.41 341.1h0.6v0.6h-0.6zM326.59 340.46h0.6v0.6h-0.6zM329.78 346.01h0.6v0.6h-0.6zM333.49 337.8h0.6v0.6h-0.6zM334 338.97h0.6v0.6h-0.6zM326.74 346.54h0.6v0.6h-0.6zM329.09 345.55h0.6v0.6h-0.6zM331.48 335.16h0.6v0.6h-0.6zM332.31 335.37h0.6v0.6h-0.6zM325 343.9h0.6v0.6h-0.6z" fill="#5a7cc8"/>
<path d="M329.01 345.22h0.6v0.6h-0.6zM327.74 339.42h0.6v0.6h-0.6zM327.44 343.73h0.6v0.6h-0.6zM328.7 338.95h0.6v0.6h-0.6zM327.85 343.85h0.6v0.6h-0.6zM332.84 338.4h0.6v0.6h-0.6zM328.07 344.74h0.6v0.6h-0.6zM327.88 339.99h0.6v0.6h-0.6zM329.9 338.09h0.6v0.6h-0.6zM332.46 339.89h0.6v0.6h-0.6zM332.77 339.23h0.6v0.6h-0.6zM328.2 344.42h0.6v0.6h-0.6zM327.94 340.03h0.6v0.6h-0.6zM328.87 337.54h0.6v0.6h-0.6zM331.49 337.53h0.6v0.6h-0.6zM331.88 342.82h0.6v0.6h-0.6zM326.94 341.34h0.6v0.6h-0.6zM328.05 339.51h0.6v0.6h-0.6zM332.64 337.91h0.6v0.6h-0.6zM330.59 343.34h0.6v0.6h-0.6zM331.42 343.44h0.6v0.6h-0.6zM332.42 338.15h0.6v0.6h-0.6zM329.09 338.47h0.6v0.6h-0.6zM326.94 342.24h0.6v0.6h-0.6zM330.57 337.37h0.6v0.6h-0.6zM332.16 339.06h0.6v0.6h-0.6zM328.76 338.22h0.6v0.6h-0.6zM332.82 339.02h0.6v0.6h-0.6zM328.93 337.49h0.6v0.6h-0.6zM331.19 342.42h0.6v0.6h-0.6zM331.96 340.54h0.6v0.6h-0.6zM331.58 338.06h0.6v0.6h-0.6zM330.47 343.32h0.6v0.6h-0.6zM329.9 344.53h0.6v0.6h-0.6zM332.82 339.99h0.6v0.6h-0.6zM331.35 342.64h0.6v0.6h-0.6zM331.44 342.15h0.6v0.6h-0.6zM328.9 338.61h0.6v0.6h-0.6zM330.72 343.03h0.6v0.6h-0.6zM332.37 339.9h0.6v0.6h-0.6zM329.4 337.42h0.6v0.6h-0.6zM331.19 337.77h0.6v0.6h-0.6zM328.03 343.68h0.6v0.6h-0.6zM329.51 344.53h0.6v0.6h-0.6zM328.37 338.49h0.6v0.6h-0.6zM332.69 339.16h0.6v0.6h-0.6zM330.99 343.18h0.6v0.6h-0.6zM328.17 338.9h0.6v0.6h-0.6zM332.79 338.53h0.6v0.6h-0.6zM329.28 338.17h0.6v0.6h-0.6zM332.16 341.65h0.6v0.6h-0.6zM329.83 337.07h0.6v0.6h-0.6zM331.07 337.55h0.6v0.6h-0.6zM330.25 343.67h0.6v0.6h-0.6zM332.31 340.53h0.6v0.6h-0.6zM332.4 340.69h0.6v0.6h-0.6zM332.64 337.99h0.6v0.6h-0.6zM332.46 338.79h0.6v0.6h-0.6zM329.94 343.78h0.6v0.6h-0.6zM332.03 339.82h0.6v0.6h-0.6zM329.46 338.22h0.6v0.6h-0.6zM331.94 341.07h0.6v0.6h-0.6zM327.01 341.03h0.6v0.6h-0.6zM327.27 339.66h0.6v0.6h-0.6zM326.57 343.58h0.6v0.6h-0.6zM329.88 343.83h0.6v0.6h-0.6zM331.99 339h0.6v0.6h-0.6zM330.38 337.87h0.6v0.6h-0.6zM328.5 344.14h0.6v0.6h-0.6zM327.77 343.8h0.6v0.6h-0.6zM327.89 339.22h0.6v0.6h-0.6zM332.5 340.48h0.6v0.6h-0.6zM331.15 337.05h0.6v0.6h-0.6zM329.9 337.49h0.6v0.6h-0.6zM331.31 342.44h0.6v0.6h-0.6zM326.95 341.35h0.6v0.6h-0.6zM329.56 338.23h0.6v0.6h-0.6zM331.79 336.98h0.6v0.6h-0.6zM331.26 337.78h0.6v0.6h-0.6zM328.77 337.61h0.6v0.6h-0.6z" fill="#4a70c0"/>
<path d="M329.87 342.99h0.6v0.6h-0.6zM328.41 339.62h0.6v0.6h-0.6zM330.84 341.51h0.6v0.6h-0.6zM329.93 343.43h0.6v0.6h-0.6zM327.74 342.7h0.6v0.6h-0.6zM329.78 338.83h0.6v0.6h-0.6zM328.57 343.59h0.6v0.6h-0.6zM328.23 340.25h0.6v0.6h-0.6zM327.84 342.57h0.6v0.6h-0.6zM327.83 343.02h0.6v0.6h-0.6zM331.22 340.79h0.6v0.6h-0.6zM330.31 338.4h0.6v0.6h-0.6zM331.02 339.36h0.6v0.6h-0.6zM328.27 343.3h0.6v0.6h-0.6zM330.13 339.21h0.6v0.6h-0.6zM331.06 339.56h0.6v0.6h-0.6zM331.17 338.63h0.6v0.6h-0.6zM328.64 343.51h0.6v0.6h-0.6zM328.35 340.76h0.6v0.6h-0.6zM328.8 339.99h0.6v0.6h-0.6zM327.59 342.76h0.6v0.6h-0.6zM327.72 342.09h0.6v0.6h-0.6zM327.8 341.77h0.6v0.6h-0.6zM331.05 340.4h0.6v0.6h-0.6zM328.22 343.48h0.6v0.6h-0.6zM331.14 341.87h0.6v0.6h-0.6zM330.28 338.74h0.6v0.6h-0.6zM330.54 342.68h0.6v0.6h-0.6zM330.51 342.84h0.6v0.6h-0.6zM329.62 339.34h0.6v0.6h-0.6zM328.25 340.71h0.6v0.6h-0.6zM330.92 338.65h0.6v0.6h-0.6zM331.68 340.33h0.6v0.6h-0.6zM331.56 341.27h0.6v0.6h-0.6zM328.08 342.94h0.6v0.6h-0.6zM328.28 342.82h0.6v0.6h-0.6zM329.53 339.38h0.6v0.6h-0.6zM327.86 343.32h0.6v0.6h-0.6zM331 341.2h0.6v0.6h-0.6zM329.12 343.76h0.6v0.6h-0.6zM327.99 342.68h0.6v0.6h-0.6zM328 342.55h0.6v0.6h-0.6z" fill="#60a860"/>
<path d="M330.92 340.45h0.6v0.6h-0.6zM330.68 339.68h0.6v0.6h-0.6zM330.05 339.65h0.6v0.6h-0.6zM329.14 342.59h0.6v0.6h-0.6zM329.86 340.16h0.6v0.6h-0.6zM328.98 342.02h0.6v0.6h-0.6zM328.9 342.69h0.6v0.6h-0.6zM330.57 341.71h0.6v0.6h-0.6zM330.25 339.89h0.6v0.6h-0.6zM330.81 341.27h0.6v0.6h-0.6zM330.43 340.11h0.6v0.6h-0.6zM328.92 340.33h0.6v0.6h-0.6zM329.01 341.38h0.6v0.6h-0.6zM330.05 339.72h0.6v0.6h-0.6zM330.18 342.24h0.6v0.6h-0.6zM328.79 341.63h0.6v0.6h-0.6zM329.85 339.57h0.6v0.6h-0.6zM328.99 340.18h0.6v0.6h-0.6z" fill="#c0b838"/>
<path d="M329.73 341.67h0.6v0.6h-0.6zM329.88 340.78h0.6v0.6h-0.6zM329.47 341.19h0.6v0.6h-0.6z" fill="#e8602a"/>
<path d="M331.47 350.25h0.6v0.6h-0.6zM334.45 368.84h0.6v0.6h-0.6zM331.25 377.91h0.6v0.6h-0.6zM333.3 357.41h0.6v0.6h-0.6zM333.73 360.81h0.6v0.6h-0.6zM327.12 371.45h0.6v0.6h-0.6zM326.87 367.29h0.6v0.6h-0.6zM328.36 370.51h0.6v0.6h-0.6zM327.15 357.99h0.6v0.6h-0.6zM328.11 360.37h0.6v0.6h-0.6zM326.17 369.28h0.6v0.6h-0.6zM328.14 357.41h0.6v0.6h-0.6zM333.78 358.53h0.6v0.6h-0.6zM327.01 369.37h0.6v0.6h-0.6zM332.65 357.99h0.6v0.6h-0.6zM332.29 358.02h0.6v0.6h-0.6zM334.15 369.1h0.6v0.6h-0.6zM332.52 359.87h0.6v0.6h-0.6zM326.67 355.6h0.6v0.6h-0.6zM328.65 372.22h0.6v0.6h-0.6zM329.38 370.73h0.6v0.6h-0.6zM333.01 367.54h0.6v0.6h-0.6zM327.99 358.65h0.6v0.6h-0.6zM331.12 356.15h0.6v0.6h-0.6zM332.97 363.13h0.6v0.6h-0.6zM325.95 356.78h0.6v0.6h-0.6zM330.38 347.1h0.6v0.6h-0.6zM331.79 369.2h0.6v0.6h-0.6zM329.05 378.14h0.6v0.6h-0.6zM326.79 363.02h0.6v0.6h-0.6zM332.38 370.21h0.6v0.6h-0.6zM331.73 353.6h0.6v0.6h-0.6zM327.34 369.79h0.6v0.6h-0.6zM331.28 345.09h0.6v0.6h-0.6zM333.61 353.37h0.6v0.6h-0.6zM327.21 366.06h0.6v0.6h-0.6zM332.06 370.76h0.6v0.6h-0.6zM325.66 371.16h0.6v0.6h-0.6zM325.88 365h0.6v0.6h-0.6zM328.01 371.76h0.6v0.6h-0.6zM325.78 367.07h0.6v0.6h-0.6zM329.67 351.36h0.6v0.6h-0.6zM323.9 368.23h0.6v0.6h-0.6zM332.65 360.31h0.6v0.6h-0.6zM332.27 356.21h0.6v0.6h-0.6zM326.77 364.61h0.6v0.6h-0.6zM327.72 362.27h0.6v0.6h-0.6zM327.22 370.06h0.6v0.6h-0.6zM327.57 363.23h0.6v0.6h-0.6zM331.33 353.6h0.6v0.6h-0.6zM327.92 357.84h0.6v0.6h-0.6zM332.62 363.81h0.6v0.6h-0.6zM329.32 373.81h0.6v0.6h-0.6zM333.22 362.47h0.6v0.6h-0.6zM327.42 348.73h0.6v0.6h-0.6zM332.3 372.44h0.6v0.6h-0.6zM327.97 360.86h0.6v0.6h-0.6zM327.97 368.44h0.6v0.6h-0.6zM326.72 366.77h0.6v0.6h-0.6zM326.02 369.3h0.6v0.6h-0.6zM333.14 352.44h0.6v0.6h-0.6zM326.16 368.61h0.6v0.6h-0.6zM327.86 369.5h0.6v0.6h-0.6zM329.95 374.81h0.6v0.6h-0.6zM326.78 369.73h0.6v0.6h-0.6zM334.13 353.47h0.6v0.6h-0.6zM333.26 365.26h0.6v0.6h-0.6zM328.5 374.05h0.6v0.6h-0.6zM328.99 374.38h0.6v0.6h-0.6zM333.21 364.97h0.6v0.6h-0.6zM331.2 348.94h0.6v0.6h-0.6zM329.26 371.12h0.6v0.6h-0.6zM332.25 358.06h0.6v0.6h-0.6zM333.95 365.69h0.6v0.6h-0.6zM329.79 355.38h0.6v0.6h-0.6zM331.92 367.34h0.6v0.6h-0.6zM330.44 345.4h0.6v0.6h-0.6zM325.94 366.9h0.6v0.6h-0.6zM326.03 366.88h0.6v0.6h-0.6zM327.58 363.65h0.6v0.6h-0.6zM327.5 364.77h0.6v0.6h-0.6zM327.54 358.68h0.6v0.6h-0.6zM329.12 370.25h0.6v0.6h-0.6zM332.44 347.14h0.6v0.6h-0.6zM329.93 372.3h0.6v0.6h-0.6zM326.94 358.26h0.6v0.6h-0.6zM327.62 366.64h0.6v0.6h-0.6zM332.3 358.57h0.6v0.6h-0.6zM328.79 350.45h0.6v0.6h-0.6zM329.32 379.11h0.6v0.6h-0.6zM328.5 373h0.6v0.6h-0.6zM332.29 360.58h0.6v0.6h-0.6zM325.36 368.34h0.6v0.6h-0.6zM330.93 369.6h0.6v0.6h-0.6zM333 350.71h0.6v0.6h-0.6zM334.46 365.1h0.6v0.6h-0.6zM331.93 355.24h0.6v0.6h-0.6zM326.26 367.49h0.6v0.6h-0.6zM332.57 372.85h0.6v0.6h-0.6zM326.53 367.72h0.6v0.6h-0.6zM334.09 357.88h0.6v0.6h-0.6zM332.63 361.79h0.6v0.6h-0.6zM332.19 378.56h0.6v0.6h-0.6zM333.08 376.43h0.6v0.6h-0.6zM327.19 364.29h0.6v0.6h-0.6zM327.33 356.64h0.6v0.6h-0.6zM331.97 369.75h0.6v0.6h-0.6zM326.7 377.37h0.6v0.6h-0.6zM328.42 355.78h0.6v0.6h-0.6zM332.13 373.85h0.6v0.6h-0.6zM326.51 368.17h0.6v0.6h-0.6zM328.48 369.48h0.6v0.6h-0.6zM330.06 353.45h0.6v0.6h-0.6zM329.95 372.27h0.6v0.6h-0.6zM332.3 354.47h0.6v0.6h-0.6zM333.2 362.34h0.6v0.6h-0.6zM328.67 373.5h0.6v0.6h-0.6zM327.89 358.39h0.6v0.6h-0.6zM327.53 370.31h0.6v0.6h-0.6zM327.78 372.33h0.6v0.6h-0.6zM333.77 364.14h0.6v0.6h-0.6zM330.58 355.28h0.6v0.6h-0.6zM332.98 353.12h0.6v0.6h-0.6zM332.8 351.16h0.6v0.6h-0.6zM326.66 370.63h0.6v0.6h-0.6zM327.08 363.06h0.6v0.6h-0.6zM329.86 371.93h0.6v0.6h-0.6zM333.08 369.03h0.6v0.6h-0.6zM330.52 370.66h0.6v0.6h-0.6zM332.86 353h0.6v0.6h-0.6zM334.59 371.46h0.6v0.6h-0.6zM327.67 375.07h0.6v0.6h-0.6zM327.75 360.69h0.6v0.6h-0.6zM331.17 354.57h0.6v0.6h-0.6zM330.66 370.03h0.6v0.6h-0.6zM332.68 370.35h0.6v0.6h-0.6zM333.35 356.15h0.6v0.6h-0.6zM330.44 355.26h0.6v0.6h-0.6zM327.87 359.15h0.6v0.6h-0.6zM328.91 370.04h0.6v0.6h-0.6zM330.01 353.7h0.6v0.6h-0.6zM332.01 371.59h0.6v0.6h-0.6zM330.53 374.49h0.6v0.6h-0.6zM326.22 359.21h0.6v0.6h-0.6zM327.24 368.18h0.6v0.6h-0.6zM330.88 370.64h0.6v0.6h-0.6zM329.65 371.43h0.6v0.6h-0.6zM325.37 379.34h0.6v0.6h-0.6zM330.43 369.8h0.6v0.6h-0.6zM331.28 352.87h0.6v0.6h-0.6zM329.94 355.44h0.6v0.6h-0.6zM325.62 357.92h0.6v0.6h-0.6zM331.13 355.93h0.6v0.6h-0.6zM331.82 352.4h0.6v0.6h-0.6zM328.02 369.37h0.6v0.6h-0.6zM328.57 370.23h0.6v0.6h-0.6zM327.01 377.18h0.6v0.6h-0.6zM332.03 374.3h0.6v0.6h-0.6zM331.27 355.52h0.6v0.6h-0.6z" fill="#6a88d0"/>
<path d="M331.44 362.69h0.6v0.6h-0.6zM329.43 366.48h0.6v0.6h-0.6zM328.53 367.46h0.6v0.6h-0.6zM327.85 364.1h0.6v0.6h-0.6zM329.27 367.4h0.6v0.6h-0.6zM328.69 361.79h0.6v0.6h-0.6zM329.67 366.68h0.6v0.6h-0.6zM330.33 358.75h0.6v0.6h-0.6zM328.44 363.22h0.6v0.6h-0.6zM330.23 358h0.6v0.6h-0.6zM329.73 358.76h0.6v0.6h-0.6zM329.62 359.85h0.6v0.6h-0.6zM331.5 366.79h0.6v0.6h-0.6zM330.17 358.31h0.6v0.6h-0.6zM328.72 364.42h0.6v0.6h-0.6zM329.62 368.54h0.6v0.6h-0.6zM330.67 367.25h0.6v0.6h-0.6zM331.4 356.8h0.6v0.6h-0.6zM329.36 357.34h0.6v0.6h-0.6zM331.09 364.34h0.6v0.6h-0.6zM330.22 367.62h0.6v0.6h-0.6zM329.71 368.33h0.6v0.6h-0.6zM331.01 357.08h0.6v0.6h-0.6zM327.98 365.72h0.6v0.6h-0.6zM328.81 364.98h0.6v0.6h-0.6zM329.41 368.04h0.6v0.6h-0.6zM329.71 367.27h0.6v0.6h-0.6zM330.5 358.37h0.6v0.6h-0.6zM331.68 362.49h0.6v0.6h-0.6zM331.52 360.95h0.6v0.6h-0.6zM329.8 366.99h0.6v0.6h-0.6zM329.02 367.52h0.6v0.6h-0.6zM330.07 357.4h0.6v0.6h-0.6zM332.22 361.71h0.6v0.6h-0.6zM330.91 359.58h0.6v0.6h-0.6zM330.68 366.31h0.6v0.6h-0.6zM330.32 359.01h0.6v0.6h-0.6zM328.63 368.24h0.6v0.6h-0.6zM332.07 363.46h0.6v0.6h-0.6zM328.13 368.17h0.6v0.6h-0.6zM329.66 358.39h0.6v0.6h-0.6zM328.33 368.83h0.6v0.6h-0.6zM328.56 365.1h0.6v0.6h-0.6zM330.44 356.33h0.6v0.6h-0.6zM329.08 366.02h0.6v0.6h-0.6zM330.78 359.24h0.6v0.6h-0.6zM329.47 359.58h0.6v0.6h-0.6zM330.47 356.7h0.6v0.6h-0.6zM331.45 364.3h0.6v0.6h-0.6zM330.01 357.95h0.6v0.6h-0.6zM330.09 359.37h0.6v0.6h-0.6zM328.29 360.4h0.6v0.6h-0.6zM328.09 368.09h0.6v0.6h-0.6zM328.61 366.67h0.6v0.6h-0.6zM331.96 361.17h0.6v0.6h-0.6zM331.84 363.35h0.6v0.6h-0.6zM331.9 362.67h0.6v0.6h-0.6zM329.66 368.31h0.6v0.6h-0.6zM329 365.5h0.6v0.6h-0.6zM330.26 357.8h0.6v0.6h-0.6zM332.03 360.43h0.6v0.6h-0.6zM331.12 357.76h0.6v0.6h-0.6zM331.85 359.61h0.6v0.6h-0.6zM330.35 369.28h0.6v0.6h-0.6zM328.75 360.99h0.6v0.6h-0.6zM328.54 362h0.6v0.6h-0.6zM330.55 358.2h0.6v0.6h-0.6zM330.15 356.22h0.6v0.6h-0.6zM329.67 369.76h0.6v0.6h-0.6zM329.32 367.27h0.6v0.6h-0.6zM329.05 359.93h0.6v0.6h-0.6zM331.14 367.61h0.6v0.6h-0.6zM328.2 367.18h0.6v0.6h-0.6zM331.39 358.95h0.6v0.6h-0.6zM331.18 365.34h0.6v0.6h-0.6zM330.56 356.93h0.6v0.6h-0.6zM331.72 357.73h0.6v0.6h-0.6zM327.88 366.61h0.6v0.6h-0.6zM330.41 368.58h0.6v0.6h-0.6zM328.72 359.69h0.6v0.6h-0.6zM328.47 368.87h0.6v0.6h-0.6zM329.17 358.47h0.6v0.6h-0.6zM331.78 359.57h0.6v0.6h-0.6zM330.77 358.76h0.6v0.6h-0.6zM329.27 367.53h0.6v0.6h-0.6zM331.07 367.58h0.6v0.6h-0.6zM330.08 359.45h0.6v0.6h-0.6zM328.33 368.49h0.6v0.6h-0.6zM331.18 364.17h0.6v0.6h-0.6zM331.02 368.25h0.6v0.6h-0.6zM328.51 360.34h0.6v0.6h-0.6zM332.06 360.53h0.6v0.6h-0.6zM328.95 369.26h0.6v0.6h-0.6zM330.59 356.74h0.6v0.6h-0.6zM331.19 365.43h0.6v0.6h-0.6zM331.54 362.71h0.6v0.6h-0.6zM331.73 361.71h0.6v0.6h-0.6z" fill="#4a80c0"/>
<path d="M330.14 359.92h0.6v0.6h-0.6zM330.11 364.65h0.6v0.6h-0.6zM329.45 361.45h0.6v0.6h-0.6zM329.95 365.63h0.6v0.6h-0.6zM328.94 362.83h0.6v0.6h-0.6zM330.45 359.6h0.6v0.6h-0.6zM329.22 363.04h0.6v0.6h-0.6zM330.71 363.16h0.6v0.6h-0.6zM329.41 362.38h0.6v0.6h-0.6zM330.01 359.8h0.6v0.6h-0.6zM330 359.57h0.6v0.6h-0.6zM330.56 360.48h0.6v0.6h-0.6zM329 364h0.6v0.6h-0.6zM330.41 360.58h0.6v0.6h-0.6zM329.69 365.96h0.6v0.6h-0.6zM329.78 361.33h0.6v0.6h-0.6zM329.04 363.67h0.6v0.6h-0.6zM329.63 364.99h0.6v0.6h-0.6zM329.58 361.67h0.6v0.6h-0.6zM329.48 364.86h0.6v0.6h-0.6zM329.67 361.72h0.6v0.6h-0.6zM329.48 365.34h0.6v0.6h-0.6zM329.69 365.31h0.6v0.6h-0.6zM329.15 361.56h0.6v0.6h-0.6zM330.47 361.73h0.6v0.6h-0.6zM330.75 363.57h0.6v0.6h-0.6zM330.1 364.76h0.6v0.6h-0.6zM329.24 363.92h0.6v0.6h-0.6zM330.91 361.81h0.6v0.6h-0.6zM330.81 363.07h0.6v0.6h-0.6zM329.42 361.95h0.6v0.6h-0.6zM329.49 364.97h0.6v0.6h-0.6z" fill="#60b060"/>
<path d="M329.75 362.63h0.6v0.6h-0.6zM329.89 363.32h0.6v0.6h-0.6zM330.42 363.26h0.6v0.6h-0.6zM330.14 362.28h0.6v0.6h-0.6zM329.67 363.76h0.6v0.6h-0.6zM330.07 364.16h0.6v0.6h-0.6zM330.03 363.94h0.6v0.6h-0.6zM330.31 362.82h0.6v0.6h-0.6zM329.8 363.59h0.6v0.6h-0.6zM330.29 362.5h0.6v0.6h-0.6zM330.13 362.35h0.6v0.6h-0.6zM330.23 363.35h0.6v0.6h-0.6z" fill="#c0c040"/>
<line x1="206" y1="370.5" x2="206" y2="344.5" stroke="#000" stroke-width="1" />
<polygon points="204.1,345 207.9,345 206,341.2" fill="#000" stroke="none" stroke-width="1" />
<text transform="translate(207.6 382) rotate(-90)" font-size="6.8" fill="#111" text-anchor="middle" >FoxP3</text>
<text x="211.3" y="399.2" font-size="7" fill="#111" text-anchor="start" font-weight="normal" >CD4</text>
<line x1="227" y1="397.6" x2="280" y2="397.6" stroke="#000" stroke-width="1" />
<polygon points="279.5,395.7 279.5,399.5 283.6,397.6" fill="#000" stroke="none" stroke-width="1" />
<line x1="245.8" y1="315.3" x2="326.9" y2="315.3" stroke="#000" stroke-width="1.4" />
<text x="288.6" y="312.4" font-size="7.6" fill="#111" text-anchor="middle" font-weight="normal" >B16<tspan font-size="4.56" dy="-2.66">IDO</tspan></text>
<defs><filter id="b1" x="-20%" y="-20%" width="140%" height="140%"><feGaussianBlur stdDeviation="0.45"/></filter><filter id="b2" x="-30%" y="-30%" width="160%" height="160%"><feGaussianBlur stdDeviation="0.7"/></filter></defs>
<path d="M158.98 466.67h0.44v0.44h-0.44zM161.45 468.75h0.44v0.44h-0.44zM152.25 476.49h0.44v0.44h-0.44zM177.21 461.31h0.44v0.44h-0.44zM154.36 474.88h0.44v0.44h-0.44zM158.02 479.9h0.44v0.44h-0.44zM169.79 462.45h0.44v0.44h-0.44zM149.58 481.38h0.44v0.44h-0.44zM156.12 477.46h0.44v0.44h-0.44zM160.19 471.26h0.44v0.44h-0.44zM164.67 464.56h0.44v0.44h-0.44zM169.17 464.14h0.44v0.44h-0.44zM186.9 453.9h0.44v0.44h-0.44zM171.9 464.3h0.44v0.44h-0.44zM163.26 476.24h0.44v0.44h-0.44zM164.28 468.19h0.44v0.44h-0.44zM180.71 455.09h0.44v0.44h-0.44zM159.19 474.2h0.44v0.44h-0.44zM180.56 455.3h0.44v0.44h-0.44zM170.51 461.88h0.44v0.44h-0.44zM149.46 486.73h0.44v0.44h-0.44zM175.7 462.4h0.44v0.44h-0.44zM157.55 481.27h0.44v0.44h-0.44zM153.05 475.76h0.44v0.44h-0.44zM155.95 474.98h0.44v0.44h-0.44zM172.62 466.21h0.44v0.44h-0.44zM155.95 484.49h0.44v0.44h-0.44zM173.91 465.78h0.44v0.44h-0.44zM152.72 479.97h0.44v0.44h-0.44zM176.87 469.71h0.44v0.44h-0.44zM156.59 481.53h0.44v0.44h-0.44zM160.24 473.99h0.44v0.44h-0.44zM151.2 478.29h0.44v0.44h-0.44zM167.26 467.7h0.44v0.44h-0.44zM177.31 455.57h0.44v0.44h-0.44zM178.35 459.43h0.44v0.44h-0.44zM179.88 454.36h0.44v0.44h-0.44zM155.66 469.1h0.44v0.44h-0.44zM161.41 474.46h0.44v0.44h-0.44zM168.24 465.81h0.44v0.44h-0.44zM153.1 480.37h0.44v0.44h-0.44zM172.33 468.23h0.44v0.44h-0.44zM168.65 467.21h0.44v0.44h-0.44zM174.75 462.8h0.44v0.44h-0.44zM170.05 462.8h0.44v0.44h-0.44zM160.49 473.08h0.44v0.44h-0.44zM150.19 484.99h0.44v0.44h-0.44zM153.05 483.05h0.44v0.44h-0.44zM169.98 468.21h0.44v0.44h-0.44zM182.28 456.48h0.44v0.44h-0.44zM170.89 461.76h0.44v0.44h-0.44zM156.8 481.81h0.44v0.44h-0.44zM172.96 462.22h0.44v0.44h-0.44zM166.17 464.76h0.44v0.44h-0.44zM161.23 473.07h0.44v0.44h-0.44zM167.02 459.86h0.44v0.44h-0.44zM172.26 455.92h0.44v0.44h-0.44zM176.92 460.28h0.44v0.44h-0.44zM180.69 454.37h0.44v0.44h-0.44zM177.52 456.71h0.44v0.44h-0.44zM167.46 467.35h0.44v0.44h-0.44zM172.74 467.16h0.44v0.44h-0.44zM184.84 450.65h0.44v0.44h-0.44zM162.11 466.92h0.44v0.44h-0.44zM164.67 468.53h0.44v0.44h-0.44zM177.47 461.8h0.44v0.44h-0.44zM165.89 473.45h0.44v0.44h-0.44zM161.51 463.33h0.44v0.44h-0.44zM160.38 475.03h0.44v0.44h-0.44zM172.17 464.88h0.44v0.44h-0.44zM177.48 453.72h0.44v0.44h-0.44zM176.75 461.23h0.44v0.44h-0.44zM152.08 478.88h0.44v0.44h-0.44zM181.13 454.25h0.44v0.44h-0.44zM168.09 467.26h0.44v0.44h-0.44zM168.52 462.79h0.44v0.44h-0.44zM174.75 461.29h0.44v0.44h-0.44zM153.43 478.05h0.44v0.44h-0.44zM153.72 478.31h0.44v0.44h-0.44zM163.82 473.78h0.44v0.44h-0.44zM180.45 454.87h0.44v0.44h-0.44zM151.54 480.45h0.44v0.44h-0.44zM170.66 460.98h0.44v0.44h-0.44zM176.72 460.04h0.44v0.44h-0.44zM169.39 470.2h0.44v0.44h-0.44zM158.11 476.12h0.44v0.44h-0.44zM166.67 465.87h0.44v0.44h-0.44zM173.28 456.11h0.44v0.44h-0.44zM172.83 466.29h0.44v0.44h-0.44zM158.65 477.24h0.44v0.44h-0.44zM173.75 464.31h0.44v0.44h-0.44zM160.04 468.65h0.44v0.44h-0.44zM169.76 461.6h0.44v0.44h-0.44zM176.27 459.07h0.44v0.44h-0.44zM179.61 454.22h0.44v0.44h-0.44zM160.49 464.32h0.44v0.44h-0.44zM157.2 468.69h0.44v0.44h-0.44zM178.22 458.46h0.44v0.44h-0.44zM172.01 468.68h0.44v0.44h-0.44zM173.58 455.13h0.44v0.44h-0.44zM162.73 470.75h0.44v0.44h-0.44zM176.8 453.33h0.44v0.44h-0.44zM164.57 469.65h0.44v0.44h-0.44zM163.59 473.96h0.44v0.44h-0.44zM167.95 462.92h0.44v0.44h-0.44zM151.25 480.12h0.44v0.44h-0.44zM176.69 462.16h0.44v0.44h-0.44zM176.15 461.34h0.44v0.44h-0.44zM165.71 461.5h0.44v0.44h-0.44zM174.91 461.45h0.44v0.44h-0.44zM181.95 456.59h0.44v0.44h-0.44zM165.8 472.26h0.44v0.44h-0.44zM165.49 463.23h0.44v0.44h-0.44zM166.96 469.22h0.44v0.44h-0.44zM178.49 457.05h0.44v0.44h-0.44zM180.33 457.41h0.44v0.44h-0.44zM169.31 469.73h0.44v0.44h-0.44zM165.61 467.44h0.44v0.44h-0.44zM178.4 454.53h0.44v0.44h-0.44zM172.85 458.14h0.44v0.44h-0.44zM175.07 464.25h0.44v0.44h-0.44zM168.92 468.47h0.44v0.44h-0.44zM157.28 474.74h0.44v0.44h-0.44zM166.12 463.56h0.44v0.44h-0.44zM164.55 470.56h0.44v0.44h-0.44zM170.99 463.94h0.44v0.44h-0.44zM176.63 460.48h0.44v0.44h-0.44zM156.39 473.03h0.44v0.44h-0.44zM160.48 471.02h0.44v0.44h-0.44zM175.62 464.2h0.44v0.44h-0.44zM159.05 478.71h0.44v0.44h-0.44zM162.07 472.1h0.44v0.44h-0.44zM167.88 469h0.44v0.44h-0.44zM168.14 461.32h0.44v0.44h-0.44zM173.33 454.09h0.44v0.44h-0.44zM157.17 469.66h0.44v0.44h-0.44zM177.98 459.27h0.44v0.44h-0.44zM181.38 467.39h0.44v0.44h-0.44zM179.68 458.91h0.44v0.44h-0.44zM173.18 463.1h0.44v0.44h-0.44zM172.58 461.37h0.44v0.44h-0.44zM150.79 481.26h0.44v0.44h-0.44zM151.76 486.12h0.44v0.44h-0.44zM180.43 456.17h0.44v0.44h-0.44zM166.34 464.06h0.44v0.44h-0.44zM172.31 463.94h0.44v0.44h-0.44zM156.6 479.97h0.44v0.44h-0.44zM165.15 466.83h0.44v0.44h-0.44zM157.33 482.71h0.44v0.44h-0.44zM182.73 453.64h0.44v0.44h-0.44zM154.74 479.2h0.44v0.44h-0.44zM173.12 463.77h0.44v0.44h-0.44zM163.3 469.42h0.44v0.44h-0.44zM148.91 475.75h0.44v0.44h-0.44zM151.71 478.42h0.44v0.44h-0.44zM163.5 472.46h0.44v0.44h-0.44zM171.88 468.3h0.44v0.44h-0.44zM174.2 453.45h0.44v0.44h-0.44zM167.24 466.82h0.44v0.44h-0.44zM170.81 467.25h0.44v0.44h-0.44zM161.91 471.97h0.44v0.44h-0.44zM175.94 457.22h0.44v0.44h-0.44zM181.61 453.52h0.44v0.44h-0.44zM174.81 457.27h0.44v0.44h-0.44zM175.27 463.02h0.44v0.44h-0.44zM167.44 469.07h0.44v0.44h-0.44zM169.09 462.48h0.44v0.44h-0.44zM179.04 453.04h0.44v0.44h-0.44zM168.21 461.85h0.44v0.44h-0.44zM166.2 471.09h0.44v0.44h-0.44zM172.98 453.43h0.44v0.44h-0.44zM147.54 477.88h0.44v0.44h-0.44zM157.53 475.41h0.44v0.44h-0.44zM155.41 477.55h0.44v0.44h-0.44zM160.75 472.72h0.44v0.44h-0.44zM169.55 466.93h0.44v0.44h-0.44zM178.78 449.69h0.44v0.44h-0.44zM148.85 476.76h0.44v0.44h-0.44zM152.83 479.93h0.44v0.44h-0.44zM166.58 472.06h0.44v0.44h-0.44zM175.41 467.66h0.44v0.44h-0.44zM160 469.5h0.44v0.44h-0.44zM160.85 476.32h0.44v0.44h-0.44zM167.08 471.27h0.44v0.44h-0.44zM161.42 473.92h0.44v0.44h-0.44zM153.78 485.27h0.44v0.44h-0.44zM165.93 467.89h0.44v0.44h-0.44zM157.84 480.05h0.44v0.44h-0.44zM154.64 478.05h0.44v0.44h-0.44zM167.2 468.23h0.44v0.44h-0.44zM170.59 465.38h0.44v0.44h-0.44zM169.73 468.1h0.44v0.44h-0.44zM172.04 468.06h0.44v0.44h-0.44zM164.83 470.24h0.44v0.44h-0.44zM168.9 469.65h0.44v0.44h-0.44zM169.42 463.99h0.44v0.44h-0.44zM164.69 468.39h0.44v0.44h-0.44zM173.41 467.02h0.44v0.44h-0.44zM173.59 463.01h0.44v0.44h-0.44zM179.35 452.63h0.44v0.44h-0.44zM160.96 476.76h0.44v0.44h-0.44zM164.99 463.71h0.44v0.44h-0.44zM174.83 463.16h0.44v0.44h-0.44zM185.96 451.25h0.44v0.44h-0.44zM153.18 481.84h0.44v0.44h-0.44zM162.74 469.05h0.44v0.44h-0.44zM168.33 467.43h0.44v0.44h-0.44zM168.15 461.65h0.44v0.44h-0.44zM160.17 471.85h0.44v0.44h-0.44zM160.84 466.27h0.44v0.44h-0.44zM155.83 483.9h0.44v0.44h-0.44zM170.17 462.34h0.44v0.44h-0.44zM163.34 475.94h0.44v0.44h-0.44zM157.35 463.75h0.44v0.44h-0.44zM156.31 471.3h0.44v0.44h-0.44zM177.22 457.57h0.44v0.44h-0.44zM153.85 478.37h0.44v0.44h-0.44zM149.9 478.23h0.44v0.44h-0.44zM170.57 468.08h0.44v0.44h-0.44zM153.31 484.46h0.44v0.44h-0.44zM151.23 484.56h0.44v0.44h-0.44zM171.91 464.31h0.44v0.44h-0.44zM161.08 468.96h0.44v0.44h-0.44zM152.9 474.7h0.44v0.44h-0.44zM184.74 453.67h0.44v0.44h-0.44zM164.74 467.16h0.44v0.44h-0.44zM155.26 477.52h0.44v0.44h-0.44zM178.66 459.98h0.44v0.44h-0.44zM159.99 474.2h0.44v0.44h-0.44zM163.54 475.03h0.44v0.44h-0.44zM170.72 458.15h0.44v0.44h-0.44zM169.96 471.08h0.44v0.44h-0.44zM178.08 458h0.44v0.44h-0.44zM163.26 466.43h0.44v0.44h-0.44zM178.19 450.24h0.44v0.44h-0.44zM147.67 478.57h0.44v0.44h-0.44zM156.39 482.21h0.44v0.44h-0.44zM181.95 459.13h0.44v0.44h-0.44zM154.5 473.34h0.44v0.44h-0.44zM158.67 480.48h0.44v0.44h-0.44zM166.93 464.21h0.44v0.44h-0.44zM164.62 471.59h0.44v0.44h-0.44zM161.76 466.99h0.44v0.44h-0.44zM174.96 460.5h0.44v0.44h-0.44zM173.89 453.43h0.44v0.44h-0.44zM178.53 453.64h0.44v0.44h-0.44zM178.63 452.17h0.44v0.44h-0.44zM173.6 458.95h0.44v0.44h-0.44zM166.05 474.41h0.44v0.44h-0.44zM180.59 455.62h0.44v0.44h-0.44zM154.61 477.49h0.44v0.44h-0.44zM183.11 455.85h0.44v0.44h-0.44zM150.98 474.35h0.44v0.44h-0.44zM158.4 478.33h0.44v0.44h-0.44zM169.29 465.18h0.44v0.44h-0.44zM154.21 481.01h0.44v0.44h-0.44zM156.82 471.2h0.44v0.44h-0.44zM158.01 478.11h0.44v0.44h-0.44zM155.63 474.41h0.44v0.44h-0.44zM168.76 463.31h0.44v0.44h-0.44z" fill="#777"/>
<path d="M167.58 482.39h0.44v0.44h-0.44zM160.47 484.65h0.44v0.44h-0.44zM172.9 488h0.44v0.44h-0.44zM193.56 484.01h0.44v0.44h-0.44zM172.61 486.75h0.44v0.44h-0.44zM193.53 485.03h0.44v0.44h-0.44zM150 487.53h0.44v0.44h-0.44zM185.45 482.75h0.44v0.44h-0.44zM160.03 489.35h0.44v0.44h-0.44zM165.29 484.18h0.44v0.44h-0.44zM181.43 486.89h0.44v0.44h-0.44zM177.59 491.45h0.44v0.44h-0.44zM154.24 481.42h0.44v0.44h-0.44zM189.14 488.26h0.44v0.44h-0.44zM185.25 489.1h0.44v0.44h-0.44zM175.47 485.83h0.44v0.44h-0.44zM187.35 492.33h0.44v0.44h-0.44zM170.91 486.3h0.44v0.44h-0.44zM188.37 490.87h0.44v0.44h-0.44zM177.3 492.05h0.44v0.44h-0.44zM165.01 488.18h0.44v0.44h-0.44zM161.11 488.04h0.44v0.44h-0.44zM166.99 485.6h0.44v0.44h-0.44zM162.36 488.99h0.44v0.44h-0.44zM187.45 486.58h0.44v0.44h-0.44zM167.74 484.72h0.44v0.44h-0.44zM175.89 487.12h0.44v0.44h-0.44zM195.18 484.93h0.44v0.44h-0.44zM177.86 490.01h0.44v0.44h-0.44zM174.51 489.77h0.44v0.44h-0.44zM167.86 484.87h0.44v0.44h-0.44zM160.33 484.16h0.44v0.44h-0.44zM188.79 485.03h0.44v0.44h-0.44zM166.79 485.75h0.44v0.44h-0.44zM161.3 489.69h0.44v0.44h-0.44zM183.58 489.94h0.44v0.44h-0.44zM187.04 486.23h0.44v0.44h-0.44zM162.48 488.37h0.44v0.44h-0.44zM174.75 490.18h0.44v0.44h-0.44zM166.62 486.66h0.44v0.44h-0.44zM186.08 484.15h0.44v0.44h-0.44zM165.86 487.3h0.44v0.44h-0.44zM166.95 478.38h0.44v0.44h-0.44zM184.05 483.3h0.44v0.44h-0.44zM151.64 489.56h0.44v0.44h-0.44zM181.97 488.93h0.44v0.44h-0.44zM175.07 481.2h0.44v0.44h-0.44zM180.71 491.58h0.44v0.44h-0.44zM188.52 486.11h0.44v0.44h-0.44zM176.1 490.93h0.44v0.44h-0.44zM190.33 486.49h0.44v0.44h-0.44zM189.97 494.28h0.44v0.44h-0.44zM179.31 488.26h0.44v0.44h-0.44zM158.95 484.71h0.44v0.44h-0.44zM168.38 485.69h0.44v0.44h-0.44zM176.9 493.06h0.44v0.44h-0.44zM160.51 484.73h0.44v0.44h-0.44zM174.22 486.07h0.44v0.44h-0.44zM195.89 486.71h0.44v0.44h-0.44zM181.35 491.16h0.44v0.44h-0.44z" fill="#777"/>
<path d="M151.1,482.9 C151.23,482.17 151.78,481.15 152.7,480.1 C153.62,479.05 155.03,477.77 156.6,476.6 C158.17,475.43 160.27,474.2 162.1,473.1 C163.93,472 165.9,471.17 167.6,470 C169.3,468.83 171.27,467.42 172.3,466.1 C173.33,464.78 172.93,463.57 173.8,462.1 C174.67,460.63 175.72,458.42 177.5,457.3 C179.28,456.18 182.25,455.72 184.5,455.4 C186.75,455.08 189.43,454.92 191,455.4 C192.57,455.88 193.17,457.22 193.9,458.3 C194.63,459.38 194.92,460.45 195.4,461.9 C195.88,463.35 196.55,465.33 196.8,467 C197.05,468.67 197.07,470.3 196.9,471.9 C196.73,473.5 196.38,475.03 195.8,476.6 C195.22,478.17 194.45,479.87 193.4,481.3 C192.35,482.73 191.85,484.42 189.5,485.2 C187.15,485.98 182.95,485.93 179.3,486 C175.65,486.07 171.25,485.73 167.6,485.6 C163.95,485.47 160.02,485.38 157.4,485.2 C154.78,485.02 152.95,484.88 151.9,484.5 C150.85,484.12 150.97,483.63 151.1,482.9 Z" fill="#2f4ec4" filter="url(#b1)"/>
<path d="M160.5,482.9 C161.55,482.02 165.38,479.77 167.6,478.2 C169.82,476.63 171.85,475.07 173.8,473.5 C175.75,471.93 177.73,470.1 179.3,468.8 C180.87,467.5 181.77,466.48 183.2,465.7 C184.63,464.92 186.65,463.85 187.9,464.1 C189.15,464.35 190.1,465.77 190.7,467.2 C191.3,468.63 191.57,470.87 191.5,472.7 C191.43,474.53 191.02,476.63 190.3,478.2 C189.58,479.77 189.03,481.18 187.2,482.1 C185.37,483.02 182.57,483.43 179.3,483.7 C176.03,483.97 170.6,483.73 167.6,483.7 C164.6,483.67 162.48,483.63 161.3,483.5 C160.12,483.37 159.45,483.78 160.5,482.9 Z" fill="#3cb6e6" filter="url(#b2)"/>
<path d="M162.1,482.1 C162.63,481.25 166.32,479.5 168.4,478.2 C170.48,476.9 172.52,475.6 174.6,474.3 C176.68,473 179.07,471.45 180.9,470.4 C182.73,469.35 184.3,468.13 185.6,468 C186.9,467.87 188.05,468.55 188.7,469.6 C189.35,470.65 189.57,472.73 189.5,474.3 C189.43,475.87 189.08,477.77 188.3,479 C187.52,480.23 186.95,481.05 184.8,481.7 C182.65,482.35 178.67,482.63 175.4,482.9 C172.13,483.17 167.42,483.43 165.2,483.3 C162.98,483.17 161.57,482.95 162.1,482.1 Z" fill="#5cc05a" filter="url(#b2)"/>
<path d="M169.1,480.9 C169.48,480.18 172.1,478.65 173.8,477.8 C175.5,476.95 177.73,476.65 179.3,475.8 C180.87,474.95 182.08,473.22 183.2,472.7 C184.32,472.18 185.4,472.18 186,472.7 C186.6,473.22 187,474.62 186.8,475.8 C186.6,476.98 186.05,478.88 184.8,479.8 C183.55,480.72 181.52,480.92 179.3,481.3 C177.08,481.68 173.2,482.17 171.5,482.1 C169.8,482.03 168.72,481.62 169.1,480.9 Z" fill="#f2e23c" filter="url(#b2)"/>
<ellipse cx="164.8" cy="482.7" rx="1.4" ry="0.9" fill="#c8d840" transform="rotate(0 164.8 482.7)" filter="url(#b1)"/>
<ellipse cx="182.1" cy="477.3" rx="2.3" ry="1.9" fill="#f08a28" transform="rotate(-30 182.1 477.3)" filter="url(#b1)"/>
<ellipse cx="173.5" cy="480.1" rx="4" ry="2" fill="#e8261e" transform="rotate(-18 173.5 480.1)" filter="url(#b1)"/>
<ellipse cx="182.3" cy="477.2" rx="1.6" ry="1.3" fill="#e8261e" transform="rotate(-30 182.3 477.2)" filter="url(#b1)"/>
<line x1="210.4" y1="430.5" x2="210.4" y2="505.5" stroke="#666" stroke-width="0.6" />
<line x1="146.6" y1="435" x2="146.6" y2="499.4" stroke="#444" stroke-width="0.5" />
<line x1="146.6" y1="499.4" x2="210.4" y2="499.4" stroke="#444" stroke-width="0.5" />
<line x1="145.3" y1="440.7" x2="146.6" y2="440.7" stroke="#444" stroke-width="0.5" />
<text x="144.7" y="441.7" font-size="3" fill="#222" text-anchor="end" font-weight="normal"  stroke="#222" stroke-width="0.12">10<tspan font-size="2.1" dy="-1.1">4</tspan></text>
<line x1="145.3" y1="455.4" x2="146.6" y2="455.4" stroke="#444" stroke-width="0.5" />
<text x="144.7" y="456.4" font-size="3" fill="#222" text-anchor="end" font-weight="normal"  stroke="#222" stroke-width="0.12">10<tspan font-size="2.1" dy="-1.1">3</tspan></text>
<line x1="145.3" y1="472.4" x2="146.6" y2="472.4" stroke="#444" stroke-width="0.5" />
<text x="144.7" y="473.4" font-size="3" fill="#222" text-anchor="end" font-weight="normal"  stroke="#222" stroke-width="0.12">10<tspan font-size="2.1" dy="-1.1">2</tspan></text>
<line x1="145.3" y1="483.2" x2="146.6" y2="483.2" stroke="#444" stroke-width="0.5" />
<text x="144.7" y="484.2" font-size="3" fill="#222" text-anchor="end" font-weight="normal"  stroke="#222" stroke-width="0.12">0</text>
<line x1="145.3" y1="493.8" x2="146.6" y2="493.8" stroke="#444" stroke-width="0.5" />
<text x="144.7" y="494.8" font-size="3" fill="#222" text-anchor="end" font-weight="normal"  stroke="#222" stroke-width="0.12">-10<tspan font-size="2.1" dy="-1.1">2</tspan></text>
<line x1="145.8" y1="444" x2="146.6" y2="444" stroke="#777" stroke-width="0.3" />
<line x1="145.8" y1="446.5" x2="146.6" y2="446.5" stroke="#777" stroke-width="0.3" />
<line x1="145.8" y1="448.5" x2="146.6" y2="448.5" stroke="#777" stroke-width="0.3" />
<line x1="145.8" y1="450" x2="146.6" y2="450" stroke="#777" stroke-width="0.3" />
<line x1="145.8" y1="451.5" x2="146.6" y2="451.5" stroke="#777" stroke-width="0.3" />
<line x1="145.8" y1="459" x2="146.6" y2="459" stroke="#777" stroke-width="0.3" />
<line x1="145.8" y1="462" x2="146.6" y2="462" stroke="#777" stroke-width="0.3" />
<line x1="145.8" y1="464.5" x2="146.6" y2="464.5" stroke="#777" stroke-width="0.3" />
<line x1="145.8" y1="466.5" x2="146.6" y2="466.5" stroke="#777" stroke-width="0.3" />
<line x1="145.8" y1="468" x2="146.6" y2="468" stroke="#777" stroke-width="0.3" />
<line x1="145.8" y1="476" x2="146.6" y2="476" stroke="#777" stroke-width="0.3" />
<line x1="145.8" y1="479" x2="146.6" y2="479" stroke="#777" stroke-width="0.3" />
<line x1="145.8" y1="487" x2="146.6" y2="487" stroke="#777" stroke-width="0.3" />
<line x1="145.8" y1="490" x2="146.6" y2="490" stroke="#777" stroke-width="0.3" />
<text x="149" y="503.6" font-size="3" fill="#222" text-anchor="middle" font-weight="normal"  stroke="#222" stroke-width="0.12">-10<tspan font-size="2.1" dy="-1.1">2</tspan></text>
<line x1="149" y1="499.4" x2="149" y2="500.6" stroke="#444" stroke-width="0.4" />
<text x="162.5" y="503.6" font-size="3" fill="#222" text-anchor="middle" font-weight="normal"  stroke="#222" stroke-width="0.12">0</text>
<line x1="162.5" y1="499.4" x2="162.5" y2="500.6" stroke="#444" stroke-width="0.4" />
<text x="170.8" y="503.6" font-size="3" fill="#222" text-anchor="middle" font-weight="normal"  stroke="#222" stroke-width="0.12">10<tspan font-size="2.1" dy="-1.1">2</tspan></text>
<line x1="170.8" y1="499.4" x2="170.8" y2="500.6" stroke="#444" stroke-width="0.4" />
<text x="187.4" y="503.6" font-size="3" fill="#222" text-anchor="middle" font-weight="normal"  stroke="#222" stroke-width="0.12">10<tspan font-size="2.1" dy="-1.1">3</tspan></text>
<line x1="187.4" y1="499.4" x2="187.4" y2="500.6" stroke="#444" stroke-width="0.4" />
<text x="204" y="503.6" font-size="3" fill="#222" text-anchor="middle" font-weight="normal"  stroke="#222" stroke-width="0.12">10<tspan font-size="2.1" dy="-1.1">4</tspan></text>
<line x1="204" y1="499.4" x2="204" y2="500.6" stroke="#444" stroke-width="0.4" />
<line x1="150.6" y1="499.4" x2="150.6" y2="500.2" stroke="#666" stroke-width="0.3" />
<line x1="151.9" y1="499.4" x2="151.9" y2="500.2" stroke="#666" stroke-width="0.3" />
<line x1="153.2" y1="499.4" x2="153.2" y2="500.2" stroke="#666" stroke-width="0.3" />
<line x1="154.5" y1="499.4" x2="154.5" y2="500.2" stroke="#666" stroke-width="0.3" />
<line x1="155.8" y1="499.4" x2="155.8" y2="500.2" stroke="#666" stroke-width="0.3" />
<line x1="157.1" y1="499.4" x2="157.1" y2="500.2" stroke="#666" stroke-width="0.3" />
<line x1="158.4" y1="499.4" x2="158.4" y2="500.2" stroke="#666" stroke-width="0.3" />
<line x1="159.7" y1="499.4" x2="159.7" y2="500.2" stroke="#666" stroke-width="0.3" />
<line x1="161" y1="499.4" x2="161" y2="500.2" stroke="#666" stroke-width="0.3" />
<line x1="162.3" y1="499.4" x2="162.3" y2="500.2" stroke="#666" stroke-width="0.3" />
<text x="179.2" y="433" font-size="6.5" fill="#111" text-anchor="middle" font-weight="normal" >Vehicle</text>
<polygon points="176.2,462.3 180.9,453.6 186.7,447.8 193.2,444.5 201.5,445.2 206.2,451.4 206.6,457.6 205.9,463.4 201.9,469.2 197.5,471 185.2,471.3 180.5,469.9" fill="none" stroke="#1a1a1a" stroke-width="0.5" />
<text x="168.5" y="445.4" font-size="2.7" fill="#444" text-anchor="middle" font-weight="normal" stroke="none">Ki67<tspan font-size="1.9" dy="-0.9">+</tspan><tspan dy="0.9"> + PD-1 - hi</tspan></text>
<text x="167.6" y="448.9" font-size="2.7" fill="#444" text-anchor="middle" font-weight="normal" stroke="none">17.2</text>
<rect x="146.2" y="482.2" width="1.2" height="2.4" fill="#000" stroke="none" stroke-width="1" />
<rect x="159.5" y="499" width="3.5" height="1.2" fill="#222" stroke="none" stroke-width="1" />
<path d="M241.18 474.35h0.44v0.44h-0.44zM247 466.87h0.44v0.44h-0.44zM246.19 469.68h0.44v0.44h-0.44zM243.28 477.88h0.44v0.44h-0.44zM246.77 471h0.44v0.44h-0.44zM247.4 467.46h0.44v0.44h-0.44zM253.21 463.12h0.44v0.44h-0.44zM245.37 473.77h0.44v0.44h-0.44zM247.55 472.2h0.44v0.44h-0.44zM236.94 475.22h0.44v0.44h-0.44zM251.53 468.08h0.44v0.44h-0.44zM239.74 478.29h0.44v0.44h-0.44zM240.72 473.62h0.44v0.44h-0.44zM249.07 460.43h0.44v0.44h-0.44zM249.13 470.65h0.44v0.44h-0.44zM250.33 463.47h0.44v0.44h-0.44zM248.65 466.66h0.44v0.44h-0.44zM239.95 472.74h0.44v0.44h-0.44zM244.31 476.72h0.44v0.44h-0.44zM253.31 456.21h0.44v0.44h-0.44zM249.12 468.24h0.44v0.44h-0.44zM236.61 483.71h0.44v0.44h-0.44zM243.88 471.07h0.44v0.44h-0.44zM247.09 465.24h0.44v0.44h-0.44zM238.53 476.78h0.44v0.44h-0.44zM240.32 476.88h0.44v0.44h-0.44zM250.13 463.87h0.44v0.44h-0.44zM252.28 468.09h0.44v0.44h-0.44zM247.01 468h0.44v0.44h-0.44zM253.52 465.98h0.44v0.44h-0.44zM256.82 459.23h0.44v0.44h-0.44zM239.46 476.54h0.44v0.44h-0.44zM254.63 457.67h0.44v0.44h-0.44zM240.51 473.59h0.44v0.44h-0.44zM235.51 480.59h0.44v0.44h-0.44zM251.01 466.99h0.44v0.44h-0.44zM244.46 473.76h0.44v0.44h-0.44zM255.59 458.66h0.44v0.44h-0.44zM250.48 464.92h0.44v0.44h-0.44zM243.16 471.5h0.44v0.44h-0.44zM236.5 476.41h0.44v0.44h-0.44zM254.42 461.46h0.44v0.44h-0.44zM247.54 471.2h0.44v0.44h-0.44zM252.68 459.58h0.44v0.44h-0.44zM251.62 464.28h0.44v0.44h-0.44zM235.19 483.73h0.44v0.44h-0.44zM249.88 467.15h0.44v0.44h-0.44zM236.07 472.25h0.44v0.44h-0.44zM238.73 468.03h0.44v0.44h-0.44zM246.86 470.94h0.44v0.44h-0.44zM253.27 457.6h0.44v0.44h-0.44zM253.99 471.9h0.44v0.44h-0.44zM239.98 471.3h0.44v0.44h-0.44zM232.32 480.33h0.44v0.44h-0.44zM239.14 475.44h0.44v0.44h-0.44zM239.63 473.47h0.44v0.44h-0.44zM237.83 475.41h0.44v0.44h-0.44zM254.31 460.51h0.44v0.44h-0.44zM243.63 468.31h0.44v0.44h-0.44zM252.74 459.77h0.44v0.44h-0.44zM244.28 466.71h0.44v0.44h-0.44zM248.79 462.77h0.44v0.44h-0.44zM246.86 466.35h0.44v0.44h-0.44zM246.51 469.39h0.44v0.44h-0.44zM252.74 467.28h0.44v0.44h-0.44zM234.25 479.13h0.44v0.44h-0.44zM251.58 461.07h0.44v0.44h-0.44zM244.87 474.92h0.44v0.44h-0.44zM247.89 471.48h0.44v0.44h-0.44zM244.7 462.27h0.44v0.44h-0.44zM237.43 478.99h0.44v0.44h-0.44zM241.84 471.98h0.44v0.44h-0.44zM239.35 475.24h0.44v0.44h-0.44zM250.91 458.64h0.44v0.44h-0.44zM251.32 465h0.44v0.44h-0.44zM242.33 475.96h0.44v0.44h-0.44zM245.27 467.07h0.44v0.44h-0.44zM250.63 471.41h0.44v0.44h-0.44zM236.9 480.6h0.44v0.44h-0.44zM251.11 460.82h0.44v0.44h-0.44zM232.31 483.09h0.44v0.44h-0.44zM238.73 477.42h0.44v0.44h-0.44zM244.8 461.42h0.44v0.44h-0.44zM232.2 480.85h0.44v0.44h-0.44zM234.22 488.73h0.44v0.44h-0.44zM234.54 481.14h0.44v0.44h-0.44zM243.37 472.78h0.44v0.44h-0.44zM256.26 452.91h0.44v0.44h-0.44zM238.22 481.31h0.44v0.44h-0.44zM232.7 478.73h0.44v0.44h-0.44zM237.56 481.61h0.44v0.44h-0.44zM249.61 468.53h0.44v0.44h-0.44zM250.17 467.81h0.44v0.44h-0.44zM251.27 462.41h0.44v0.44h-0.44zM250.86 461.59h0.44v0.44h-0.44zM249.06 465.71h0.44v0.44h-0.44zM237 479.28h0.44v0.44h-0.44zM246.54 471.11h0.44v0.44h-0.44zM235.74 478.19h0.44v0.44h-0.44zM247.2 471.62h0.44v0.44h-0.44zM253.56 464.45h0.44v0.44h-0.44zM233.78 478.35h0.44v0.44h-0.44zM240.95 476.37h0.44v0.44h-0.44zM234.42 480.96h0.44v0.44h-0.44zM249.16 468.13h0.44v0.44h-0.44zM238.79 477.99h0.44v0.44h-0.44zM249.67 456.98h0.44v0.44h-0.44zM232.35 485.32h0.44v0.44h-0.44zM236.62 479.01h0.44v0.44h-0.44zM249.86 463.6h0.44v0.44h-0.44zM242.12 474.07h0.44v0.44h-0.44zM235.92 478.77h0.44v0.44h-0.44zM237.29 477.03h0.44v0.44h-0.44zM235.58 477.21h0.44v0.44h-0.44zM248.95 463.3h0.44v0.44h-0.44zM236.93 482.84h0.44v0.44h-0.44zM238.38 477.06h0.44v0.44h-0.44zM237.57 480.19h0.44v0.44h-0.44zM238.52 477.79h0.44v0.44h-0.44zM243.17 464.9h0.44v0.44h-0.44zM254.29 463.16h0.44v0.44h-0.44zM254.98 464.81h0.44v0.44h-0.44zM253.36 464.54h0.44v0.44h-0.44zM237.64 476.11h0.44v0.44h-0.44zM242.12 473.01h0.44v0.44h-0.44zM240.38 476.72h0.44v0.44h-0.44zM240.87 478.73h0.44v0.44h-0.44zM245.85 475.22h0.44v0.44h-0.44zM240.5 478.62h0.44v0.44h-0.44zM244.72 475.88h0.44v0.44h-0.44zM245.32 463.84h0.44v0.44h-0.44zM231.61 484.35h0.44v0.44h-0.44zM233.73 482.03h0.44v0.44h-0.44zM241.89 468.76h0.44v0.44h-0.44zM240.48 475.56h0.44v0.44h-0.44zM243.59 471.72h0.44v0.44h-0.44zM238.2 474.67h0.44v0.44h-0.44zM238.95 466h0.44v0.44h-0.44zM235.83 470.41h0.44v0.44h-0.44zM248.22 460.52h0.44v0.44h-0.44zM240.65 474.03h0.44v0.44h-0.44zM253.94 460.11h0.44v0.44h-0.44zM255.29 460.67h0.44v0.44h-0.44zM243.78 473.15h0.44v0.44h-0.44zM256.47 460.27h0.44v0.44h-0.44zM237.45 475.17h0.44v0.44h-0.44zM230.52 482.11h0.44v0.44h-0.44zM234.74 477.2h0.44v0.44h-0.44zM243.24 466.41h0.44v0.44h-0.44zM254.41 461.66h0.44v0.44h-0.44zM242.68 472.52h0.44v0.44h-0.44zM248.13 460.51h0.44v0.44h-0.44zM255.86 457.22h0.44v0.44h-0.44zM243.95 467.7h0.44v0.44h-0.44zM240.54 478.95h0.44v0.44h-0.44zM245.44 472.07h0.44v0.44h-0.44zM241.84 478.33h0.44v0.44h-0.44zM236.8 480.32h0.44v0.44h-0.44zM234.99 478.94h0.44v0.44h-0.44zM243.8 468.08h0.44v0.44h-0.44zM240.24 474.12h0.44v0.44h-0.44zM234.15 485.47h0.44v0.44h-0.44zM248.1 466.27h0.44v0.44h-0.44zM238.3 473.92h0.44v0.44h-0.44zM240.97 468.51h0.44v0.44h-0.44zM249.58 460.91h0.44v0.44h-0.44zM245.75 461.11h0.44v0.44h-0.44zM253.21 465.17h0.44v0.44h-0.44zM248.59 468.3h0.44v0.44h-0.44zM228 478.76h0.44v0.44h-0.44z" fill="#777"/>
<path d="M271.64 490.64h0.44v0.44h-0.44zM248.48 484.63h0.44v0.44h-0.44zM268.55 486.93h0.44v0.44h-0.44zM260.81 487.64h0.44v0.44h-0.44zM244.75 476.9h0.44v0.44h-0.44zM239.79 487.65h0.44v0.44h-0.44zM251.95 487.33h0.44v0.44h-0.44zM248.06 481.19h0.44v0.44h-0.44zM242.84 489.79h0.44v0.44h-0.44zM264.59 486.62h0.44v0.44h-0.44zM255.12 485.37h0.44v0.44h-0.44zM241.56 488.36h0.44v0.44h-0.44zM267.71 490.7h0.44v0.44h-0.44zM239.86 487.56h0.44v0.44h-0.44zM257.5 490.52h0.44v0.44h-0.44zM245.74 490.63h0.44v0.44h-0.44zM248.39 488.04h0.44v0.44h-0.44zM239.94 485.28h0.44v0.44h-0.44zM239.9 490.35h0.44v0.44h-0.44zM271.45 493.14h0.44v0.44h-0.44zM248.41 489.97h0.44v0.44h-0.44zM252.54 488.43h0.44v0.44h-0.44zM256.83 485.2h0.44v0.44h-0.44zM273.43 479.27h0.44v0.44h-0.44zM253.17 482.55h0.44v0.44h-0.44zM243.54 487.33h0.44v0.44h-0.44zM242.23 488.36h0.44v0.44h-0.44zM260.47 490.58h0.44v0.44h-0.44zM237.99 494.84h0.44v0.44h-0.44zM231.7 486.01h0.44v0.44h-0.44zM262.7 483.78h0.44v0.44h-0.44zM265.39 482.17h0.44v0.44h-0.44zM274.66 491.64h0.44v0.44h-0.44zM249.13 484.67h0.44v0.44h-0.44zM270.3 487.62h0.44v0.44h-0.44zM241.82 488.98h0.44v0.44h-0.44zM259.26 484.17h0.44v0.44h-0.44zM256.41 489.06h0.44v0.44h-0.44zM266.27 488.28h0.44v0.44h-0.44zM247.29 484.8h0.44v0.44h-0.44z" fill="#777"/>
<path d="M234.9,483.1 C235.32,482.03 236.58,480.5 237.9,479.1 C239.22,477.7 241.17,476 242.8,474.7 C244.43,473.4 246.48,472.52 247.7,471.3 C248.92,470.08 249.62,468.62 250.1,467.4 C250.58,466.18 250.12,465.22 250.6,464 C251.08,462.78 251.87,461.08 253,460.1 C254.13,459.12 255.52,458.77 257.4,458.1 C259.28,457.43 262.02,456.67 264.3,456.1 C266.58,455.53 269.3,454.7 271.1,454.7 C272.9,454.7 274.28,454.97 275.1,456.1 C275.92,457.23 276,459.62 276,461.5 C276,463.38 275.58,465.77 275.1,467.4 C274.62,469.03 273.68,470.32 273.1,471.3 C272.52,472.28 271.93,472 271.6,473.3 C271.27,474.6 271.42,477.32 271.1,479.1 C270.78,480.88 270.83,482.85 269.7,484 C268.57,485.15 267.32,485.58 264.3,486 C261.28,486.42 255.68,486.42 251.6,486.5 C247.52,486.58 242.5,486.67 239.8,486.5 C237.1,486.33 236.22,486.07 235.4,485.5 C234.58,484.93 234.48,484.17 234.9,483.1 Z" fill="#2f4ec4" filter="url(#b1)"/>
<path d="M237.9,484 C238.38,482.7 242.58,479.4 244.7,477.7 C246.82,476 248.15,474.7 250.6,473.8 C253.05,472.9 256.47,472.38 259.4,472.3 C262.33,472.22 266.33,472.32 268.2,473.3 C270.07,474.28 270.6,476.57 270.6,478.2 C270.6,479.83 270.55,481.97 268.2,483.1 C265.85,484.23 260.9,484.6 256.5,485 C252.1,485.4 244.9,485.67 241.8,485.5 C238.7,485.33 237.42,485.3 237.9,484 Z" fill="#3cb6e6" filter="url(#b2)"/>
<path d="M240.8,483.1 C241.3,482.12 244.75,479.92 246.7,478.6 C248.65,477.28 250.22,475.93 252.5,475.2 C254.78,474.47 258.12,474.12 260.4,474.2 C262.68,474.28 264.98,474.88 266.2,475.7 C267.42,476.52 267.85,478.03 267.7,479.1 C267.55,480.17 267.33,481.37 265.3,482.1 C263.27,482.83 259.1,483.1 255.5,483.5 C251.9,483.9 246.15,484.57 243.7,484.5 C241.25,484.43 240.3,484.08 240.8,483.1 Z" fill="#5cc05a" filter="url(#b2)"/>
<ellipse cx="268" cy="463" rx="8" ry="6.6" fill="#3cb6e6" transform="rotate(0 268 463)" filter="url(#b2)"/>
<ellipse cx="268" cy="462.9" rx="6" ry="5.3" fill="#5cc05a" transform="rotate(0 268 462.9)" filter="url(#b2)"/>
<ellipse cx="268.1" cy="462.7" rx="4.6" ry="4.1" fill="#f2e23c" transform="rotate(0 268.1 462.7)" filter="url(#b2)"/>
<ellipse cx="268.2" cy="462.4" rx="3.5" ry="3" fill="#e8261e" transform="rotate(-10 268.2 462.4)" filter="url(#b1)"/>
<ellipse cx="250.6" cy="480.1" rx="2.2" ry="1.5" fill="#f2e23c" transform="rotate(-15 250.6 480.1)" filter="url(#b1)"/>
<ellipse cx="256.5" cy="477.8" rx="1.6" ry="1.4" fill="#f2e23c" transform="rotate(0 256.5 477.8)" filter="url(#b1)"/>
<ellipse cx="258.6" cy="479.1" rx="1.1" ry="0.9" fill="#f2e23c" transform="rotate(0 258.6 479.1)" filter="url(#b1)"/>
<ellipse cx="251.4" cy="479.8" rx="1.2" ry="0.9" fill="#f08a28" transform="rotate(0 251.4 479.8)" filter="url(#b1)"/>
<ellipse cx="242.8" cy="483.4" rx="3.9" ry="2.1" fill="#f2e23c" transform="rotate(0 242.8 483.4)" filter="url(#b1)"/>
<ellipse cx="242.8" cy="483.5" rx="2.6" ry="1.4" fill="#e8261e" transform="rotate(0 242.8 483.5)" filter="url(#b1)"/>
<rect x="222.9" y="435" width="63.7" height="64.4" fill="none" stroke="#9a9a9a" stroke-width="0.5" />
<line x1="222.9" y1="435" x2="222.9" y2="499.4" stroke="#444" stroke-width="0.5" />
<line x1="222.9" y1="499.4" x2="286.6" y2="499.4" stroke="#444" stroke-width="0.5" />
<line x1="221.6" y1="440.7" x2="222.9" y2="440.7" stroke="#444" stroke-width="0.5" />
<text x="221" y="441.7" font-size="3" fill="#222" text-anchor="end" font-weight="normal"  stroke="#222" stroke-width="0.12">10<tspan font-size="2.1" dy="-1.1">4</tspan></text>
<line x1="221.6" y1="455.4" x2="222.9" y2="455.4" stroke="#444" stroke-width="0.5" />
<text x="221" y="456.4" font-size="3" fill="#222" text-anchor="end" font-weight="normal"  stroke="#222" stroke-width="0.12">10<tspan font-size="2.1" dy="-1.1">3</tspan></text>
<line x1="221.6" y1="472.4" x2="222.9" y2="472.4" stroke="#444" stroke-width="0.5" />
<text x="221" y="473.4" font-size="3" fill="#222" text-anchor="end" font-weight="normal"  stroke="#222" stroke-width="0.12">10<tspan font-size="2.1" dy="-1.1">2</tspan></text>
<line x1="221.6" y1="483.2" x2="222.9" y2="483.2" stroke="#444" stroke-width="0.5" />
<text x="221" y="484.2" font-size="3" fill="#222" text-anchor="end" font-weight="normal"  stroke="#222" stroke-width="0.12">0</text>
<line x1="221.6" y1="493.8" x2="222.9" y2="493.8" stroke="#444" stroke-width="0.5" />
<text x="221" y="494.8" font-size="3" fill="#222" text-anchor="end" font-weight="normal"  stroke="#222" stroke-width="0.12">-10<tspan font-size="2.1" dy="-1.1">2</tspan></text>
<line x1="222.1" y1="444" x2="222.9" y2="444" stroke="#777" stroke-width="0.3" />
<line x1="222.1" y1="446.5" x2="222.9" y2="446.5" stroke="#777" stroke-width="0.3" />
<line x1="222.1" y1="448.5" x2="222.9" y2="448.5" stroke="#777" stroke-width="0.3" />
<line x1="222.1" y1="450" x2="222.9" y2="450" stroke="#777" stroke-width="0.3" />
<line x1="222.1" y1="451.5" x2="222.9" y2="451.5" stroke="#777" stroke-width="0.3" />
<line x1="222.1" y1="459" x2="222.9" y2="459" stroke="#777" stroke-width="0.3" />
<line x1="222.1" y1="462" x2="222.9" y2="462" stroke="#777" stroke-width="0.3" />
<line x1="222.1" y1="464.5" x2="222.9" y2="464.5" stroke="#777" stroke-width="0.3" />
<line x1="222.1" y1="466.5" x2="222.9" y2="466.5" stroke="#777" stroke-width="0.3" />
<line x1="222.1" y1="468" x2="222.9" y2="468" stroke="#777" stroke-width="0.3" />
<line x1="222.1" y1="476" x2="222.9" y2="476" stroke="#777" stroke-width="0.3" />
<line x1="222.1" y1="479" x2="222.9" y2="479" stroke="#777" stroke-width="0.3" />
<line x1="222.1" y1="487" x2="222.9" y2="487" stroke="#777" stroke-width="0.3" />
<line x1="222.1" y1="490" x2="222.9" y2="490" stroke="#777" stroke-width="0.3" />
<text x="225.6" y="503.6" font-size="3" fill="#222" text-anchor="middle" font-weight="normal"  stroke="#222" stroke-width="0.12">-10<tspan font-size="2.1" dy="-1.1">2</tspan></text>
<line x1="225.6" y1="499.4" x2="225.6" y2="500.6" stroke="#444" stroke-width="0.4" />
<text x="238" y="503.6" font-size="3" fill="#222" text-anchor="middle" font-weight="normal"  stroke="#222" stroke-width="0.12">0</text>
<line x1="238" y1="499.4" x2="238" y2="500.6" stroke="#444" stroke-width="0.4" />
<text x="247.3" y="503.6" font-size="3" fill="#222" text-anchor="middle" font-weight="normal"  stroke="#222" stroke-width="0.12">10<tspan font-size="2.1" dy="-1.1">2</tspan></text>
<line x1="247.3" y1="499.4" x2="247.3" y2="500.6" stroke="#444" stroke-width="0.4" />
<text x="265" y="503.6" font-size="3" fill="#222" text-anchor="middle" font-weight="normal"  stroke="#222" stroke-width="0.12">10<tspan font-size="2.1" dy="-1.1">3</tspan></text>
<line x1="265" y1="499.4" x2="265" y2="500.6" stroke="#444" stroke-width="0.4" />
<text x="280.5" y="503.6" font-size="3" fill="#222" text-anchor="middle" font-weight="normal"  stroke="#222" stroke-width="0.12">10<tspan font-size="2.1" dy="-1.1">4</tspan></text>
<line x1="280.5" y1="499.4" x2="280.5" y2="500.6" stroke="#444" stroke-width="0.4" />
<line x1="226.9" y1="499.4" x2="226.9" y2="500.2" stroke="#666" stroke-width="0.3" />
<line x1="228.2" y1="499.4" x2="228.2" y2="500.2" stroke="#666" stroke-width="0.3" />
<line x1="229.5" y1="499.4" x2="229.5" y2="500.2" stroke="#666" stroke-width="0.3" />
<line x1="230.8" y1="499.4" x2="230.8" y2="500.2" stroke="#666" stroke-width="0.3" />
<line x1="232.1" y1="499.4" x2="232.1" y2="500.2" stroke="#666" stroke-width="0.3" />
<line x1="233.4" y1="499.4" x2="233.4" y2="500.2" stroke="#666" stroke-width="0.3" />
<line x1="234.7" y1="499.4" x2="234.7" y2="500.2" stroke="#666" stroke-width="0.3" />
<line x1="236" y1="499.4" x2="236" y2="500.2" stroke="#666" stroke-width="0.3" />
<line x1="237.3" y1="499.4" x2="237.3" y2="500.2" stroke="#666" stroke-width="0.3" />
<line x1="238.6" y1="499.4" x2="238.6" y2="500.2" stroke="#666" stroke-width="0.3" />
<text x="255.6" y="433" font-size="6.5" fill="#111" text-anchor="middle" font-weight="normal" >AHRi</text>
<polygon points="253.5,464.5 258.4,453.2 264.3,447.3 270.2,445.4 278,446.4 282.4,451.7 282.9,458.6 281.4,465.4 277,471.3 271.1,472.3 258.4,471.8 255.5,468.4" fill="none" stroke="#1a1a1a" stroke-width="0.5" />
<text x="245.2" y="445.4" font-size="2.7" fill="#444" text-anchor="middle" font-weight="normal" stroke="none">Ki67<tspan font-size="1.9" dy="-0.9">+</tspan><tspan dy="0.9"> + PD-1 - hi</tspan></text>
<text x="243.7" y="448.9" font-size="2.7" fill="#444" text-anchor="middle" font-weight="normal" stroke="none">37.3</text>
<rect x="222.5" y="482.2" width="1.2" height="2.4" fill="#000" stroke="none" stroke-width="1" />
<rect x="236" y="499" width="3.5" height="1.2" fill="#222" stroke="none" stroke-width="1" />
<line x1="133" y1="479.7" x2="133" y2="455" stroke="#000" stroke-width="1.1" />
<polygon points="131,455.5 135,455.5 133,451.5" fill="#000" stroke="none" stroke-width="1" />
<text transform="translate(135.6 491.5) rotate(-90)" font-size="6.8" fill="#111" text-anchor="middle" >PD-1</text>
<text x="140.6" y="510.6" font-size="6.8" fill="#111" text-anchor="start" font-weight="normal" >Ki67</text>
<line x1="155.7" y1="508" x2="208.5" y2="508" stroke="#000" stroke-width="1.1" />
<polygon points="208,506 208,510 212.3,508" fill="#000" stroke="none" stroke-width="1" />
<line x1="174.4" y1="424.7" x2="256.7" y2="424.7" stroke="#000" stroke-width="1.4" />
<text x="221" y="421.8" font-size="7.6" fill="#111" text-anchor="middle" font-weight="normal" >B16<tspan font-size="4.56" dy="-2.66">IDO</tspan></text>
<text x="391.2" y="14.3" font-size="5" fill="#2a2a2a" text-anchor="middle" font-weight="normal" >Tumor</text>
<text x="391.2" y="20.2" font-size="5" fill="#2a2a2a" text-anchor="middle" font-weight="normal" >implant</text>
<text x="418.6" y="14.3" font-size="5" fill="#2a2a2a" text-anchor="middle" font-weight="normal" >Treatment</text>
<text x="418.6" y="20.2" font-size="5" fill="#2a2a2a" text-anchor="middle" font-weight="normal" >start</text>
<text x="472.2" y="14.3" font-size="5" fill="#2a2a2a" text-anchor="middle" font-weight="normal" >Treatment</text>
<text x="472.2" y="20.2" font-size="5" fill="#2a2a2a" text-anchor="middle" font-weight="normal" >stop</text>
<line x1="391.5" y1="23.4" x2="391.5" y2="29.9" stroke="#2e61a0" stroke-width="1.3" />
<polygon points="389.2,29.4 393.8,29.4 391.5,33.6" fill="#2e61a0" stroke="none" stroke-width="1" />
<line x1="418.8" y1="23.4" x2="418.8" y2="29.9" stroke="#2e61a0" stroke-width="1.3" />
<polygon points="416.5,29.4 421.1,29.4 418.8,33.6" fill="#2e61a0" stroke="none" stroke-width="1" />
<line x1="471.4" y1="23.4" x2="471.4" y2="29.9" stroke="#2e61a0" stroke-width="1.3" />
<polygon points="469.1,29.4 473.7,29.4 471.4,33.6" fill="#2e61a0" stroke="none" stroke-width="1" />
<line x1="391.2" y1="36.5" x2="404.4" y2="36.5" stroke="#111" stroke-width="0.9" />
<line x1="404.4" y1="36.5" x2="471.9" y2="36.5" stroke="#e8463a" stroke-width="0.9" />
<line x1="471.9" y1="36.5" x2="487" y2="36.5" stroke="#444" stroke-width="0.9" />
<polygon points="486.4,34.7 486.4,38.3 490.4,36.5" fill="#111" stroke="none" stroke-width="1" />
<circle cx="391.3" cy="36.5" r="1.9" fill="#000" stroke="none" stroke-width="0.5"/>
<line x1="405" y1="42.3" x2="405" y2="44.6" stroke="#e8463a" stroke-width="1.2" />
<polygon points="403,42.6 407,42.6 405,39.6" fill="#e8463a" stroke="none" stroke-width="1" />
<line x1="415.7" y1="42.3" x2="415.7" y2="44.6" stroke="#e8463a" stroke-width="1.2" />
<polygon points="413.7,42.6 417.7,42.6 415.7,39.6" fill="#e8463a" stroke="none" stroke-width="1" />
<line x1="426.8" y1="42.3" x2="426.8" y2="44.6" stroke="#e8463a" stroke-width="1.2" />
<polygon points="424.8,42.6 428.8,42.6 426.8,39.6" fill="#e8463a" stroke="none" stroke-width="1" />
<line x1="438" y1="42.3" x2="438" y2="44.6" stroke="#e8463a" stroke-width="1.2" />
<polygon points="436,42.6 440,42.6 438,39.6" fill="#e8463a" stroke="none" stroke-width="1" />
<line x1="449.9" y1="42.3" x2="449.9" y2="44.6" stroke="#e8463a" stroke-width="1.2" />
<polygon points="447.9,42.6 451.9,42.6 449.9,39.6" fill="#e8463a" stroke="none" stroke-width="1" />
<line x1="461.6" y1="42.3" x2="461.6" y2="44.6" stroke="#e8463a" stroke-width="1.2" />
<polygon points="459.6,42.6 463.6,42.6 461.6,39.6" fill="#e8463a" stroke="none" stroke-width="1" />
<line x1="425.3" y1="23.7" x2="466.6" y2="23.7" stroke="#6b93c8" stroke-width="0.9" />
<text x="447.6" y="21.6" font-size="4.3" fill="#2a2a2a" text-anchor="middle" font-weight="normal"  stroke="#2a2a2a" stroke-width="0.12">Vehicle, PO, QD</text>
<text x="447.9" y="28.6" font-size="3.7" fill="#555" text-anchor="middle" font-weight="normal"  stroke="#555" stroke-width="0.12">CH-223191 50 mg/kg</text>
<text x="440" y="52" font-size="5.75" fill="#e8463a" text-anchor="middle" font-weight="normal" >Anti PD-1 (RMP1-14)</text>
<text x="440" y="58.1" font-size="5.75" fill="#e8463a" text-anchor="middle" font-weight="normal" >250 µg/mouse</text>
<line x1="357.4" y1="75.1" x2="357.4" y2="142.8" stroke="#111" stroke-width="0.8" />
<line x1="357.4" y1="142.8" x2="420.2" y2="142.8" stroke="#111" stroke-width="0.8" />
<line x1="355.1" y1="142.8" x2="357.4" y2="142.8" stroke="#111" stroke-width="0.6" />
<text x="353.1" y="144.6" font-size="5.1" fill="#222" text-anchor="end" font-weight="normal" >0</text>
<line x1="355.1" y1="129.26" x2="357.4" y2="129.26" stroke="#111" stroke-width="0.6" />
<text x="353.1" y="131.06" font-size="5.1" fill="#222" text-anchor="end" font-weight="normal" >5</text>
<line x1="355.1" y1="115.72" x2="357.4" y2="115.72" stroke="#111" stroke-width="0.6" />
<text x="353.1" y="117.52" font-size="5.1" fill="#222" text-anchor="end" font-weight="normal" >10</text>
<line x1="355.1" y1="102.18" x2="357.4" y2="102.18" stroke="#111" stroke-width="0.6" />
<text x="353.1" y="103.98" font-size="5.1" fill="#222" text-anchor="end" font-weight="normal" >15</text>
<line x1="355.1" y1="88.64" x2="357.4" y2="88.64" stroke="#111" stroke-width="0.6" />
<text x="353.1" y="90.44" font-size="5.1" fill="#222" text-anchor="end" font-weight="normal" >20</text>
<line x1="355.1" y1="75.1" x2="357.4" y2="75.1" stroke="#111" stroke-width="0.6" />
<text x="353.1" y="76.9" font-size="5.1" fill="#222" text-anchor="end" font-weight="normal" >25</text>
<line x1="357.4" y1="142.8" x2="357.4" y2="144.4" stroke="#111" stroke-width="0.6" />
<text x="357.4" y="152" font-size="5.1" fill="#222" text-anchor="middle" font-weight="normal" >0</text>
<line x1="373.1" y1="142.8" x2="373.1" y2="144.4" stroke="#111" stroke-width="0.6" />
<text x="373.1" y="152" font-size="5.1" fill="#222" text-anchor="middle" font-weight="normal" >5</text>
<line x1="388.8" y1="142.8" x2="388.8" y2="144.4" stroke="#111" stroke-width="0.6" />
<text x="388.8" y="152" font-size="5.1" fill="#222" text-anchor="middle" font-weight="normal" >10</text>
<line x1="404.5" y1="142.8" x2="404.5" y2="144.4" stroke="#111" stroke-width="0.6" />
<text x="404.5" y="152" font-size="5.1" fill="#222" text-anchor="middle" font-weight="normal" >15</text>
<line x1="420.2" y1="142.8" x2="420.2" y2="144.4" stroke="#111" stroke-width="0.6" />
<text x="420.2" y="152" font-size="5.1" fill="#222" text-anchor="middle" font-weight="normal" >20</text>
<text x="389.3" y="159.3" font-size="5.4" fill="#222" text-anchor="middle" font-weight="normal" >Days</text>
<text x="388.6" y="71.9" font-size="7.4" fill="#111" text-anchor="middle" font-weight="normal" >B16<tspan font-size="4.44" dy="-2.59">TDO</tspan></text>
<polyline points="357.4,142.8 379.38,134.68 391.94,135.49 401.36,138.74 413.92,138.74" stroke="#000" stroke-width="0.9" fill="none" />
<polyline points="357.4,142.8 379.38,131.97 391.94,127.91 401.36,128.99 413.92,117.07" stroke="#000" stroke-width="0.9" fill="none" />
<polyline points="357.4,142.8 379.38,129.26 391.94,126.55 401.36,121.14 413.92,121.14" stroke="#000" stroke-width="0.9" fill="none" />
<polyline points="357.4,142.8 379.38,129.26 391.94,125.2 401.36,121.14 413.92,91.35" stroke="#000" stroke-width="0.9" fill="none" />
<line x1="379.38" y1="133.32" x2="379.38" y2="136.03" stroke="#222" stroke-width="0.5" />
<line x1="378.08" y1="133.32" x2="380.68" y2="133.32" stroke="#222" stroke-width="0.5" />
<line x1="378.08" y1="136.03" x2="380.68" y2="136.03" stroke="#222" stroke-width="0.5" />
<line x1="391.94" y1="134.13" x2="391.94" y2="136.84" stroke="#222" stroke-width="0.5" />
<line x1="390.64" y1="134.13" x2="393.24" y2="134.13" stroke="#222" stroke-width="0.5" />
<line x1="390.64" y1="136.84" x2="393.24" y2="136.84" stroke="#222" stroke-width="0.5" />
<line x1="401.36" y1="137.65" x2="401.36" y2="139.82" stroke="#222" stroke-width="0.5" />
<line x1="400.06" y1="137.65" x2="402.66" y2="137.65" stroke="#222" stroke-width="0.5" />
<line x1="400.06" y1="139.82" x2="402.66" y2="139.82" stroke="#222" stroke-width="0.5" />
<line x1="413.92" y1="137.93" x2="413.92" y2="139.55" stroke="#222" stroke-width="0.5" />
<line x1="412.62" y1="137.93" x2="415.22" y2="137.93" stroke="#222" stroke-width="0.5" />
<line x1="412.62" y1="139.55" x2="415.22" y2="139.55" stroke="#222" stroke-width="0.5" />
<line x1="379.38" y1="130.34" x2="379.38" y2="133.59" stroke="#222" stroke-width="0.5" />
<line x1="378.08" y1="130.34" x2="380.68" y2="130.34" stroke="#222" stroke-width="0.5" />
<line x1="378.08" y1="133.59" x2="380.68" y2="133.59" stroke="#222" stroke-width="0.5" />
<line x1="391.94" y1="125.74" x2="391.94" y2="130.07" stroke="#222" stroke-width="0.5" />
<line x1="390.64" y1="125.74" x2="393.24" y2="125.74" stroke="#222" stroke-width="0.5" />
<line x1="390.64" y1="130.07" x2="393.24" y2="130.07" stroke="#222" stroke-width="0.5" />
<line x1="401.36" y1="127.36" x2="401.36" y2="130.61" stroke="#222" stroke-width="0.5" />
<line x1="400.06" y1="127.36" x2="402.66" y2="127.36" stroke="#222" stroke-width="0.5" />
<line x1="400.06" y1="130.61" x2="402.66" y2="130.61" stroke="#222" stroke-width="0.5" />
<line x1="413.92" y1="111.66" x2="413.92" y2="122.49" stroke="#222" stroke-width="0.5" />
<line x1="412.62" y1="111.66" x2="415.22" y2="111.66" stroke="#222" stroke-width="0.5" />
<line x1="412.62" y1="122.49" x2="415.22" y2="122.49" stroke="#222" stroke-width="0.5" />
<line x1="379.38" y1="127.64" x2="379.38" y2="130.88" stroke="#222" stroke-width="0.5" />
<line x1="378.08" y1="127.64" x2="380.68" y2="127.64" stroke="#222" stroke-width="0.5" />
<line x1="378.08" y1="130.88" x2="380.68" y2="130.88" stroke="#222" stroke-width="0.5" />
<line x1="391.94" y1="123.84" x2="391.94" y2="129.26" stroke="#222" stroke-width="0.5" />
<line x1="390.64" y1="123.84" x2="393.24" y2="123.84" stroke="#222" stroke-width="0.5" />
<line x1="390.64" y1="129.26" x2="393.24" y2="129.26" stroke="#222" stroke-width="0.5" />
<line x1="401.36" y1="117.07" x2="401.36" y2="125.2" stroke="#222" stroke-width="0.5" />
<line x1="400.06" y1="117.07" x2="402.66" y2="117.07" stroke="#222" stroke-width="0.5" />
<line x1="400.06" y1="125.2" x2="402.66" y2="125.2" stroke="#222" stroke-width="0.5" />
<line x1="413.92" y1="117.07" x2="413.92" y2="125.2" stroke="#222" stroke-width="0.5" />
<line x1="412.62" y1="117.07" x2="415.22" y2="117.07" stroke="#222" stroke-width="0.5" />
<line x1="412.62" y1="125.2" x2="415.22" y2="125.2" stroke="#222" stroke-width="0.5" />
<line x1="379.38" y1="127.64" x2="379.38" y2="130.88" stroke="#222" stroke-width="0.5" />
<line x1="378.08" y1="127.64" x2="380.68" y2="127.64" stroke="#222" stroke-width="0.5" />
<line x1="378.08" y1="130.88" x2="380.68" y2="130.88" stroke="#222" stroke-width="0.5" />
<line x1="391.94" y1="123.03" x2="391.94" y2="127.36" stroke="#222" stroke-width="0.5" />
<line x1="390.64" y1="123.03" x2="393.24" y2="123.03" stroke="#222" stroke-width="0.5" />
<line x1="390.64" y1="127.36" x2="393.24" y2="127.36" stroke="#222" stroke-width="0.5" />
<line x1="401.36" y1="117.89" x2="401.36" y2="124.39" stroke="#222" stroke-width="0.5" />
<line x1="400.06" y1="117.89" x2="402.66" y2="117.89" stroke="#222" stroke-width="0.5" />
<line x1="400.06" y1="124.39" x2="402.66" y2="124.39" stroke="#222" stroke-width="0.5" />
<line x1="413.92" y1="81.6" x2="413.92" y2="101.1" stroke="#222" stroke-width="0.5" />
<line x1="412.62" y1="81.6" x2="415.22" y2="81.6" stroke="#222" stroke-width="0.5" />
<line x1="412.62" y1="101.1" x2="415.22" y2="101.1" stroke="#222" stroke-width="0.5" />
<rect x="355.85" y="141.25" width="3.1" height="3.1" fill="#c8c8c8" stroke="#000" stroke-width="0.55" />
<rect x="377.83" y="133.13" width="3.1" height="3.1" fill="#c8c8c8" stroke="#000" stroke-width="0.55" />
<rect x="390.39" y="133.94" width="3.1" height="3.1" fill="#c8c8c8" stroke="#000" stroke-width="0.55" />
<rect x="399.81" y="137.19" width="3.1" height="3.1" fill="#c8c8c8" stroke="#000" stroke-width="0.55" />
<rect x="412.37" y="137.19" width="3.1" height="3.1" fill="#c8c8c8" stroke="#000" stroke-width="0.55" />
<circle cx="357.4" cy="142.8" r="1.55" fill="none" stroke="#000" stroke-width="0.55"/>
<circle cx="379.38" cy="131.97" r="1.55" fill="none" stroke="#000" stroke-width="0.55"/>
<circle cx="391.94" cy="127.91" r="1.55" fill="none" stroke="#000" stroke-width="0.55"/>
<circle cx="401.36" cy="128.99" r="1.55" fill="none" stroke="#000" stroke-width="0.55"/>
<circle cx="413.92" cy="117.07" r="1.55" fill="none" stroke="#000" stroke-width="0.55"/>
<rect x="355.85" y="141.25" width="3.1" height="3.1" fill="#000" stroke="none" stroke-width="1" />
<rect x="377.83" y="127.71" width="3.1" height="3.1" fill="#000" stroke="none" stroke-width="1" />
<rect x="390.39" y="125" width="3.1" height="3.1" fill="#000" stroke="none" stroke-width="1" />
<rect x="399.81" y="119.59" width="3.1" height="3.1" fill="#000" stroke="none" stroke-width="1" />
<rect x="412.37" y="119.59" width="3.1" height="3.1" fill="#000" stroke="none" stroke-width="1" />
<circle cx="357.4" cy="142.8" r="1.55" fill="#000" stroke="#000" stroke-width="0.4"/>
<circle cx="379.38" cy="129.26" r="1.55" fill="#000" stroke="#000" stroke-width="0.4"/>
<circle cx="391.94" cy="125.2" r="1.55" fill="#000" stroke="#000" stroke-width="0.4"/>
<circle cx="401.36" cy="121.14" r="1.55" fill="#000" stroke="#000" stroke-width="0.4"/>
<circle cx="413.92" cy="91.35" r="1.55" fill="#000" stroke="#000" stroke-width="0.4"/>
<text transform="translate(342.6 108.4) rotate(-90)" font-size="5.6" fill="#222" text-anchor="middle" >Tumor size (mm<tspan font-size="3.3" dy="-1.9">3</tspan><tspan dy="1.9">)</tspan></text>
<polyline points="419,121.6 420.8,121.6 420.8,139.2 419,139.2" stroke="#333" stroke-width="0.5" fill="none" />
<text x="422.7" y="134.4" font-size="6" fill="#222" text-anchor="middle" font-weight="normal" >*</text>
<line x1="450.9" y1="75.6" x2="450.9" y2="142.8" stroke="#111" stroke-width="0.8" />
<line x1="450.9" y1="142.8" x2="512" y2="142.8" stroke="#111" stroke-width="0.8" />
<line x1="448.6" y1="142.8" x2="450.9" y2="142.8" stroke="#111" stroke-width="0.6" />
<text x="446.6" y="144.6" font-size="5.1" fill="#222" text-anchor="end" font-weight="normal" >0</text>
<line x1="448.6" y1="129.36" x2="450.9" y2="129.36" stroke="#111" stroke-width="0.6" />
<text x="446.6" y="131.16" font-size="5.1" fill="#222" text-anchor="end" font-weight="normal" >10</text>
<line x1="448.6" y1="115.92" x2="450.9" y2="115.92" stroke="#111" stroke-width="0.6" />
<text x="446.6" y="117.72" font-size="5.1" fill="#222" text-anchor="end" font-weight="normal" >20</text>
<line x1="448.6" y1="102.48" x2="450.9" y2="102.48" stroke="#111" stroke-width="0.6" />
<text x="446.6" y="104.28" font-size="5.1" fill="#222" text-anchor="end" font-weight="normal" >30</text>
<line x1="448.6" y1="89.04" x2="450.9" y2="89.04" stroke="#111" stroke-width="0.6" />
<text x="446.6" y="90.84" font-size="5.1" fill="#222" text-anchor="end" font-weight="normal" >40</text>
<line x1="448.6" y1="75.6" x2="450.9" y2="75.6" stroke="#111" stroke-width="0.6" />
<text x="446.6" y="77.4" font-size="5.1" fill="#222" text-anchor="end" font-weight="normal" >50</text>
<line x1="450.9" y1="142.8" x2="450.9" y2="144.4" stroke="#111" stroke-width="0.6" />
<text x="450.9" y="152" font-size="5.1" fill="#222" text-anchor="middle" font-weight="normal" >0</text>
<line x1="466.17" y1="142.8" x2="466.17" y2="144.4" stroke="#111" stroke-width="0.6" />
<text x="466.17" y="152" font-size="5.1" fill="#222" text-anchor="middle" font-weight="normal" >5</text>
<line x1="481.45" y1="142.8" x2="481.45" y2="144.4" stroke="#111" stroke-width="0.6" />
<text x="481.45" y="152" font-size="5.1" fill="#222" text-anchor="middle" font-weight="normal" >10</text>
<line x1="496.72" y1="142.8" x2="496.72" y2="144.4" stroke="#111" stroke-width="0.6" />
<text x="496.72" y="152" font-size="5.1" fill="#222" text-anchor="middle" font-weight="normal" >15</text>
<line x1="512" y1="142.8" x2="512" y2="144.4" stroke="#111" stroke-width="0.6" />
<text x="512" y="152" font-size="5.1" fill="#222" text-anchor="middle" font-weight="normal" >20</text>
<text x="481.95" y="159.3" font-size="5.4" fill="#222" text-anchor="middle" font-weight="normal" >Days</text>
<text x="481.8" y="72.4" font-size="7.4" fill="#111" text-anchor="middle" font-weight="normal" >B16<tspan font-size="4.44" dy="-2.59">IDO</tspan></text>
<polyline points="450.9,142.8 469.23,140.78 487.56,139.44 496.72,138.1" stroke="#000" stroke-width="0.9" fill="none" />
<polyline points="450.9,142.8 469.23,138.77 487.56,132.05 496.72,121.3" stroke="#000" stroke-width="0.9" fill="none" />
<polyline points="450.9,142.8 469.23,138.1 487.56,132.05 496.72,127.34" stroke="#000" stroke-width="0.9" fill="none" />
<polyline points="450.9,142.8 469.23,137.42 487.56,117.26 496.72,99.12" stroke="#000" stroke-width="0.9" fill="none" />
<line x1="469.23" y1="140.38" x2="469.23" y2="141.19" stroke="#222" stroke-width="0.5" />
<line x1="467.93" y1="140.38" x2="470.53" y2="140.38" stroke="#222" stroke-width="0.5" />
<line x1="467.93" y1="141.19" x2="470.53" y2="141.19" stroke="#222" stroke-width="0.5" />
<line x1="487.56" y1="138.9" x2="487.56" y2="139.98" stroke="#222" stroke-width="0.5" />
<line x1="486.26" y1="138.9" x2="488.86" y2="138.9" stroke="#222" stroke-width="0.5" />
<line x1="486.26" y1="139.98" x2="488.86" y2="139.98" stroke="#222" stroke-width="0.5" />
<line x1="496.72" y1="137.42" x2="496.72" y2="138.77" stroke="#222" stroke-width="0.5" />
<line x1="495.42" y1="137.42" x2="498.02" y2="137.42" stroke="#222" stroke-width="0.5" />
<line x1="495.42" y1="138.77" x2="498.02" y2="138.77" stroke="#222" stroke-width="0.5" />
<line x1="469.23" y1="138.1" x2="469.23" y2="139.44" stroke="#222" stroke-width="0.5" />
<line x1="467.93" y1="138.1" x2="470.53" y2="138.1" stroke="#222" stroke-width="0.5" />
<line x1="467.93" y1="139.44" x2="470.53" y2="139.44" stroke="#222" stroke-width="0.5" />
<line x1="487.56" y1="130.7" x2="487.56" y2="133.39" stroke="#222" stroke-width="0.5" />
<line x1="486.26" y1="130.7" x2="488.86" y2="130.7" stroke="#222" stroke-width="0.5" />
<line x1="486.26" y1="133.39" x2="488.86" y2="133.39" stroke="#222" stroke-width="0.5" />
<line x1="496.72" y1="117.26" x2="496.72" y2="125.33" stroke="#222" stroke-width="0.5" />
<line x1="495.42" y1="117.26" x2="498.02" y2="117.26" stroke="#222" stroke-width="0.5" />
<line x1="495.42" y1="125.33" x2="498.02" y2="125.33" stroke="#222" stroke-width="0.5" />
<line x1="469.23" y1="137.42" x2="469.23" y2="138.77" stroke="#222" stroke-width="0.5" />
<line x1="467.93" y1="137.42" x2="470.53" y2="137.42" stroke="#222" stroke-width="0.5" />
<line x1="467.93" y1="138.77" x2="470.53" y2="138.77" stroke="#222" stroke-width="0.5" />
<line x1="487.56" y1="130.7" x2="487.56" y2="133.39" stroke="#222" stroke-width="0.5" />
<line x1="486.26" y1="130.7" x2="488.86" y2="130.7" stroke="#222" stroke-width="0.5" />
<line x1="486.26" y1="133.39" x2="488.86" y2="133.39" stroke="#222" stroke-width="0.5" />
<line x1="496.72" y1="124.66" x2="496.72" y2="130.03" stroke="#222" stroke-width="0.5" />
<line x1="495.42" y1="124.66" x2="498.02" y2="124.66" stroke="#222" stroke-width="0.5" />
<line x1="495.42" y1="130.03" x2="498.02" y2="130.03" stroke="#222" stroke-width="0.5" />
<line x1="469.23" y1="136.75" x2="469.23" y2="138.1" stroke="#222" stroke-width="0.5" />
<line x1="467.93" y1="136.75" x2="470.53" y2="136.75" stroke="#222" stroke-width="0.5" />
<line x1="467.93" y1="138.1" x2="470.53" y2="138.1" stroke="#222" stroke-width="0.5" />
<line x1="487.56" y1="113.23" x2="487.56" y2="121.3" stroke="#222" stroke-width="0.5" />
<line x1="486.26" y1="113.23" x2="488.86" y2="113.23" stroke="#222" stroke-width="0.5" />
<line x1="486.26" y1="121.3" x2="488.86" y2="121.3" stroke="#222" stroke-width="0.5" />
<line x1="496.72" y1="93.74" x2="496.72" y2="104.5" stroke="#222" stroke-width="0.5" />
<line x1="495.42" y1="93.74" x2="498.02" y2="93.74" stroke="#222" stroke-width="0.5" />
<line x1="495.42" y1="104.5" x2="498.02" y2="104.5" stroke="#222" stroke-width="0.5" />
<rect x="449.35" y="141.25" width="3.1" height="3.1" fill="#c8c8c8" stroke="#000" stroke-width="0.55" />
<rect x="467.68" y="139.23" width="3.1" height="3.1" fill="#c8c8c8" stroke="#000" stroke-width="0.55" />
<rect x="486.01" y="137.89" width="3.1" height="3.1" fill="#c8c8c8" stroke="#000" stroke-width="0.55" />
<rect x="495.17" y="136.55" width="3.1" height="3.1" fill="#c8c8c8" stroke="#000" stroke-width="0.55" />
<circle cx="450.9" cy="142.8" r="1.55" fill="none" stroke="#000" stroke-width="0.55"/>
<circle cx="469.23" cy="138.77" r="1.55" fill="none" stroke="#000" stroke-width="0.55"/>
<circle cx="487.56" cy="132.05" r="1.55" fill="none" stroke="#000" stroke-width="0.55"/>
<circle cx="496.72" cy="121.3" r="1.55" fill="none" stroke="#000" stroke-width="0.55"/>
<rect x="449.35" y="141.25" width="3.1" height="3.1" fill="#000" stroke="none" stroke-width="1" />
<rect x="467.68" y="136.55" width="3.1" height="3.1" fill="#000" stroke="none" stroke-width="1" />
<rect x="486.01" y="130.5" width="3.1" height="3.1" fill="#000" stroke="none" stroke-width="1" />
<rect x="495.17" y="125.79" width="3.1" height="3.1" fill="#000" stroke="none" stroke-width="1" />
<circle cx="450.9" cy="142.8" r="1.55" fill="#000" stroke="#000" stroke-width="0.4"/>
<circle cx="469.23" cy="137.42" r="1.55" fill="#000" stroke="#000" stroke-width="0.4"/>
<circle cx="487.56" cy="117.26" r="1.55" fill="#000" stroke="#000" stroke-width="0.4"/>
<circle cx="496.72" cy="99.12" r="1.55" fill="#000" stroke="#000" stroke-width="0.4"/>
<text transform="translate(435.6 108.4) rotate(-90)" font-size="5.6" fill="#222" text-anchor="middle" >Tumor size (mm<tspan font-size="3.3" dy="-1.9">3</tspan><tspan dy="1.9">)</tspan></text>
<polyline points="502.3,126.5 504,126.5 504,138.3 502.3,138.3" stroke="#333" stroke-width="0.5" fill="none" />
<text x="506.4" y="135" font-size="6" fill="#222" text-anchor="middle" font-weight="normal" >*</text>
<line x1="524.8" y1="76.1" x2="533.1" y2="76.1" stroke="#000" stroke-width="0.8" />
<circle cx="528.8" cy="76.1" r="1.45" fill="#000" stroke="#000" stroke-width="0.4"/>
<text x="535.8" y="77.7" font-size="4.55" fill="#111" text-anchor="start" font-weight="normal"  stroke="#111" stroke-width="0.11">Isotype</text>
<line x1="524.8" y1="85.8" x2="533.1" y2="85.8" stroke="#777" stroke-width="0.8" />
<rect x="526.6" y="84.5" width="4.4" height="2.6" fill="#000" stroke="none" stroke-width="1" />
<text x="535.8" y="87.4" font-size="4.55" fill="#111" text-anchor="start" font-weight="normal"  stroke="#111" stroke-width="0.11">aPD-1</text>
<line x1="524.8" y1="95.3" x2="533.1" y2="95.3" stroke="#000" stroke-width="0.8" />
<circle cx="528.8" cy="95.3" r="1.45" fill="none" stroke="#000" stroke-width="0.55"/>
<text x="535.8" y="96.9" font-size="4.55" fill="#111" text-anchor="start" font-weight="normal"  stroke="#111" stroke-width="0.11">AHRi (CH-223191)</text>
<line x1="524.8" y1="104.8" x2="533.1" y2="104.8" stroke="#777" stroke-width="0.8" />
<rect x="526.6" y="103.2" width="4.4" height="3.2" fill="#bbb" stroke="#000" stroke-width="0.5" />
<text x="535.8" y="106.4" font-size="4.55" fill="#111" text-anchor="start" font-weight="normal"  stroke="#111" stroke-width="0.11">aPD-1 + AHRi</text>
<line x1="358.3" y1="168" x2="358.3" y2="230.6" stroke="#111" stroke-width="0.8" />
<line x1="358.3" y1="230.6" x2="423.3" y2="230.6" stroke="#111" stroke-width="0.8" />
<line x1="356.1" y1="230.6" x2="358.3" y2="230.6" stroke="#111" stroke-width="0.6" />
<text x="354.3" y="232.2" font-size="4.6" fill="#222" text-anchor="end" font-weight="normal"  stroke="#222" stroke-width="0.11">0</text>
<line x1="356.1" y1="201.75" x2="358.3" y2="201.75" stroke="#111" stroke-width="0.6" />
<text x="354.3" y="203.35" font-size="4.6" fill="#222" text-anchor="end" font-weight="normal"  stroke="#222" stroke-width="0.11">50</text>
<line x1="356.1" y1="172.9" x2="358.3" y2="172.9" stroke="#111" stroke-width="0.6" />
<text x="354.3" y="174.5" font-size="4.6" fill="#222" text-anchor="end" font-weight="normal"  stroke="#222" stroke-width="0.11">100</text>
<line x1="358.3" y1="230.6" x2="358.3" y2="232.1" stroke="#111" stroke-width="0.5" />
<text x="358.3" y="238.3" font-size="4.6" fill="#333" text-anchor="middle" font-weight="normal"  stroke="#333" stroke-width="0.11">0</text>
<line x1="379.96" y1="230.6" x2="379.96" y2="232.1" stroke="#111" stroke-width="0.5" />
<text x="379.96" y="238.3" font-size="4.6" fill="#333" text-anchor="middle" font-weight="normal"  stroke="#333" stroke-width="0.11">20</text>
<line x1="401.62" y1="230.6" x2="401.62" y2="232.1" stroke="#111" stroke-width="0.5" />
<text x="401.62" y="238.3" font-size="4.6" fill="#333" text-anchor="middle" font-weight="normal"  stroke="#333" stroke-width="0.11">40</text>
<line x1="423.28" y1="230.6" x2="423.28" y2="232.1" stroke="#111" stroke-width="0.5" />
<text x="423.28" y="238.3" font-size="4.6" fill="#333" text-anchor="middle" font-weight="normal"  stroke="#333" stroke-width="0.11">60</text>
<polyline points="358.5,172.5 412.5,172.5" stroke="#b066c8" stroke-width="1" fill="none" stroke-linejoin="miter"/>
<polyline points="358.5,172.5 400.5,172.5 400.5,187.5 412.5,187.5" stroke="#4cb04a" stroke-width="1" fill="none" stroke-linejoin="miter"/>
<polyline points="358.5,172.5 396.5,172.5 396.5,179.5 400.5,179.5 400.5,217.5 403.5,217.5 403.5,230.5" stroke="#4b97d8" stroke-width="1" fill="none" stroke-linejoin="miter"/>
<polyline points="358.5,172.5 388.5,172.5 388.5,180.5 389.5,180.5 389.5,189.5 395.5,189.5 395.5,197.5 400.5,197.5 400.5,230.5" stroke="#ec4a43" stroke-width="1" fill="none" stroke-linejoin="miter"/>
<line x1="404.3" y1="174" x2="404.3" y2="185.6" stroke="#888" stroke-width="0.9" />
<line x1="402.8" y1="174" x2="405.8" y2="174" stroke="#888" stroke-width="0.7" />
<line x1="402.8" y1="185.6" x2="405.8" y2="185.6" stroke="#888" stroke-width="0.7" />
<text x="407" y="182" font-size="4.8" fill="#333" text-anchor="start" font-weight="normal"  stroke="#333" stroke-width="0.11"><tspan font-style="italic">P</tspan> = 0.16</text>
<text x="391" y="247" font-size="5.4" fill="#333" text-anchor="middle" font-weight="normal" >Days</text>
<text transform="translate(343.6 199.5) rotate(-90)" font-size="5.7" fill="#222" text-anchor="middle" >Overall survival (%)</text>
<line x1="450.4" y1="166.2" x2="450.4" y2="230.3" stroke="#111" stroke-width="0.8" />
<line x1="450.4" y1="230.3" x2="515.8" y2="230.3" stroke="#111" stroke-width="0.8" />
<line x1="448.2" y1="230.3" x2="450.4" y2="230.3" stroke="#111" stroke-width="0.6" />
<text x="446.4" y="231.9" font-size="4.6" fill="#222" text-anchor="end" font-weight="normal"  stroke="#222" stroke-width="0.11">0</text>
<line x1="448.2" y1="201.05" x2="450.4" y2="201.05" stroke="#111" stroke-width="0.6" />
<text x="446.4" y="202.65" font-size="4.6" fill="#222" text-anchor="end" font-weight="normal"  stroke="#222" stroke-width="0.11">50</text>
<line x1="448.2" y1="171.8" x2="450.4" y2="171.8" stroke="#111" stroke-width="0.6" />
<text x="446.4" y="173.4" font-size="4.6" fill="#222" text-anchor="end" font-weight="normal"  stroke="#222" stroke-width="0.11">100</text>
<line x1="450.4" y1="230.3" x2="450.4" y2="231.8" stroke="#111" stroke-width="0.5" />
<text x="450.4" y="238" font-size="4.6" fill="#333" text-anchor="middle" font-weight="normal"  stroke="#333" stroke-width="0.11">0</text>
<line x1="466.75" y1="230.3" x2="466.75" y2="231.8" stroke="#111" stroke-width="0.5" />
<text x="466.75" y="238" font-size="4.6" fill="#333" text-anchor="middle" font-weight="normal"  stroke="#333" stroke-width="0.11">20</text>
<line x1="483.1" y1="230.3" x2="483.1" y2="231.8" stroke="#111" stroke-width="0.5" />
<text x="483.1" y="238" font-size="4.6" fill="#333" text-anchor="middle" font-weight="normal"  stroke="#333" stroke-width="0.11">40</text>
<line x1="499.45" y1="230.3" x2="499.45" y2="231.8" stroke="#111" stroke-width="0.5" />
<text x="499.45" y="238" font-size="4.6" fill="#333" text-anchor="middle" font-weight="normal"  stroke="#333" stroke-width="0.11">60</text>
<line x1="515.8" y1="230.3" x2="515.8" y2="231.8" stroke="#111" stroke-width="0.5" />
<text x="515.8" y="238" font-size="4.6" fill="#333" text-anchor="middle" font-weight="normal"  stroke="#333" stroke-width="0.11">80</text>
<polyline points="450.5,171.5 481.5,171.5 481.5,178.5 484.5,178.5 484.5,184.5 488.5,184.5 488.5,189.5 490.5,189.5 490.5,195.5 510.5,195.5" stroke="#b066c8" stroke-width="1" fill="none" stroke-linejoin="miter"/>
<polyline points="450.5,171.5 472.5,171.5 472.5,178.5 474.5,178.5 474.5,184.5 475.5,184.5 475.5,190.5 478.5,190.5 478.5,197.5 488.5,197.5 488.5,205.5 491.5,205.5 491.5,218.5 510.5,218.5" stroke="#4b97d8" stroke-width="1" fill="none" stroke-linejoin="miter"/>
<polyline points="450.5,171.5 469.5,171.5 469.5,182.5 472.5,182.5 472.5,188.5 475.5,188.5 475.5,230.5" stroke="#4cb04a" stroke-width="1" fill="none" stroke-linejoin="miter"/>
<polyline points="450.5,171.5 467.5,171.5 467.5,189.5 468.5,189.5 468.5,213.5 469.5,213.5 469.5,222.5 469.5,222.5 469.5,230.5" stroke="#ec4a43" stroke-width="1" fill="none" stroke-linejoin="miter"/>
<line x1="497" y1="198" x2="497" y2="215.3" stroke="#888" stroke-width="0.9" />
<line x1="495.5" y1="198" x2="498.5" y2="198" stroke="#888" stroke-width="0.7" />
<line x1="495.5" y1="215.3" x2="498.5" y2="215.3" stroke="#888" stroke-width="0.7" />
<text x="499.2" y="208.8" font-size="4.8" fill="#333" text-anchor="start" font-weight="normal"  stroke="#333" stroke-width="0.11"><tspan font-style="italic">P</tspan> = 0.06</text>
<text x="482" y="247" font-size="5.4" fill="#333" text-anchor="middle" font-weight="normal" >Days</text>
<text transform="translate(434.4 199.5) rotate(-90)" font-size="5.7" fill="#222" text-anchor="middle" >Overall survival (%)</text>
<line x1="521.9" y1="172.3" x2="529.8" y2="172.3" stroke="#ec4a43" stroke-width="0.8" />
<line x1="525.9" y1="171.4" x2="525.9" y2="173.2" stroke="#ec4a43" stroke-width="0.5" />
<text x="533.3" y="173.9" font-size="4.55" fill="#111" text-anchor="start" font-weight="normal"  stroke="#111" stroke-width="0.11">Isotype</text>
<line x1="521.9" y1="180.3" x2="529.8" y2="180.3" stroke="#4b97d8" stroke-width="0.8" />
<line x1="525.9" y1="179.4" x2="525.9" y2="181.2" stroke="#4b97d8" stroke-width="0.5" />
<text x="533.3" y="181.9" font-size="4.55" fill="#111" text-anchor="start" font-weight="normal"  stroke="#111" stroke-width="0.11">aPD-1</text>
<line x1="521.9" y1="188.2" x2="529.8" y2="188.2" stroke="#4cb04a" stroke-width="0.8" />
<line x1="525.9" y1="187.3" x2="525.9" y2="189.1" stroke="#4cb04a" stroke-width="0.5" />
<text x="533.3" y="189.8" font-size="4.55" fill="#111" text-anchor="start" font-weight="normal"  stroke="#111" stroke-width="0.11">AHRi (CH-223191)</text>
<line x1="521.9" y1="196.1" x2="529.8" y2="196.1" stroke="#b066c8" stroke-width="0.8" />
<line x1="525.9" y1="195.2" x2="525.9" y2="197" stroke="#b066c8" stroke-width="0.5" />
<text x="533.3" y="197.7" font-size="4.55" fill="#111" text-anchor="start" font-weight="normal"  stroke="#111" stroke-width="0.11">aPD-1 + AHRi</text>
<line x1="388.5" y1="279.5" x2="388.5" y2="347.6" stroke="#111" stroke-width="0.8" />
<line x1="388.5" y1="347.6" x2="467" y2="347.6" stroke="#111" stroke-width="0.8" />
<line x1="386.9" y1="347.6" x2="388.5" y2="347.6" stroke="#111" stroke-width="0.5" />
<text x="384.7" y="349.6" font-size="5.6" fill="#222" text-anchor="end" font-weight="normal" >0</text>
<line x1="386.9" y1="330.83" x2="388.5" y2="330.83" stroke="#111" stroke-width="0.5" />
<text x="384.7" y="332.83" font-size="5.6" fill="#222" text-anchor="end" font-weight="normal" >200</text>
<line x1="386.9" y1="314.05" x2="388.5" y2="314.05" stroke="#111" stroke-width="0.5" />
<text x="384.7" y="316.05" font-size="5.6" fill="#222" text-anchor="end" font-weight="normal" >400</text>
<line x1="386.9" y1="297.27" x2="388.5" y2="297.27" stroke="#111" stroke-width="0.5" />
<text x="384.7" y="299.27" font-size="5.6" fill="#222" text-anchor="end" font-weight="normal" >600</text>
<line x1="386.9" y1="280.5" x2="388.5" y2="280.5" stroke="#111" stroke-width="0.5" />
<text x="384.7" y="282.5" font-size="5.6" fill="#222" text-anchor="end" font-weight="normal" >800</text>
<line x1="388.5" y1="347.6" x2="388.5" y2="349.6" stroke="#111" stroke-width="0.7" />
<text x="388.5" y="355.9" font-size="5.6" fill="#222" text-anchor="middle" font-weight="normal" >5</text>
<line x1="409.13" y1="347.6" x2="409.13" y2="349.6" stroke="#111" stroke-width="0.7" />
<text x="409.13" y="355.9" font-size="5.6" fill="#222" text-anchor="middle" font-weight="normal" >10</text>
<line x1="429.77" y1="347.6" x2="429.77" y2="349.6" stroke="#111" stroke-width="0.7" />
<text x="429.77" y="355.9" font-size="5.6" fill="#222" text-anchor="middle" font-weight="normal" >15</text>
<line x1="450.4" y1="347.6" x2="450.4" y2="349.6" stroke="#111" stroke-width="0.7" />
<text x="450.4" y="355.9" font-size="5.6" fill="#222" text-anchor="middle" font-weight="normal" >20</text>
<polyline points="396.75,346.34 405.01,345.92 413.26,344.25 425.64,341.31 433.9,339.21 442.15,337.12" stroke="#62c04e" stroke-width="0.7" fill="none" />
<line x1="396.75" y1="346.09" x2="396.75" y2="346.59" stroke="#62c04e" stroke-width="0.5" />
<line x1="395.55" y1="346.09" x2="397.95" y2="346.09" stroke="#62c04e" stroke-width="0.5" />
<line x1="395.55" y1="346.59" x2="397.95" y2="346.59" stroke="#62c04e" stroke-width="0.5" />
<circle cx="396.75" cy="346.34" r="1.1" fill="#62c04e" stroke="none" stroke-width="0.5"/>
<line x1="405.01" y1="345.59" x2="405.01" y2="346.26" stroke="#62c04e" stroke-width="0.5" />
<line x1="403.81" y1="345.59" x2="406.21" y2="345.59" stroke="#62c04e" stroke-width="0.5" />
<line x1="403.81" y1="346.26" x2="406.21" y2="346.26" stroke="#62c04e" stroke-width="0.5" />
<circle cx="405.01" cy="345.92" r="1.1" fill="#62c04e" stroke="none" stroke-width="0.5"/>
<line x1="413.26" y1="343.74" x2="413.26" y2="344.75" stroke="#62c04e" stroke-width="0.5" />
<line x1="412.06" y1="343.74" x2="414.46" y2="343.74" stroke="#62c04e" stroke-width="0.5" />
<line x1="412.06" y1="344.75" x2="414.46" y2="344.75" stroke="#62c04e" stroke-width="0.5" />
<circle cx="413.26" cy="344.25" r="1.1" fill="#62c04e" stroke="none" stroke-width="0.5"/>
<line x1="425.64" y1="340.47" x2="425.64" y2="342.15" stroke="#62c04e" stroke-width="0.5" />
<line x1="424.44" y1="340.47" x2="426.84" y2="340.47" stroke="#62c04e" stroke-width="0.5" />
<line x1="424.44" y1="342.15" x2="426.84" y2="342.15" stroke="#62c04e" stroke-width="0.5" />
<circle cx="425.64" cy="341.31" r="1.1" fill="#62c04e" stroke="none" stroke-width="0.5"/>
<line x1="433.9" y1="337.7" x2="433.9" y2="340.72" stroke="#62c04e" stroke-width="0.5" />
<line x1="432.7" y1="337.7" x2="435.1" y2="337.7" stroke="#62c04e" stroke-width="0.5" />
<line x1="432.7" y1="340.72" x2="435.1" y2="340.72" stroke="#62c04e" stroke-width="0.5" />
<circle cx="433.9" cy="339.21" r="1.1" fill="#62c04e" stroke="none" stroke-width="0.5"/>
<line x1="442.15" y1="335.27" x2="442.15" y2="338.96" stroke="#62c04e" stroke-width="0.5" />
<line x1="440.95" y1="335.27" x2="443.35" y2="335.27" stroke="#62c04e" stroke-width="0.5" />
<line x1="440.95" y1="338.96" x2="443.35" y2="338.96" stroke="#62c04e" stroke-width="0.5" />
<circle cx="442.15" cy="337.12" r="1.1" fill="#62c04e" stroke="none" stroke-width="0.5"/>
<polyline points="396.75,345.92 405.01,345.5 413.26,343.83 425.64,338.79 433.9,332.5 442.15,324.53" stroke="#a866c6" stroke-width="0.7" fill="none" />
<line x1="396.75" y1="345.67" x2="396.75" y2="346.17" stroke="#a866c6" stroke-width="0.5" />
<line x1="395.55" y1="345.67" x2="397.95" y2="345.67" stroke="#a866c6" stroke-width="0.5" />
<line x1="395.55" y1="346.17" x2="397.95" y2="346.17" stroke="#a866c6" stroke-width="0.5" />
<circle cx="396.75" cy="345.92" r="1.1" fill="#a866c6" stroke="none" stroke-width="0.5"/>
<line x1="405.01" y1="345.17" x2="405.01" y2="345.84" stroke="#a866c6" stroke-width="0.5" />
<line x1="403.81" y1="345.17" x2="406.21" y2="345.17" stroke="#a866c6" stroke-width="0.5" />
<line x1="403.81" y1="345.84" x2="406.21" y2="345.84" stroke="#a866c6" stroke-width="0.5" />
<circle cx="405.01" cy="345.5" r="1.1" fill="#a866c6" stroke="none" stroke-width="0.5"/>
<line x1="413.26" y1="343.32" x2="413.26" y2="344.33" stroke="#a866c6" stroke-width="0.5" />
<line x1="412.06" y1="343.32" x2="414.46" y2="343.32" stroke="#a866c6" stroke-width="0.5" />
<line x1="412.06" y1="344.33" x2="414.46" y2="344.33" stroke="#a866c6" stroke-width="0.5" />
<circle cx="413.26" cy="343.83" r="1.1" fill="#a866c6" stroke="none" stroke-width="0.5"/>
<line x1="425.64" y1="337.54" x2="425.64" y2="340.05" stroke="#a866c6" stroke-width="0.5" />
<line x1="424.44" y1="337.54" x2="426.84" y2="337.54" stroke="#a866c6" stroke-width="0.5" />
<line x1="424.44" y1="340.05" x2="426.84" y2="340.05" stroke="#a866c6" stroke-width="0.5" />
<circle cx="425.64" cy="338.79" r="1.1" fill="#a866c6" stroke="none" stroke-width="0.5"/>
<line x1="433.9" y1="330.41" x2="433.9" y2="334.6" stroke="#a866c6" stroke-width="0.5" />
<line x1="432.7" y1="330.41" x2="435.1" y2="330.41" stroke="#a866c6" stroke-width="0.5" />
<line x1="432.7" y1="334.6" x2="435.1" y2="334.6" stroke="#a866c6" stroke-width="0.5" />
<circle cx="433.9" cy="332.5" r="1.1" fill="#a866c6" stroke="none" stroke-width="0.5"/>
<line x1="442.15" y1="321.18" x2="442.15" y2="327.89" stroke="#a866c6" stroke-width="0.5" />
<line x1="440.95" y1="321.18" x2="443.35" y2="321.18" stroke="#a866c6" stroke-width="0.5" />
<line x1="440.95" y1="327.89" x2="443.35" y2="327.89" stroke="#a866c6" stroke-width="0.5" />
<circle cx="442.15" cy="324.53" r="1.1" fill="#a866c6" stroke="none" stroke-width="0.5"/>
<polyline points="396.75,345.92 405.01,345.5 413.26,343.83 425.64,338.37 433.9,332.08 442.15,322.44" stroke="#e5322b" stroke-width="0.7" fill="none" />
<line x1="396.75" y1="345.67" x2="396.75" y2="346.17" stroke="#e5322b" stroke-width="0.5" />
<line x1="395.55" y1="345.67" x2="397.95" y2="345.67" stroke="#e5322b" stroke-width="0.5" />
<line x1="395.55" y1="346.17" x2="397.95" y2="346.17" stroke="#e5322b" stroke-width="0.5" />
<circle cx="396.75" cy="345.92" r="1.1" fill="#e5322b" stroke="none" stroke-width="0.5"/>
<line x1="405.01" y1="345.17" x2="405.01" y2="345.84" stroke="#e5322b" stroke-width="0.5" />
<line x1="403.81" y1="345.17" x2="406.21" y2="345.17" stroke="#e5322b" stroke-width="0.5" />
<line x1="403.81" y1="345.84" x2="406.21" y2="345.84" stroke="#e5322b" stroke-width="0.5" />
<circle cx="405.01" cy="345.5" r="1.1" fill="#e5322b" stroke="none" stroke-width="0.5"/>
<line x1="413.26" y1="343.32" x2="413.26" y2="344.33" stroke="#e5322b" stroke-width="0.5" />
<line x1="412.06" y1="343.32" x2="414.46" y2="343.32" stroke="#e5322b" stroke-width="0.5" />
<line x1="412.06" y1="344.33" x2="414.46" y2="344.33" stroke="#e5322b" stroke-width="0.5" />
<circle cx="413.26" cy="343.83" r="1.1" fill="#e5322b" stroke="none" stroke-width="0.5"/>
<line x1="425.64" y1="337.12" x2="425.64" y2="339.63" stroke="#e5322b" stroke-width="0.5" />
<line x1="424.44" y1="337.12" x2="426.84" y2="337.12" stroke="#e5322b" stroke-width="0.5" />
<line x1="424.44" y1="339.63" x2="426.84" y2="339.63" stroke="#e5322b" stroke-width="0.5" />
<circle cx="425.64" cy="338.37" r="1.1" fill="#e5322b" stroke="none" stroke-width="0.5"/>
<line x1="433.9" y1="329.99" x2="433.9" y2="334.18" stroke="#e5322b" stroke-width="0.5" />
<line x1="432.7" y1="329.99" x2="435.1" y2="329.99" stroke="#e5322b" stroke-width="0.5" />
<line x1="432.7" y1="334.18" x2="435.1" y2="334.18" stroke="#e5322b" stroke-width="0.5" />
<circle cx="433.9" cy="332.08" r="1.1" fill="#e5322b" stroke="none" stroke-width="0.5"/>
<line x1="442.15" y1="319.5" x2="442.15" y2="325.37" stroke="#e5322b" stroke-width="0.5" />
<line x1="440.95" y1="319.5" x2="443.35" y2="319.5" stroke="#e5322b" stroke-width="0.5" />
<line x1="440.95" y1="325.37" x2="443.35" y2="325.37" stroke="#e5322b" stroke-width="0.5" />
<circle cx="442.15" cy="322.44" r="1.1" fill="#e5322b" stroke="none" stroke-width="0.5"/>
<polyline points="396.75,345.92 405.01,344.25 413.26,341.31 425.64,327.47 433.9,313.21 442.15,293.92" stroke="#4456c4" stroke-width="0.7" fill="none" />
<line x1="396.75" y1="345.67" x2="396.75" y2="346.17" stroke="#4456c4" stroke-width="0.5" />
<line x1="395.55" y1="345.67" x2="397.95" y2="345.67" stroke="#4456c4" stroke-width="0.5" />
<line x1="395.55" y1="346.17" x2="397.95" y2="346.17" stroke="#4456c4" stroke-width="0.5" />
<circle cx="396.75" cy="345.92" r="1.1" fill="#4456c4" stroke="none" stroke-width="0.5"/>
<line x1="405.01" y1="343.74" x2="405.01" y2="344.75" stroke="#4456c4" stroke-width="0.5" />
<line x1="403.81" y1="343.74" x2="406.21" y2="343.74" stroke="#4456c4" stroke-width="0.5" />
<line x1="403.81" y1="344.75" x2="406.21" y2="344.75" stroke="#4456c4" stroke-width="0.5" />
<circle cx="405.01" cy="344.25" r="1.1" fill="#4456c4" stroke="none" stroke-width="0.5"/>
<line x1="413.26" y1="340.47" x2="413.26" y2="342.15" stroke="#4456c4" stroke-width="0.5" />
<line x1="412.06" y1="340.47" x2="414.46" y2="340.47" stroke="#4456c4" stroke-width="0.5" />
<line x1="412.06" y1="342.15" x2="414.46" y2="342.15" stroke="#4456c4" stroke-width="0.5" />
<circle cx="413.26" cy="341.31" r="1.1" fill="#4456c4" stroke="none" stroke-width="0.5"/>
<line x1="425.64" y1="325.37" x2="425.64" y2="329.57" stroke="#4456c4" stroke-width="0.5" />
<line x1="424.44" y1="325.37" x2="426.84" y2="325.37" stroke="#4456c4" stroke-width="0.5" />
<line x1="424.44" y1="329.57" x2="426.84" y2="329.57" stroke="#4456c4" stroke-width="0.5" />
<circle cx="425.64" cy="327.47" r="1.1" fill="#4456c4" stroke="none" stroke-width="0.5"/>
<line x1="433.9" y1="309.86" x2="433.9" y2="316.57" stroke="#4456c4" stroke-width="0.5" />
<line x1="432.7" y1="309.86" x2="435.1" y2="309.86" stroke="#4456c4" stroke-width="0.5" />
<line x1="432.7" y1="316.57" x2="435.1" y2="316.57" stroke="#4456c4" stroke-width="0.5" />
<circle cx="433.9" cy="313.21" r="1.1" fill="#4456c4" stroke="none" stroke-width="0.5"/>
<line x1="442.15" y1="289.31" x2="442.15" y2="298.53" stroke="#4456c4" stroke-width="0.5" />
<line x1="440.95" y1="289.31" x2="443.35" y2="289.31" stroke="#4456c4" stroke-width="0.5" />
<line x1="440.95" y1="298.53" x2="443.35" y2="298.53" stroke="#4456c4" stroke-width="0.5" />
<circle cx="442.15" cy="293.92" r="1.1" fill="#4456c4" stroke="none" stroke-width="0.5"/>
<text x="428.2" y="272.8" font-size="7.4" fill="#111" text-anchor="middle" font-weight="normal" >B16<tspan font-size="4.44" dy="-2.59">IDO</tspan></text>
<text transform="translate(371.4 315.8) rotate(-90)" font-size="6" fill="#222" text-anchor="middle" >Tumor volume (mm<tspan font-size="3.6" dy="-2.1">3</tspan><tspan dy="2.1">)</tspan></text>
<text x="428.3" y="364.4" font-size="5.5" fill="#222" text-anchor="middle" font-weight="normal" >Days post cell-inoculation</text>
<rect x="391.4" y="276.7" width="45.9" height="14.6" fill="#fff" stroke="#222" stroke-width="0.6" />
<clipPath id="fclip"><rect x="391.4" y="276.7" width="45.6" height="14.6"/></clipPath>
<g clip-path="url(#fclip)">
<text x="392.7" y="282.3" font-size="4.3" fill="#222" text-anchor="start" font-weight="normal"  stroke="#222" stroke-width="0.12"><tspan font-size="2.8" dy="-1.2">*</tspan><tspan font-style="italic" dy="1.2">P</tspan> &lt; 0.001 vs. vehicle</text>
<text x="392.7" y="289.4" font-size="4.3" fill="#222" text-anchor="start" font-weight="normal"  stroke="#222" stroke-width="0.12"><tspan font-size="2.8" dy="-1.2">**</tspan><tspan font-style="italic" dy="1.2">P</tspan> &lt; 0.03 vs. <tspan fill="#4a6ac8">anti-PD-1</tspan></text>
</g>
<text x="449.9" y="323.4" font-size="6.6" fill="#111" text-anchor="middle" font-weight="bold" >*</text>
<text x="451.4" y="337.6" font-size="6.6" fill="#111" text-anchor="middle" font-weight="bold" letter-spacing="0.3">**</text>
<line x1="462" y1="294.2" x2="470.3" y2="294.2" stroke="#8c9ce0" stroke-width="0.9" />
<text x="471.8" y="295.7" font-size="4.3" fill="#111" text-anchor="start" font-weight="normal"  stroke="#111" stroke-width="0.12">Vehicle</text>
<line x1="462" y1="303.6" x2="470.3" y2="303.6" stroke="#f06a5c" stroke-width="0.9" />
<text x="471.8" y="305.1" font-size="4.3" fill="#111" text-anchor="start" font-weight="normal"  stroke="#111" stroke-width="0.12">10 mg/kg KYN-101</text>
<line x1="462" y1="313" x2="470.3" y2="313" stroke="#cfa2e0" stroke-width="0.9" />
<text x="471.8" y="314.5" font-size="4.3" fill="#111" text-anchor="start" font-weight="normal"  stroke="#111" stroke-width="0.12">aPD-1</text>
<line x1="462" y1="322.2" x2="470.3" y2="322.2" stroke="#92d082" stroke-width="0.9" />
<text x="471.8" y="323.7" font-size="4.3" fill="#111" text-anchor="start" font-weight="normal"  stroke="#111" stroke-width="0.12">KYN-101 + aPD-1</text>
<line x1="544.5" y1="279.1" x2="544.5" y2="347.5" stroke="#111" stroke-width="0.8" />
<line x1="544.5" y1="347.5" x2="623.7" y2="347.5" stroke="#111" stroke-width="0.8" />
<line x1="542.9" y1="347.5" x2="544.5" y2="347.5" stroke="#111" stroke-width="0.5" />
<text x="540.1" y="349.5" font-size="5.6" fill="#222" text-anchor="end" font-weight="normal" >0</text>
<line x1="542.9" y1="330.65" x2="544.5" y2="330.65" stroke="#111" stroke-width="0.5" />
<text x="540.1" y="332.65" font-size="5.6" fill="#222" text-anchor="end" font-weight="normal" >500</text>
<line x1="542.9" y1="313.8" x2="544.5" y2="313.8" stroke="#111" stroke-width="0.5" />
<text x="540.1" y="315.8" font-size="5.6" fill="#222" text-anchor="end" font-weight="normal" >1000</text>
<line x1="542.9" y1="296.95" x2="544.5" y2="296.95" stroke="#111" stroke-width="0.5" />
<text x="540.1" y="298.95" font-size="5.6" fill="#222" text-anchor="end" font-weight="normal" >1500</text>
<line x1="542.9" y1="280.1" x2="544.5" y2="280.1" stroke="#111" stroke-width="0.5" />
<text x="540.1" y="282.1" font-size="5.6" fill="#222" text-anchor="end" font-weight="normal" >2000</text>
<line x1="544.5" y1="347.5" x2="544.5" y2="349.5" stroke="#111" stroke-width="0.7" />
<text x="544.5" y="355.8" font-size="5.6" fill="#222" text-anchor="middle" font-weight="normal" >5</text>
<line x1="565.5" y1="347.5" x2="565.5" y2="349.5" stroke="#111" stroke-width="0.7" />
<text x="565.5" y="355.8" font-size="5.6" fill="#222" text-anchor="middle" font-weight="normal" >10</text>
<line x1="586.5" y1="347.5" x2="586.5" y2="349.5" stroke="#111" stroke-width="0.7" />
<text x="586.5" y="355.8" font-size="5.6" fill="#222" text-anchor="middle" font-weight="normal" >15</text>
<line x1="607.5" y1="347.5" x2="607.5" y2="349.5" stroke="#111" stroke-width="0.7" />
<text x="607.5" y="355.8" font-size="5.6" fill="#222" text-anchor="middle" font-weight="normal" >20</text>
<polyline points="552.9,346.15 565.5,345.14 573.9,343.79 582.3,342.44 594.9,341.77 603.3,340.76 611.7,339.75" stroke="#ec6aa6" stroke-width="0.7" fill="none" />
<line x1="552.9" y1="345.98" x2="552.9" y2="346.32" stroke="#ec6aa6" stroke-width="0.5" />
<line x1="551.7" y1="345.98" x2="554.1" y2="345.98" stroke="#ec6aa6" stroke-width="0.5" />
<line x1="551.7" y1="346.32" x2="554.1" y2="346.32" stroke="#ec6aa6" stroke-width="0.5" />
<circle cx="552.9" cy="346.15" r="1.1" fill="#ec6aa6" stroke="none" stroke-width="0.5"/>
<line x1="565.5" y1="344.87" x2="565.5" y2="345.41" stroke="#ec6aa6" stroke-width="0.5" />
<line x1="564.3" y1="344.87" x2="566.7" y2="344.87" stroke="#ec6aa6" stroke-width="0.5" />
<line x1="564.3" y1="345.41" x2="566.7" y2="345.41" stroke="#ec6aa6" stroke-width="0.5" />
<circle cx="565.5" cy="345.14" r="1.1" fill="#ec6aa6" stroke="none" stroke-width="0.5"/>
<line x1="573.9" y1="343.39" x2="573.9" y2="344.2" stroke="#ec6aa6" stroke-width="0.5" />
<line x1="572.7" y1="343.39" x2="575.1" y2="343.39" stroke="#ec6aa6" stroke-width="0.5" />
<line x1="572.7" y1="344.2" x2="575.1" y2="344.2" stroke="#ec6aa6" stroke-width="0.5" />
<circle cx="573.9" cy="343.79" r="1.1" fill="#ec6aa6" stroke="none" stroke-width="0.5"/>
<line x1="582.3" y1="341.77" x2="582.3" y2="343.12" stroke="#ec6aa6" stroke-width="0.5" />
<line x1="581.1" y1="341.77" x2="583.5" y2="341.77" stroke="#ec6aa6" stroke-width="0.5" />
<line x1="581.1" y1="343.12" x2="583.5" y2="343.12" stroke="#ec6aa6" stroke-width="0.5" />
<circle cx="582.3" cy="342.44" r="1.1" fill="#ec6aa6" stroke="none" stroke-width="0.5"/>
<line x1="594.9" y1="340.76" x2="594.9" y2="342.78" stroke="#ec6aa6" stroke-width="0.5" />
<line x1="593.7" y1="340.76" x2="596.1" y2="340.76" stroke="#ec6aa6" stroke-width="0.5" />
<line x1="593.7" y1="342.78" x2="596.1" y2="342.78" stroke="#ec6aa6" stroke-width="0.5" />
<circle cx="594.9" cy="341.77" r="1.1" fill="#ec6aa6" stroke="none" stroke-width="0.5"/>
<line x1="603.3" y1="339.41" x2="603.3" y2="342.11" stroke="#ec6aa6" stroke-width="0.5" />
<line x1="602.1" y1="339.41" x2="604.5" y2="339.41" stroke="#ec6aa6" stroke-width="0.5" />
<line x1="602.1" y1="342.11" x2="604.5" y2="342.11" stroke="#ec6aa6" stroke-width="0.5" />
<circle cx="603.3" cy="340.76" r="1.1" fill="#ec6aa6" stroke="none" stroke-width="0.5"/>
<line x1="611.7" y1="338.06" x2="611.7" y2="341.43" stroke="#ec6aa6" stroke-width="0.5" />
<line x1="610.5" y1="338.06" x2="612.9" y2="338.06" stroke="#ec6aa6" stroke-width="0.5" />
<line x1="610.5" y1="341.43" x2="612.9" y2="341.43" stroke="#ec6aa6" stroke-width="0.5" />
<circle cx="611.7" cy="339.75" r="1.1" fill="#ec6aa6" stroke="none" stroke-width="0.5"/>
<polyline points="552.9,346.15 565.5,344.8 573.9,343.12 582.3,341.43 594.9,340.09 603.3,338.4 611.7,337.39" stroke="#78cde8" stroke-width="0.7" fill="none" />
<line x1="552.9" y1="345.98" x2="552.9" y2="346.32" stroke="#78cde8" stroke-width="0.5" />
<line x1="551.7" y1="345.98" x2="554.1" y2="345.98" stroke="#78cde8" stroke-width="0.5" />
<line x1="551.7" y1="346.32" x2="554.1" y2="346.32" stroke="#78cde8" stroke-width="0.5" />
<circle cx="552.9" cy="346.15" r="1.1" fill="#78cde8" stroke="none" stroke-width="0.5"/>
<line x1="565.5" y1="344.53" x2="565.5" y2="345.07" stroke="#78cde8" stroke-width="0.5" />
<line x1="564.3" y1="344.53" x2="566.7" y2="344.53" stroke="#78cde8" stroke-width="0.5" />
<line x1="564.3" y1="345.07" x2="566.7" y2="345.07" stroke="#78cde8" stroke-width="0.5" />
<circle cx="565.5" cy="344.8" r="1.1" fill="#78cde8" stroke="none" stroke-width="0.5"/>
<line x1="573.9" y1="342.71" x2="573.9" y2="343.52" stroke="#78cde8" stroke-width="0.5" />
<line x1="572.7" y1="342.71" x2="575.1" y2="342.71" stroke="#78cde8" stroke-width="0.5" />
<line x1="572.7" y1="343.52" x2="575.1" y2="343.52" stroke="#78cde8" stroke-width="0.5" />
<circle cx="573.9" cy="343.12" r="1.1" fill="#78cde8" stroke="none" stroke-width="0.5"/>
<line x1="582.3" y1="340.76" x2="582.3" y2="342.11" stroke="#78cde8" stroke-width="0.5" />
<line x1="581.1" y1="340.76" x2="583.5" y2="340.76" stroke="#78cde8" stroke-width="0.5" />
<line x1="581.1" y1="342.11" x2="583.5" y2="342.11" stroke="#78cde8" stroke-width="0.5" />
<circle cx="582.3" cy="341.43" r="1.1" fill="#78cde8" stroke="none" stroke-width="0.5"/>
<line x1="594.9" y1="338.91" x2="594.9" y2="341.27" stroke="#78cde8" stroke-width="0.5" />
<line x1="593.7" y1="338.91" x2="596.1" y2="338.91" stroke="#78cde8" stroke-width="0.5" />
<line x1="593.7" y1="341.27" x2="596.1" y2="341.27" stroke="#78cde8" stroke-width="0.5" />
<circle cx="594.9" cy="340.09" r="1.1" fill="#78cde8" stroke="none" stroke-width="0.5"/>
<line x1="603.3" y1="336.72" x2="603.3" y2="340.09" stroke="#78cde8" stroke-width="0.5" />
<line x1="602.1" y1="336.72" x2="604.5" y2="336.72" stroke="#78cde8" stroke-width="0.5" />
<line x1="602.1" y1="340.09" x2="604.5" y2="340.09" stroke="#78cde8" stroke-width="0.5" />
<circle cx="603.3" cy="338.4" r="1.1" fill="#78cde8" stroke="none" stroke-width="0.5"/>
<line x1="611.7" y1="335.54" x2="611.7" y2="339.24" stroke="#78cde8" stroke-width="0.5" />
<line x1="610.5" y1="335.54" x2="612.9" y2="335.54" stroke="#78cde8" stroke-width="0.5" />
<line x1="610.5" y1="339.24" x2="612.9" y2="339.24" stroke="#78cde8" stroke-width="0.5" />
<circle cx="611.7" cy="337.39" r="1.1" fill="#78cde8" stroke="none" stroke-width="0.5"/>
<polyline points="552.9,346.15 565.5,344.8 573.9,342.44 582.3,338.74 594.9,332 603.3,323.91 611.7,317.17" stroke="#9ad48a" stroke-width="0.7" fill="none" />
<line x1="552.9" y1="345.98" x2="552.9" y2="346.32" stroke="#9ad48a" stroke-width="0.5" />
<line x1="551.7" y1="345.98" x2="554.1" y2="345.98" stroke="#9ad48a" stroke-width="0.5" />
<line x1="551.7" y1="346.32" x2="554.1" y2="346.32" stroke="#9ad48a" stroke-width="0.5" />
<circle cx="552.9" cy="346.15" r="1.1" fill="#9ad48a" stroke="none" stroke-width="0.5"/>
<line x1="565.5" y1="344.53" x2="565.5" y2="345.07" stroke="#9ad48a" stroke-width="0.5" />
<line x1="564.3" y1="344.53" x2="566.7" y2="344.53" stroke="#9ad48a" stroke-width="0.5" />
<line x1="564.3" y1="345.07" x2="566.7" y2="345.07" stroke="#9ad48a" stroke-width="0.5" />
<circle cx="565.5" cy="344.8" r="1.1" fill="#9ad48a" stroke="none" stroke-width="0.5"/>
<line x1="573.9" y1="341.94" x2="573.9" y2="342.95" stroke="#9ad48a" stroke-width="0.5" />
<line x1="572.7" y1="341.94" x2="575.1" y2="341.94" stroke="#9ad48a" stroke-width="0.5" />
<line x1="572.7" y1="342.95" x2="575.1" y2="342.95" stroke="#9ad48a" stroke-width="0.5" />
<circle cx="573.9" cy="342.44" r="1.1" fill="#9ad48a" stroke="none" stroke-width="0.5"/>
<line x1="582.3" y1="337.9" x2="582.3" y2="339.58" stroke="#9ad48a" stroke-width="0.5" />
<line x1="581.1" y1="337.9" x2="583.5" y2="337.9" stroke="#9ad48a" stroke-width="0.5" />
<line x1="581.1" y1="339.58" x2="583.5" y2="339.58" stroke="#9ad48a" stroke-width="0.5" />
<circle cx="582.3" cy="338.74" r="1.1" fill="#9ad48a" stroke="none" stroke-width="0.5"/>
<line x1="594.9" y1="330.31" x2="594.9" y2="333.68" stroke="#9ad48a" stroke-width="0.5" />
<line x1="593.7" y1="330.31" x2="596.1" y2="330.31" stroke="#9ad48a" stroke-width="0.5" />
<line x1="593.7" y1="333.68" x2="596.1" y2="333.68" stroke="#9ad48a" stroke-width="0.5" />
<circle cx="594.9" cy="332" r="1.1" fill="#9ad48a" stroke="none" stroke-width="0.5"/>
<line x1="603.3" y1="318.86" x2="603.3" y2="328.97" stroke="#9ad48a" stroke-width="0.5" />
<line x1="602.1" y1="318.86" x2="604.5" y2="318.86" stroke="#9ad48a" stroke-width="0.5" />
<line x1="602.1" y1="328.97" x2="604.5" y2="328.97" stroke="#9ad48a" stroke-width="0.5" />
<circle cx="603.3" cy="323.91" r="1.1" fill="#9ad48a" stroke="none" stroke-width="0.5"/>
<line x1="611.7" y1="310.43" x2="611.7" y2="323.91" stroke="#9ad48a" stroke-width="0.5" />
<line x1="610.5" y1="310.43" x2="612.9" y2="310.43" stroke="#9ad48a" stroke-width="0.5" />
<line x1="610.5" y1="323.91" x2="612.9" y2="323.91" stroke="#9ad48a" stroke-width="0.5" />
<circle cx="611.7" cy="317.17" r="1.1" fill="#9ad48a" stroke="none" stroke-width="0.5"/>
<polyline points="552.9,346.15 565.5,344.8 573.9,342.78 582.3,339.41 594.9,332.67 603.3,325.93 611.7,319.19" stroke="#9a66c0" stroke-width="0.7" fill="none" />
<line x1="552.9" y1="345.98" x2="552.9" y2="346.32" stroke="#9a66c0" stroke-width="0.5" />
<line x1="551.7" y1="345.98" x2="554.1" y2="345.98" stroke="#9a66c0" stroke-width="0.5" />
<line x1="551.7" y1="346.32" x2="554.1" y2="346.32" stroke="#9a66c0" stroke-width="0.5" />
<circle cx="552.9" cy="346.15" r="1.1" fill="#9a66c0" stroke="none" stroke-width="0.5"/>
<line x1="565.5" y1="344.53" x2="565.5" y2="345.07" stroke="#9a66c0" stroke-width="0.5" />
<line x1="564.3" y1="344.53" x2="566.7" y2="344.53" stroke="#9a66c0" stroke-width="0.5" />
<line x1="564.3" y1="345.07" x2="566.7" y2="345.07" stroke="#9a66c0" stroke-width="0.5" />
<circle cx="565.5" cy="344.8" r="1.1" fill="#9a66c0" stroke="none" stroke-width="0.5"/>
<line x1="573.9" y1="342.28" x2="573.9" y2="343.29" stroke="#9a66c0" stroke-width="0.5" />
<line x1="572.7" y1="342.28" x2="575.1" y2="342.28" stroke="#9a66c0" stroke-width="0.5" />
<line x1="572.7" y1="343.29" x2="575.1" y2="343.29" stroke="#9a66c0" stroke-width="0.5" />
<circle cx="573.9" cy="342.78" r="1.1" fill="#9a66c0" stroke="none" stroke-width="0.5"/>
<line x1="582.3" y1="338.57" x2="582.3" y2="340.25" stroke="#9a66c0" stroke-width="0.5" />
<line x1="581.1" y1="338.57" x2="583.5" y2="338.57" stroke="#9a66c0" stroke-width="0.5" />
<line x1="581.1" y1="340.25" x2="583.5" y2="340.25" stroke="#9a66c0" stroke-width="0.5" />
<circle cx="582.3" cy="339.41" r="1.1" fill="#9a66c0" stroke="none" stroke-width="0.5"/>
<line x1="594.9" y1="331.16" x2="594.9" y2="334.19" stroke="#9a66c0" stroke-width="0.5" />
<line x1="593.7" y1="331.16" x2="596.1" y2="331.16" stroke="#9a66c0" stroke-width="0.5" />
<line x1="593.7" y1="334.19" x2="596.1" y2="334.19" stroke="#9a66c0" stroke-width="0.5" />
<circle cx="594.9" cy="332.67" r="1.1" fill="#9a66c0" stroke="none" stroke-width="0.5"/>
<line x1="603.3" y1="322.56" x2="603.3" y2="329.3" stroke="#9a66c0" stroke-width="0.5" />
<line x1="602.1" y1="322.56" x2="604.5" y2="322.56" stroke="#9a66c0" stroke-width="0.5" />
<line x1="602.1" y1="329.3" x2="604.5" y2="329.3" stroke="#9a66c0" stroke-width="0.5" />
<circle cx="603.3" cy="325.93" r="1.1" fill="#9a66c0" stroke="none" stroke-width="0.5"/>
<line x1="611.7" y1="314.81" x2="611.7" y2="323.57" stroke="#9a66c0" stroke-width="0.5" />
<line x1="610.5" y1="314.81" x2="612.9" y2="314.81" stroke="#9a66c0" stroke-width="0.5" />
<line x1="610.5" y1="323.57" x2="612.9" y2="323.57" stroke="#9a66c0" stroke-width="0.5" />
<circle cx="611.7" cy="319.19" r="1.1" fill="#9a66c0" stroke="none" stroke-width="0.5"/>
<polyline points="552.9,346.15 565.5,344.8 573.9,342.78 582.3,339.75 594.9,333.35 603.3,325.93 611.7,318.52" stroke="#e03a30" stroke-width="0.7" fill="none" />
<line x1="552.9" y1="345.98" x2="552.9" y2="346.32" stroke="#e03a30" stroke-width="0.5" />
<line x1="551.7" y1="345.98" x2="554.1" y2="345.98" stroke="#e03a30" stroke-width="0.5" />
<line x1="551.7" y1="346.32" x2="554.1" y2="346.32" stroke="#e03a30" stroke-width="0.5" />
<circle cx="552.9" cy="346.15" r="1.1" fill="#e03a30" stroke="none" stroke-width="0.5"/>
<line x1="565.5" y1="344.53" x2="565.5" y2="345.07" stroke="#e03a30" stroke-width="0.5" />
<line x1="564.3" y1="344.53" x2="566.7" y2="344.53" stroke="#e03a30" stroke-width="0.5" />
<line x1="564.3" y1="345.07" x2="566.7" y2="345.07" stroke="#e03a30" stroke-width="0.5" />
<circle cx="565.5" cy="344.8" r="1.1" fill="#e03a30" stroke="none" stroke-width="0.5"/>
<line x1="573.9" y1="342.28" x2="573.9" y2="343.29" stroke="#e03a30" stroke-width="0.5" />
<line x1="572.7" y1="342.28" x2="575.1" y2="342.28" stroke="#e03a30" stroke-width="0.5" />
<line x1="572.7" y1="343.29" x2="575.1" y2="343.29" stroke="#e03a30" stroke-width="0.5" />
<circle cx="573.9" cy="342.78" r="1.1" fill="#e03a30" stroke="none" stroke-width="0.5"/>
<line x1="582.3" y1="338.91" x2="582.3" y2="340.59" stroke="#e03a30" stroke-width="0.5" />
<line x1="581.1" y1="338.91" x2="583.5" y2="338.91" stroke="#e03a30" stroke-width="0.5" />
<line x1="581.1" y1="340.59" x2="583.5" y2="340.59" stroke="#e03a30" stroke-width="0.5" />
<circle cx="582.3" cy="339.75" r="1.1" fill="#e03a30" stroke="none" stroke-width="0.5"/>
<line x1="594.9" y1="331.83" x2="594.9" y2="334.86" stroke="#e03a30" stroke-width="0.5" />
<line x1="593.7" y1="331.83" x2="596.1" y2="331.83" stroke="#e03a30" stroke-width="0.5" />
<line x1="593.7" y1="334.86" x2="596.1" y2="334.86" stroke="#e03a30" stroke-width="0.5" />
<circle cx="594.9" cy="333.35" r="1.1" fill="#e03a30" stroke="none" stroke-width="0.5"/>
<line x1="603.3" y1="323.57" x2="603.3" y2="328.29" stroke="#e03a30" stroke-width="0.5" />
<line x1="602.1" y1="323.57" x2="604.5" y2="323.57" stroke="#e03a30" stroke-width="0.5" />
<line x1="602.1" y1="328.29" x2="604.5" y2="328.29" stroke="#e03a30" stroke-width="0.5" />
<circle cx="603.3" cy="325.93" r="1.1" fill="#e03a30" stroke="none" stroke-width="0.5"/>
<line x1="611.7" y1="315.15" x2="611.7" y2="321.89" stroke="#e03a30" stroke-width="0.5" />
<line x1="610.5" y1="315.15" x2="612.9" y2="315.15" stroke="#e03a30" stroke-width="0.5" />
<line x1="610.5" y1="321.89" x2="612.9" y2="321.89" stroke="#e03a30" stroke-width="0.5" />
<circle cx="611.7" cy="318.52" r="1.1" fill="#e03a30" stroke="none" stroke-width="0.5"/>
<polyline points="552.9,345.81 565.5,344.13 573.9,341.43 582.3,335.37 594.9,325.6 603.3,311.78 611.7,299.31" stroke="#4a5cc0" stroke-width="0.7" fill="none" />
<line x1="552.9" y1="345.65" x2="552.9" y2="345.98" stroke="#4a5cc0" stroke-width="0.5" />
<line x1="551.7" y1="345.65" x2="554.1" y2="345.65" stroke="#4a5cc0" stroke-width="0.5" />
<line x1="551.7" y1="345.98" x2="554.1" y2="345.98" stroke="#4a5cc0" stroke-width="0.5" />
<circle cx="552.9" cy="345.81" r="1.1" fill="#4a5cc0" stroke="none" stroke-width="0.5"/>
<line x1="565.5" y1="343.79" x2="565.5" y2="344.47" stroke="#4a5cc0" stroke-width="0.5" />
<line x1="564.3" y1="343.79" x2="566.7" y2="343.79" stroke="#4a5cc0" stroke-width="0.5" />
<line x1="564.3" y1="344.47" x2="566.7" y2="344.47" stroke="#4a5cc0" stroke-width="0.5" />
<circle cx="565.5" cy="344.13" r="1.1" fill="#4a5cc0" stroke="none" stroke-width="0.5"/>
<line x1="573.9" y1="340.93" x2="573.9" y2="341.94" stroke="#4a5cc0" stroke-width="0.5" />
<line x1="572.7" y1="340.93" x2="575.1" y2="340.93" stroke="#4a5cc0" stroke-width="0.5" />
<line x1="572.7" y1="341.94" x2="575.1" y2="341.94" stroke="#4a5cc0" stroke-width="0.5" />
<circle cx="573.9" cy="341.43" r="1.1" fill="#4a5cc0" stroke="none" stroke-width="0.5"/>
<line x1="582.3" y1="334.36" x2="582.3" y2="336.38" stroke="#4a5cc0" stroke-width="0.5" />
<line x1="581.1" y1="334.36" x2="583.5" y2="334.36" stroke="#4a5cc0" stroke-width="0.5" />
<line x1="581.1" y1="336.38" x2="583.5" y2="336.38" stroke="#4a5cc0" stroke-width="0.5" />
<circle cx="582.3" cy="335.37" r="1.1" fill="#4a5cc0" stroke="none" stroke-width="0.5"/>
<line x1="594.9" y1="324.25" x2="594.9" y2="326.94" stroke="#4a5cc0" stroke-width="0.5" />
<line x1="593.7" y1="324.25" x2="596.1" y2="324.25" stroke="#4a5cc0" stroke-width="0.5" />
<line x1="593.7" y1="326.94" x2="596.1" y2="326.94" stroke="#4a5cc0" stroke-width="0.5" />
<circle cx="594.9" cy="325.6" r="1.1" fill="#4a5cc0" stroke="none" stroke-width="0.5"/>
<line x1="603.3" y1="308.75" x2="603.3" y2="314.81" stroke="#4a5cc0" stroke-width="0.5" />
<line x1="602.1" y1="308.75" x2="604.5" y2="308.75" stroke="#4a5cc0" stroke-width="0.5" />
<line x1="602.1" y1="314.81" x2="604.5" y2="314.81" stroke="#4a5cc0" stroke-width="0.5" />
<circle cx="603.3" cy="311.78" r="1.1" fill="#4a5cc0" stroke="none" stroke-width="0.5"/>
<line x1="611.7" y1="293.92" x2="611.7" y2="304.7" stroke="#4a5cc0" stroke-width="0.5" />
<line x1="610.5" y1="293.92" x2="612.9" y2="293.92" stroke="#4a5cc0" stroke-width="0.5" />
<line x1="610.5" y1="304.7" x2="612.9" y2="304.7" stroke="#4a5cc0" stroke-width="0.5" />
<circle cx="611.7" cy="299.31" r="1.1" fill="#4a5cc0" stroke="none" stroke-width="0.5"/>
<text x="584.8" y="274.4" font-size="6.8" fill="#111" text-anchor="middle" font-weight="normal" >CT26</text>
<text transform="translate(524.6 313) rotate(-90)" font-size="5.6" fill="#222" text-anchor="middle" >Tumor volume (mm<tspan font-size="3.4" dy="-2">3</tspan><tspan dy="2"> +/– SEM)</tspan></text>
<text x="584.6" y="364.3" font-size="5.6" fill="#222" text-anchor="middle" font-weight="normal" >Days post inoculation</text>
<line x1="624.5" y1="284.3" x2="632.2" y2="284.3" stroke="#4a5cc0" stroke-width="1" />
<text x="634.7" y="285.8" font-size="4.22" fill="#111" text-anchor="start" font-weight="normal"  stroke="#111" stroke-width="0.12">Vehicle</text>
<line x1="624.5" y1="294.1" x2="632.2" y2="294.1" stroke="#f0a080" stroke-width="1" />
<text x="634.7" y="295.6" font-size="4.22" fill="#111" text-anchor="start" font-weight="normal"  stroke="#111" stroke-width="0.12">3 mg/kg KYN-101</text>
<line x1="624.5" y1="303.4" x2="632.2" y2="303.4" stroke="#9a66c0" stroke-width="1" />
<text x="634.7" y="304.9" font-size="4.22" fill="#111" text-anchor="start" font-weight="normal"  stroke="#111" stroke-width="0.12">10 mg/kg KYN-101</text>
<line x1="624.5" y1="312.9" x2="632.2" y2="312.9" stroke="#9ad48a" stroke-width="1" />
<text x="634.7" y="314.4" font-size="4.22" fill="#111" text-anchor="start" font-weight="normal"  stroke="#111" stroke-width="0.12">aPD1</text>
<line x1="624.5" y1="322.5" x2="632.2" y2="322.5" stroke="#78cde8" stroke-width="1" />
<text x="634.7" y="324" font-size="4.22" fill="#111" text-anchor="start" font-weight="normal"  stroke="#111" stroke-width="0.12">3 mg/kg KYN-101 + aPD1</text>
<line x1="624.5" y1="332" x2="632.2" y2="332" stroke="#ec6aa6" stroke-width="1" />
<text x="634.7" y="333.5" font-size="4.22" fill="#111" text-anchor="start" font-weight="normal"  stroke="#111" stroke-width="0.12">10mg/kg KYN-101 + aPD1</text>
<line x1="410.5" y1="410" x2="410.5" y2="485.4" stroke="#111" stroke-width="0.9" />
<line x1="410.5" y1="485.4" x2="524.6" y2="485.4" stroke="#111" stroke-width="0.9" />
<line x1="408.7" y1="485.4" x2="410.5" y2="485.4" stroke="#111" stroke-width="0.6" />
<text x="406.2" y="487.4" font-size="5.6" fill="#222" text-anchor="end" font-weight="normal" >0</text>
<line x1="408.7" y1="451.05" x2="410.5" y2="451.05" stroke="#111" stroke-width="0.6" />
<text x="406.2" y="453.05" font-size="5.6" fill="#222" text-anchor="end" font-weight="normal" >50</text>
<line x1="408.7" y1="416.7" x2="410.5" y2="416.7" stroke="#111" stroke-width="0.6" />
<text x="406.2" y="418.7" font-size="5.6" fill="#222" text-anchor="end" font-weight="normal" >100</text>
<line x1="410.8" y1="485.4" x2="410.8" y2="487.2" stroke="#111" stroke-width="0.6" />
<text x="410.8" y="494.3" font-size="5.6" fill="#222" text-anchor="middle" font-weight="normal" >0</text>
<line x1="429.7" y1="485.4" x2="429.7" y2="487.2" stroke="#111" stroke-width="0.6" />
<text x="429.7" y="494.3" font-size="5.6" fill="#222" text-anchor="middle" font-weight="normal" >7</text>
<line x1="448.6" y1="485.4" x2="448.6" y2="487.2" stroke="#111" stroke-width="0.6" />
<text x="448.6" y="494.3" font-size="5.6" fill="#222" text-anchor="middle" font-weight="normal" >14</text>
<line x1="467.5" y1="485.4" x2="467.5" y2="487.2" stroke="#111" stroke-width="0.6" />
<text x="467.5" y="494.3" font-size="5.6" fill="#222" text-anchor="middle" font-weight="normal" >21</text>
<line x1="486.4" y1="485.4" x2="486.4" y2="487.2" stroke="#111" stroke-width="0.6" />
<text x="486.4" y="494.3" font-size="5.6" fill="#222" text-anchor="middle" font-weight="normal" >28</text>
<line x1="505.3" y1="485.4" x2="505.3" y2="487.2" stroke="#111" stroke-width="0.6" />
<text x="505.3" y="494.3" font-size="5.6" fill="#222" text-anchor="middle" font-weight="normal" >35</text>
<line x1="524.2" y1="485.4" x2="524.2" y2="487.2" stroke="#111" stroke-width="0.6" />
<text x="524.2" y="494.3" font-size="5.6" fill="#222" text-anchor="middle" font-weight="normal" >42</text>
<line x1="410.8" y1="451.05" x2="524.2" y2="451.05" stroke="#333" stroke-width="1" stroke-dasharray="0.9 0.8"/>
<polyline points="410.5,416.5 481.5,416.5 481.5,423.5 491.5,423.5 491.5,430.5 499.5,430.5 499.5,437.5 505.5,437.5 505.5,444.5 524.5,444.5" stroke="#a868c8" stroke-width="1" fill="none" stroke-linejoin="miter"/>
<polyline points="410.5,416.5 472.5,416.5 472.5,423.5 486.5,423.5 486.5,430.5 491.5,430.5 491.5,437.5 494.5,437.5 494.5,457.5 499.5,457.5 499.5,464.5 505.5,464.5 505.5,478.5 524.5,478.5" stroke="#55c050" stroke-width="1" fill="none" stroke-linejoin="miter"/>
<polyline points="410.5,416.5 462.5,416.5 462.5,423.5 470.5,423.5 470.5,430.5 472.5,430.5 472.5,437.5 481.5,437.5 481.5,451.5 486.5,451.5 486.5,457.5 491.5,457.5 491.5,471.5 494.5,471.5 494.5,485.5" stroke="#ec5048" stroke-width="1" fill="none" stroke-linejoin="miter"/>
<polyline points="410.5,416.5 464.5,416.5 464.5,423.5 467.5,423.5 467.5,444.5 470.5,444.5 470.5,451.5 472.5,451.5 472.5,457.5 481.5,457.5 481.5,485.5" stroke="#7088d8" stroke-width="1" fill="none" stroke-linejoin="miter"/>
<text x="484.4" y="446.2" font-size="7.6" fill="#111" text-anchor="middle" font-weight="bold" >*</text>
<text x="505" y="463.7" font-size="7.6" fill="#111" text-anchor="middle" font-weight="bold" letter-spacing="0.5">**</text>
<text x="518.6" y="442.9" font-size="7.6" fill="#111" text-anchor="middle" font-weight="bold" letter-spacing="0.5">***</text>
<text x="467.6" y="405.6" font-size="7" fill="#111" text-anchor="middle" font-weight="normal" >B16<tspan font-size="4.2" dy="-2.45">IDO</tspan></text>
<text transform="translate(391.6 448) rotate(-90)" font-size="6.2" fill="#222" text-anchor="middle" >Percent survival</text>
<text x="467.3" y="503.7" font-size="6.3" fill="#222" text-anchor="middle" font-weight="normal" >Days post inoculation</text>
<line x1="509" y1="412.6" x2="517.6" y2="412.6" stroke="#a4b4e8" stroke-width="1.2" />
<text x="520.4" y="414.5" font-size="5.2" fill="#111" text-anchor="start" font-weight="normal" >Vehicle</text>
<line x1="509" y1="418.4" x2="517.6" y2="418.4" stroke="#ec5048" stroke-width="1.2" />
<text x="520.4" y="420.3" font-size="5.2" fill="#111" text-anchor="start" font-weight="normal" >10 mg/kg KYN-101</text>
<line x1="509" y1="424.1" x2="517.6" y2="424.1" stroke="#55c050" stroke-width="1.2" />
<text x="520.4" y="426" font-size="5.2" fill="#111" text-anchor="start" font-weight="normal" >aPD-1</text>
<line x1="509" y1="429.9" x2="517.6" y2="429.9" stroke="#a868c8" stroke-width="1.2" />
<text x="520.4" y="431.8" font-size="5.2" fill="#111" text-anchor="start" font-weight="normal" >KYN-101 + aPD-1</text>
<rect x="531.1" y="451.5" width="52.9" height="24.1" fill="#fff" stroke="#222" stroke-width="0.6" />
<clipPath id="gclip"><rect x="531.1" y="451.5" width="52.9" height="24.1"/></clipPath>
<g clip-path="url(#gclip)">
<text x="533" y="457.6" font-size="4.75" fill="#111" text-anchor="start" font-weight="normal"  stroke="#111" stroke-width="0.11"><tspan font-size="3.1" dy="-1.3">*</tspan><tspan font-style="italic" dy="1.3">P</tspan> &lt; 0.03 vs. vehicle</text>
<text x="533" y="465.1" font-size="4.75" fill="#111" text-anchor="start" font-weight="normal"  stroke="#111" stroke-width="0.11"><tspan font-size="3.1" dy="-1.3">**</tspan><tspan font-style="italic" dy="1.3">P</tspan> &lt; 0.0001 vs. vehicle</text>
<text x="533" y="472.6" font-size="4.75" fill="#111" text-anchor="start" font-weight="normal"  stroke="#111" stroke-width="0.11"><tspan font-size="3.1" dy="-1.3">***</tspan><tspan font-style="italic" dy="1.3">P</tspan> &lt; 0.04 vs. anti-PD-1</text>
</g>
</svg>
</div></body></html>
